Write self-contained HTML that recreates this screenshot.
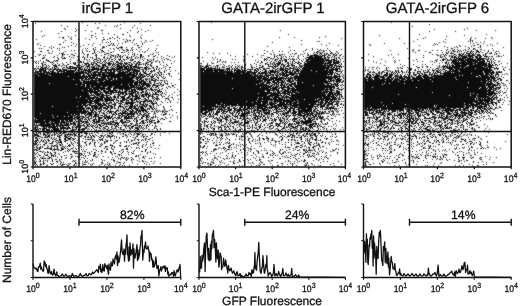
<!DOCTYPE html>
<html><head><meta charset="utf-8"><title>GATA-2irGFP flow cytometry</title>
<style>html,body{margin:0;padding:0;background:#fff}svg{display:block}text{stroke:#111;stroke-width:.3px;text-rendering:geometricPrecision}</style>
</head><body>
<svg width="520" height="306" viewBox="0 0 520 306" font-family='"Liberation Sans", Arial, Helvetica, sans-serif' fill="#111" stroke-linejoin="round">
<rect width="520" height="306" fill="#fff"/>
<defs><filter id="bl" x="0" y="0" width="520" height="306" filterUnits="userSpaceOnUse"><feConvolveMatrix order="3" kernelMatrix="1 2 1 2 14 2 1 2 1" divisor="26" edgeMode="none"/></filter></defs>
<path fill="#111" filter="url(#bl)" d="M82 22h1v1h-1zM124 22h1v1h-1zM35 23h1v1h-1zM95 23h1v1h-1zM99 23h1v1h-1zM140 23h1v1h-1zM120 24h1v1h-1zM61 25h1v1h-1zM87 25h1v1h-1zM105 25h1v1h-1zM117 25h1v1h-1zM134 25h1v1h-1zM150 25h1v1h-1zM67 26h1v1h-1zM114 26h1v1h-1zM116 26h1v1h-1zM98 27h1v1h-1zM132 27h1v1h-1zM64 28h1v1h-1zM75 28h1v1h-1zM97 28h1v1h-1zM120 28h1v1h-1zM137 28h1v1h-1zM65 29h1v1h-1zM78 29h1v1h-1zM141 29h1v1h-1zM76 30h1v1h-1zM85 30h1v1h-1zM101 30h2v1h-2zM130 30h1v1h-1zM148 30h1v1h-1zM41 31h1v1h-1zM61 31h1v1h-1zM75 31h1v1h-1zM91 31h1v1h-1zM138 31h1v1h-1zM145 31h1v1h-1zM127 32h1v1h-1zM137 32h1v1h-1zM58 33h1v1h-1zM95 33h1v1h-1zM102 33h1v1h-1zM108 33h1v1h-1zM114 34h1v1h-1zM122 34h2v1h-2zM44 35h1v1h-1zM75 35h1v1h-1zM91 35h2v1h-2zM129 35h1v1h-1zM141 35h1v1h-1zM42 36h1v1h-1zM68 36h1v1h-1zM95 36h1v1h-1zM117 36h1v1h-1zM130 36h1v1h-1zM59 37h1v1h-1zM62 37h2v1h-2zM71 37h1v1h-1zM91 37h1v1h-1zM103 37h1v1h-1zM112 37h1v1h-1zM117 37h1v1h-1zM140 37h1v1h-1zM63 38h1v1h-1zM70 38h1v1h-1zM85 38h1v1h-1zM96 38h1v1h-1zM109 38h2v1h-2zM114 38h1v1h-1zM119 38h1v1h-1zM141 38h1v1h-1zM36 39h1v1h-1zM71 39h1v1h-1zM78 39h1v1h-1zM89 39h1v1h-1zM103 39h2v1h-2zM107 39h1v1h-1zM123 39h1v1h-1zM126 39h1v1h-1zM134 39h1v1h-1zM65 40h1v1h-1zM102 40h1v1h-1zM117 40h1v1h-1zM127 40h1v1h-1zM129 40h2v1h-2zM133 40h1v1h-1zM145 40h1v1h-1zM152 40h1v1h-1zM110 41h1v1h-1zM125 41h1v1h-1zM127 41h1v1h-1zM141 41h1v1h-1zM146 41h1v1h-1zM150 41h1v1h-1zM63 42h1v1h-1zM71 42h1v1h-1zM102 42h1v1h-1zM106 42h1v1h-1zM108 42h1v1h-1zM125 42h1v1h-1zM132 42h1v1h-1zM144 42h1v1h-1zM38 43h1v1h-1zM73 43h1v1h-1zM93 43h1v1h-1zM111 43h1v1h-1zM113 43h1v1h-1zM118 43h1v1h-1zM122 43h1v1h-1zM136 43h1v1h-1zM142 43h1v1h-1zM37 44h1v1h-1zM59 44h2v1h-2zM76 44h1v1h-1zM88 44h1v1h-1zM100 44h1v1h-1zM110 44h1v1h-1zM113 44h1v1h-1zM134 44h1v1h-1zM142 44h1v1h-1zM40 45h1v1h-1zM71 45h1v1h-1zM83 45h1v1h-1zM92 45h1v1h-1zM108 45h2v1h-2zM112 45h1v1h-1zM114 45h1v1h-1zM117 45h1v1h-1zM137 45h2v1h-2zM157 45h1v1h-1zM44 46h1v1h-1zM51 46h1v1h-1zM68 46h1v1h-1zM75 46h1v1h-1zM80 46h1v1h-1zM103 46h1v1h-1zM106 46h1v1h-1zM121 46h1v1h-1zM141 46h1v1h-1zM49 47h1v1h-1zM53 47h1v1h-1zM62 47h1v1h-1zM64 47h1v1h-1zM95 47h1v1h-1zM102 47h3v1h-3zM116 47h1v1h-1zM119 47h4v1h-4zM126 47h1v1h-1zM132 47h1v1h-1zM138 47h2v1h-2zM39 48h1v1h-1zM41 48h1v1h-1zM51 48h1v1h-1zM57 48h1v1h-1zM59 48h1v1h-1zM85 48h1v1h-1zM87 48h1v1h-1zM93 48h1v1h-1zM102 48h1v1h-1zM110 48h1v1h-1zM113 48h1v1h-1zM117 48h2v1h-2zM121 48h1v1h-1zM131 48h1v1h-1zM148 48h1v1h-1zM156 48h1v1h-1zM82 49h1v1h-1zM93 49h1v1h-1zM95 49h1v1h-1zM100 49h1v1h-1zM114 49h1v1h-1zM122 49h1v1h-1zM126 49h2v1h-2zM132 49h1v1h-1zM136 49h1v1h-1zM140 49h1v1h-1zM47 50h2v1h-2zM59 50h1v1h-1zM71 50h1v1h-1zM74 50h1v1h-1zM86 50h1v1h-1zM94 50h1v1h-1zM101 50h2v1h-2zM108 50h1v1h-1zM119 50h1v1h-1zM123 50h2v1h-2zM127 50h2v1h-2zM130 50h1v1h-1zM132 50h1v1h-1zM147 50h1v1h-1zM155 50h1v1h-1zM34 51h1v1h-1zM40 51h2v1h-2zM52 51h1v1h-1zM65 51h1v1h-1zM82 51h1v1h-1zM87 51h1v1h-1zM89 51h1v1h-1zM94 51h1v1h-1zM97 51h1v1h-1zM102 51h2v1h-2zM113 51h1v1h-1zM126 51h1v1h-1zM139 51h1v1h-1zM142 51h1v1h-1zM145 51h1v1h-1zM48 52h1v1h-1zM63 52h1v1h-1zM82 52h1v1h-1zM94 52h1v1h-1zM99 52h1v1h-1zM101 52h1v1h-1zM104 52h1v1h-1zM110 52h2v1h-2zM121 52h2v1h-2zM124 52h1v1h-1zM128 52h1v1h-1zM132 52h1v1h-1zM144 52h1v1h-1zM156 52h1v1h-1zM158 52h1v1h-1zM49 53h1v1h-1zM51 53h1v1h-1zM59 53h1v1h-1zM61 53h2v1h-2zM75 53h1v1h-1zM83 53h1v1h-1zM92 53h2v1h-2zM95 53h1v1h-1zM106 53h3v1h-3zM134 53h1v1h-1zM153 53h1v1h-1zM38 54h1v1h-1zM40 54h1v1h-1zM62 54h3v1h-3zM67 54h1v1h-1zM71 54h2v1h-2zM84 54h1v1h-1zM87 54h2v1h-2zM96 54h1v1h-1zM104 54h2v1h-2zM110 54h1v1h-1zM117 54h2v1h-2zM128 54h1v1h-1zM132 54h1v1h-1zM134 54h1v1h-1zM137 54h1v1h-1zM140 54h2v1h-2zM150 54h1v1h-1zM152 54h1v1h-1zM158 54h1v1h-1zM39 55h1v1h-1zM43 55h1v1h-1zM45 55h1v1h-1zM57 55h1v1h-1zM62 55h1v1h-1zM73 55h2v1h-2zM87 55h1v1h-1zM95 55h2v1h-2zM101 55h1v1h-1zM108 55h1v1h-1zM111 55h3v1h-3zM115 55h1v1h-1zM118 55h1v1h-1zM120 55h1v1h-1zM123 55h1v1h-1zM125 55h1v1h-1zM134 55h1v1h-1zM140 55h2v1h-2zM148 55h1v1h-1zM155 55h1v1h-1zM167 55h1v1h-1zM35 56h1v1h-1zM54 56h1v1h-1zM62 56h1v1h-1zM69 56h1v1h-1zM77 56h2v1h-2zM83 56h1v1h-1zM87 56h1v1h-1zM96 56h1v1h-1zM104 56h1v1h-1zM110 56h1v1h-1zM113 56h1v1h-1zM115 56h1v1h-1zM117 56h1v1h-1zM119 56h2v1h-2zM122 56h1v1h-1zM127 56h1v1h-1zM131 56h1v1h-1zM133 56h1v1h-1zM136 56h1v1h-1zM140 56h2v1h-2zM143 56h1v1h-1zM148 56h1v1h-1zM153 56h2v1h-2zM161 56h1v1h-1zM169 56h1v1h-1zM174 56h1v1h-1zM43 57h2v1h-2zM53 57h1v1h-1zM57 57h1v1h-1zM61 57h1v1h-1zM64 57h1v1h-1zM71 57h1v1h-1zM73 57h1v1h-1zM82 57h1v1h-1zM84 57h1v1h-1zM87 57h1v1h-1zM90 57h1v1h-1zM92 57h1v1h-1zM96 57h1v1h-1zM103 57h2v1h-2zM107 57h1v1h-1zM110 57h2v1h-2zM115 57h1v1h-1zM117 57h1v1h-1zM120 57h1v1h-1zM122 57h1v1h-1zM126 57h2v1h-2zM129 57h1v1h-1zM131 57h1v1h-1zM135 57h1v1h-1zM138 57h1v1h-1zM140 57h1v1h-1zM142 57h1v1h-1zM157 57h1v1h-1zM163 57h1v1h-1zM172 57h1v1h-1zM42 58h2v1h-2zM58 58h1v1h-1zM62 58h4v1h-4zM78 58h1v1h-1zM84 58h1v1h-1zM92 58h1v1h-1zM96 58h1v1h-1zM98 58h2v1h-2zM104 58h1v1h-1zM107 58h1v1h-1zM109 58h1v1h-1zM114 58h1v1h-1zM120 58h1v1h-1zM127 58h2v1h-2zM131 58h1v1h-1zM135 58h1v1h-1zM137 58h1v1h-1zM140 58h1v1h-1zM144 58h1v1h-1zM153 58h1v1h-1zM161 58h1v1h-1zM166 58h1v1h-1zM46 59h1v1h-1zM58 59h1v1h-1zM70 59h1v1h-1zM78 59h1v1h-1zM84 59h1v1h-1zM86 59h1v1h-1zM89 59h1v1h-1zM94 59h3v1h-3zM100 59h1v1h-1zM102 59h1v1h-1zM106 59h1v1h-1zM109 59h1v1h-1zM111 59h2v1h-2zM115 59h1v1h-1zM118 59h3v1h-3zM123 59h2v1h-2zM126 59h1v1h-1zM130 59h1v1h-1zM132 59h2v1h-2zM142 59h1v1h-1zM147 59h1v1h-1zM150 59h1v1h-1zM153 59h1v1h-1zM164 59h1v1h-1zM167 59h2v1h-2zM40 60h1v1h-1zM46 60h3v1h-3zM54 60h1v1h-1zM56 60h2v1h-2zM77 60h3v1h-3zM87 60h1v1h-1zM93 60h1v1h-1zM97 60h2v1h-2zM100 60h1v1h-1zM104 60h2v1h-2zM108 60h1v1h-1zM114 60h1v1h-1zM119 60h1v1h-1zM121 60h1v1h-1zM124 60h1v1h-1zM130 60h3v1h-3zM139 60h1v1h-1zM143 60h1v1h-1zM147 60h2v1h-2zM151 60h1v1h-1zM153 60h1v1h-1zM157 60h1v1h-1zM162 60h1v1h-1zM170 60h1v1h-1zM34 61h1v1h-1zM36 61h1v1h-1zM38 61h1v1h-1zM43 61h1v1h-1zM48 61h2v1h-2zM53 61h1v1h-1zM55 61h1v1h-1zM57 61h1v1h-1zM70 61h1v1h-1zM80 61h2v1h-2zM83 61h1v1h-1zM89 61h1v1h-1zM94 61h1v1h-1zM96 61h1v1h-1zM100 61h1v1h-1zM103 61h1v1h-1zM105 61h1v1h-1zM110 61h3v1h-3zM116 61h2v1h-2zM121 61h2v1h-2zM134 61h2v1h-2zM138 61h1v1h-1zM149 61h2v1h-2zM155 61h2v1h-2zM159 61h1v1h-1zM174 61h1v1h-1zM35 62h1v1h-1zM43 62h1v1h-1zM45 62h1v1h-1zM50 62h3v1h-3zM66 62h1v1h-1zM73 62h1v1h-1zM75 62h1v1h-1zM77 62h1v1h-1zM80 62h2v1h-2zM83 62h1v1h-1zM87 62h1v1h-1zM91 62h1v1h-1zM93 62h2v1h-2zM97 62h3v1h-3zM102 62h1v1h-1zM104 62h1v1h-1zM106 62h1v1h-1zM108 62h2v1h-2zM113 62h1v1h-1zM116 62h3v1h-3zM120 62h1v1h-1zM124 62h1v1h-1zM126 62h1v1h-1zM128 62h3v1h-3zM133 62h1v1h-1zM137 62h4v1h-4zM146 62h3v1h-3zM151 62h2v1h-2zM159 62h1v1h-1zM163 62h1v1h-1zM36 63h1v1h-1zM38 63h1v1h-1zM41 63h2v1h-2zM53 63h1v1h-1zM57 63h1v1h-1zM62 63h1v1h-1zM70 63h1v1h-1zM73 63h3v1h-3zM84 63h5v1h-5zM91 63h1v1h-1zM93 63h1v1h-1zM95 63h2v1h-2zM100 63h2v1h-2zM105 63h1v1h-1zM107 63h5v1h-5zM113 63h1v1h-1zM115 63h1v1h-1zM118 63h5v1h-5zM124 63h4v1h-4zM131 63h1v1h-1zM134 63h1v1h-1zM136 63h2v1h-2zM139 63h1v1h-1zM143 63h1v1h-1zM145 63h2v1h-2zM151 63h1v1h-1zM171 63h1v1h-1zM42 64h1v1h-1zM44 64h2v1h-2zM52 64h1v1h-1zM55 64h1v1h-1zM59 64h1v1h-1zM63 64h1v1h-1zM67 64h2v1h-2zM74 64h2v1h-2zM78 64h1v1h-1zM82 64h1v1h-1zM85 64h2v1h-2zM88 64h2v1h-2zM91 64h3v1h-3zM96 64h2v1h-2zM102 64h4v1h-4zM108 64h3v1h-3zM112 64h3v1h-3zM116 64h3v1h-3zM120 64h2v1h-2zM123 64h1v1h-1zM125 64h2v1h-2zM128 64h2v1h-2zM131 64h2v1h-2zM135 64h2v1h-2zM138 64h4v1h-4zM143 64h1v1h-1zM145 64h1v1h-1zM147 64h2v1h-2zM150 64h1v1h-1zM160 64h1v1h-1zM166 64h1v1h-1zM42 65h2v1h-2zM46 65h1v1h-1zM48 65h1v1h-1zM53 65h4v1h-4zM58 65h2v1h-2zM62 65h1v1h-1zM64 65h1v1h-1zM66 65h1v1h-1zM76 65h5v1h-5zM84 65h1v1h-1zM86 65h1v1h-1zM88 65h2v1h-2zM92 65h1v1h-1zM95 65h1v1h-1zM97 65h3v1h-3zM102 65h4v1h-4zM108 65h2v1h-2zM112 65h1v1h-1zM115 65h1v1h-1zM117 65h3v1h-3zM121 65h1v1h-1zM123 65h2v1h-2zM127 65h1v1h-1zM129 65h3v1h-3zM135 65h2v1h-2zM138 65h1v1h-1zM145 65h1v1h-1zM150 65h2v1h-2zM163 65h1v1h-1zM167 65h1v1h-1zM36 66h1v1h-1zM38 66h1v1h-1zM40 66h1v1h-1zM42 66h1v1h-1zM46 66h1v1h-1zM49 66h1v1h-1zM54 66h3v1h-3zM61 66h1v1h-1zM66 66h1v1h-1zM69 66h4v1h-4zM77 66h1v1h-1zM81 66h3v1h-3zM86 66h4v1h-4zM91 66h1v1h-1zM93 66h2v1h-2zM96 66h1v1h-1zM98 66h3v1h-3zM102 66h2v1h-2zM105 66h3v1h-3zM111 66h1v1h-1zM113 66h2v1h-2zM116 66h13v1h-13zM130 66h7v1h-7zM138 66h1v1h-1zM146 66h1v1h-1zM148 66h1v1h-1zM151 66h1v1h-1zM156 66h2v1h-2zM165 66h1v1h-1zM41 67h2v1h-2zM44 67h3v1h-3zM48 67h1v1h-1zM52 67h1v1h-1zM54 67h1v1h-1zM56 67h2v1h-2zM63 67h2v1h-2zM66 67h2v1h-2zM69 67h2v1h-2zM72 67h10v1h-10zM85 67h1v1h-1zM87 67h1v1h-1zM89 67h1v1h-1zM91 67h4v1h-4zM96 67h1v1h-1zM98 67h1v1h-1zM101 67h4v1h-4zM107 67h2v1h-2zM110 67h1v1h-1zM112 67h1v1h-1zM115 67h1v1h-1zM117 67h6v1h-6zM124 67h3v1h-3zM128 67h4v1h-4zM133 67h10v1h-10zM144 67h4v1h-4zM152 67h2v1h-2zM157 67h1v1h-1zM163 67h1v1h-1zM169 67h2v1h-2zM34 68h2v1h-2zM37 68h2v1h-2zM40 68h6v1h-6zM47 68h1v1h-1zM50 68h1v1h-1zM52 68h1v1h-1zM54 68h2v1h-2zM58 68h1v1h-1zM62 68h1v1h-1zM67 68h10v1h-10zM79 68h2v1h-2zM82 68h1v1h-1zM84 68h1v1h-1zM87 68h1v1h-1zM89 68h1v1h-1zM92 68h7v1h-7zM100 68h4v1h-4zM106 68h2v1h-2zM111 68h4v1h-4zM116 68h7v1h-7zM124 68h5v1h-5zM130 68h3v1h-3zM134 68h1v1h-1zM137 68h3v1h-3zM144 68h3v1h-3zM148 68h3v1h-3zM153 68h1v1h-1zM156 68h1v1h-1zM159 68h1v1h-1zM161 68h1v1h-1zM165 68h1v1h-1zM34 69h1v1h-1zM36 69h1v1h-1zM39 69h5v1h-5zM45 69h2v1h-2zM48 69h4v1h-4zM53 69h8v1h-8zM62 69h5v1h-5zM70 69h1v1h-1zM75 69h2v1h-2zM78 69h5v1h-5zM84 69h3v1h-3zM88 69h15v1h-15zM104 69h17v1h-17zM122 69h15v1h-15zM139 69h1v1h-1zM141 69h3v1h-3zM145 69h2v1h-2zM148 69h1v1h-1zM154 69h1v1h-1zM156 69h1v1h-1zM158 69h1v1h-1zM169 69h1v1h-1zM35 70h1v1h-1zM39 70h7v1h-7zM49 70h1v1h-1zM52 70h2v1h-2zM56 70h2v1h-2zM59 70h3v1h-3zM63 70h13v1h-13zM77 70h2v1h-2zM81 70h1v1h-1zM83 70h7v1h-7zM91 70h3v1h-3zM97 70h2v1h-2zM100 70h7v1h-7zM108 70h4v1h-4zM113 70h2v1h-2zM116 70h2v1h-2zM119 70h4v1h-4zM124 70h1v1h-1zM127 70h4v1h-4zM132 70h8v1h-8zM143 70h1v1h-1zM146 70h1v1h-1zM151 70h1v1h-1zM153 70h2v1h-2zM159 70h1v1h-1zM164 70h1v1h-1zM166 70h1v1h-1zM175 70h1v1h-1zM35 71h7v1h-7zM43 71h4v1h-4zM48 71h1v1h-1zM50 71h4v1h-4zM57 71h8v1h-8zM66 71h9v1h-9zM76 71h1v1h-1zM78 71h1v1h-1zM80 71h4v1h-4zM85 71h1v1h-1zM87 71h5v1h-5zM94 71h4v1h-4zM100 71h2v1h-2zM105 71h2v1h-2zM108 71h1v1h-1zM110 71h2v1h-2zM113 71h3v1h-3zM117 71h4v1h-4zM122 71h2v1h-2zM125 71h5v1h-5zM131 71h1v1h-1zM133 71h7v1h-7zM142 71h2v1h-2zM145 71h1v1h-1zM148 71h1v1h-1zM150 71h3v1h-3zM154 71h1v1h-1zM159 71h1v1h-1zM164 71h1v1h-1zM170 71h1v1h-1zM34 72h5v1h-5zM40 72h2v1h-2zM43 72h7v1h-7zM51 72h5v1h-5zM57 72h2v1h-2zM61 72h1v1h-1zM63 72h11v1h-11zM75 72h12v1h-12zM88 72h3v1h-3zM92 72h23v1h-23zM118 72h10v1h-10zM129 72h6v1h-6zM136 72h2v1h-2zM140 72h1v1h-1zM143 72h3v1h-3zM151 72h1v1h-1zM157 72h2v1h-2zM160 72h2v1h-2zM164 72h1v1h-1zM34 73h2v1h-2zM37 73h8v1h-8zM46 73h38v1h-38zM85 73h4v1h-4zM90 73h2v1h-2zM93 73h3v1h-3zM98 73h3v1h-3zM102 73h3v1h-3zM106 73h9v1h-9zM117 73h9v1h-9zM127 73h5v1h-5zM133 73h5v1h-5zM139 73h2v1h-2zM144 73h3v1h-3zM149 73h2v1h-2zM155 73h1v1h-1zM158 73h1v1h-1zM161 73h1v1h-1zM168 73h2v1h-2zM178 73h1v1h-1zM34 74h14v1h-14zM49 74h32v1h-32zM83 74h2v1h-2zM87 74h3v1h-3zM91 74h16v1h-16zM108 74h27v1h-27zM136 74h2v1h-2zM139 74h5v1h-5zM146 74h4v1h-4zM152 74h1v1h-1zM154 74h1v1h-1zM156 74h1v1h-1zM159 74h1v1h-1zM161 74h1v1h-1zM163 74h1v1h-1zM166 74h1v1h-1zM169 74h1v1h-1zM34 75h4v1h-4zM39 75h11v1h-11zM51 75h30v1h-30zM82 75h3v1h-3zM86 75h1v1h-1zM88 75h13v1h-13zM102 75h35v1h-35zM138 75h1v1h-1zM140 75h3v1h-3zM144 75h1v1h-1zM146 75h1v1h-1zM149 75h1v1h-1zM152 75h1v1h-1zM154 75h1v1h-1zM157 75h1v1h-1zM159 75h2v1h-2zM169 75h1v1h-1zM34 76h34v1h-34zM69 76h22v1h-22zM92 76h4v1h-4zM97 76h1v1h-1zM99 76h31v1h-31zM131 76h6v1h-6zM138 76h3v1h-3zM142 76h4v1h-4zM147 76h2v1h-2zM150 76h4v1h-4zM156 76h1v1h-1zM161 76h1v1h-1zM163 76h1v1h-1zM171 76h1v1h-1zM34 77h54v1h-54zM89 77h6v1h-6zM96 77h2v1h-2zM101 77h5v1h-5zM107 77h2v1h-2zM110 77h11v1h-11zM122 77h13v1h-13zM136 77h8v1h-8zM151 77h2v1h-2zM157 77h2v1h-2zM162 77h1v1h-1zM165 77h1v1h-1zM34 78h50v1h-50zM85 78h2v1h-2zM88 78h18v1h-18zM107 78h6v1h-6zM114 78h2v1h-2zM117 78h17v1h-17zM135 78h4v1h-4zM140 78h2v1h-2zM145 78h1v1h-1zM147 78h1v1h-1zM149 78h1v1h-1zM151 78h1v1h-1zM153 78h2v1h-2zM158 78h1v1h-1zM163 78h2v1h-2zM34 79h39v1h-39zM74 79h5v1h-5zM81 79h2v1h-2zM84 79h6v1h-6zM91 79h2v1h-2zM95 79h2v1h-2zM98 79h9v1h-9zM108 79h5v1h-5zM114 79h2v1h-2zM117 79h16v1h-16zM136 79h2v1h-2zM139 79h3v1h-3zM143 79h1v1h-1zM145 79h3v1h-3zM149 79h1v1h-1zM151 79h2v1h-2zM155 79h2v1h-2zM179 79h1v1h-1zM34 80h46v1h-46zM81 80h4v1h-4zM86 80h1v1h-1zM88 80h1v1h-1zM90 80h14v1h-14zM105 80h6v1h-6zM112 80h23v1h-23zM137 80h3v1h-3zM141 80h3v1h-3zM146 80h1v1h-1zM149 80h1v1h-1zM151 80h5v1h-5zM157 80h2v1h-2zM160 80h3v1h-3zM164 80h1v1h-1zM166 80h1v1h-1zM34 81h47v1h-47zM83 81h14v1h-14zM98 81h5v1h-5zM104 81h30v1h-30zM135 81h3v1h-3zM139 81h7v1h-7zM147 81h1v1h-1zM149 81h2v1h-2zM154 81h2v1h-2zM164 81h1v1h-1zM167 81h1v1h-1zM34 82h64v1h-64zM99 82h43v1h-43zM143 82h3v1h-3zM149 82h2v1h-2zM154 82h1v1h-1zM159 82h1v1h-1zM161 82h1v1h-1zM164 82h1v1h-1zM34 83h15v1h-15zM50 83h32v1h-32zM83 83h50v1h-50zM134 83h4v1h-4zM139 83h10v1h-10zM150 83h2v1h-2zM154 83h1v1h-1zM156 83h3v1h-3zM160 83h1v1h-1zM165 83h3v1h-3zM171 83h1v1h-1zM34 84h42v1h-42zM77 84h8v1h-8zM86 84h35v1h-35zM122 84h6v1h-6zM129 84h4v1h-4zM134 84h4v1h-4zM139 84h1v1h-1zM141 84h9v1h-9zM153 84h2v1h-2zM160 84h2v1h-2zM163 84h1v1h-1zM167 84h1v1h-1zM175 84h1v1h-1zM34 85h47v1h-47zM82 85h3v1h-3zM86 85h4v1h-4zM91 85h50v1h-50zM142 85h3v1h-3zM146 85h5v1h-5zM152 85h8v1h-8zM162 85h2v1h-2zM172 85h2v1h-2zM34 86h51v1h-51zM86 86h8v1h-8zM95 86h6v1h-6zM102 86h5v1h-5zM108 86h5v1h-5zM114 86h15v1h-15zM130 86h5v1h-5zM136 86h1v1h-1zM138 86h1v1h-1zM140 86h4v1h-4zM146 86h4v1h-4zM152 86h1v1h-1zM156 86h2v1h-2zM161 86h1v1h-1zM168 86h2v1h-2zM172 86h1v1h-1zM34 87h56v1h-56zM91 87h14v1h-14zM107 87h5v1h-5zM113 87h30v1h-30zM144 87h2v1h-2zM147 87h1v1h-1zM149 87h1v1h-1zM151 87h1v1h-1zM153 87h1v1h-1zM155 87h2v1h-2zM158 87h1v1h-1zM166 87h1v1h-1zM170 87h1v1h-1zM174 87h1v1h-1zM34 88h58v1h-58zM93 88h18v1h-18zM113 88h19v1h-19zM134 88h1v1h-1zM136 88h11v1h-11zM150 88h2v1h-2zM158 88h1v1h-1zM162 88h1v1h-1zM167 88h1v1h-1zM34 89h54v1h-54zM89 89h10v1h-10zM100 89h5v1h-5zM106 89h5v1h-5zM113 89h3v1h-3zM119 89h4v1h-4zM124 89h6v1h-6zM131 89h5v1h-5zM137 89h7v1h-7zM145 89h1v1h-1zM147 89h2v1h-2zM150 89h3v1h-3zM154 89h3v1h-3zM159 89h1v1h-1zM161 89h1v1h-1zM177 89h1v1h-1zM34 90h48v1h-48zM83 90h10v1h-10zM94 90h2v1h-2zM97 90h3v1h-3zM101 90h1v1h-1zM103 90h3v1h-3zM108 90h10v1h-10zM119 90h1v1h-1zM122 90h1v1h-1zM125 90h3v1h-3zM129 90h1v1h-1zM131 90h5v1h-5zM139 90h1v1h-1zM141 90h2v1h-2zM146 90h1v1h-1zM149 90h1v1h-1zM151 90h3v1h-3zM155 90h1v1h-1zM157 90h3v1h-3zM165 90h1v1h-1zM34 91h67v1h-67zM103 91h11v1h-11zM115 91h2v1h-2zM118 91h3v1h-3zM122 91h1v1h-1zM124 91h3v1h-3zM128 91h5v1h-5zM134 91h4v1h-4zM142 91h2v1h-2zM145 91h2v1h-2zM154 91h1v1h-1zM157 91h5v1h-5zM179 91h1v1h-1zM34 92h54v1h-54zM89 92h9v1h-9zM100 92h3v1h-3zM104 92h5v1h-5zM110 92h17v1h-17zM129 92h1v1h-1zM131 92h5v1h-5zM137 92h2v1h-2zM140 92h4v1h-4zM145 92h1v1h-1zM147 92h1v1h-1zM149 92h1v1h-1zM152 92h1v1h-1zM155 92h2v1h-2zM158 92h1v1h-1zM160 92h1v1h-1zM162 92h1v1h-1zM166 92h1v1h-1zM174 92h1v1h-1zM34 93h55v1h-55zM90 93h2v1h-2zM94 93h7v1h-7zM102 93h1v1h-1zM105 93h7v1h-7zM113 93h1v1h-1zM118 93h1v1h-1zM120 93h4v1h-4zM125 93h2v1h-2zM128 93h6v1h-6zM135 93h1v1h-1zM137 93h2v1h-2zM141 93h1v1h-1zM145 93h3v1h-3zM149 93h1v1h-1zM153 93h1v1h-1zM155 93h2v1h-2zM162 93h1v1h-1zM164 93h1v1h-1zM34 94h55v1h-55zM91 94h1v1h-1zM93 94h1v1h-1zM95 94h9v1h-9zM106 94h1v1h-1zM110 94h2v1h-2zM115 94h1v1h-1zM117 94h4v1h-4zM122 94h2v1h-2zM125 94h3v1h-3zM129 94h4v1h-4zM135 94h2v1h-2zM138 94h1v1h-1zM140 94h1v1h-1zM142 94h7v1h-7zM150 94h1v1h-1zM152 94h7v1h-7zM160 94h2v1h-2zM165 94h1v1h-1zM172 94h1v1h-1zM179 94h1v1h-1zM34 95h61v1h-61zM96 95h4v1h-4zM101 95h9v1h-9zM114 95h1v1h-1zM118 95h2v1h-2zM124 95h2v1h-2zM129 95h1v1h-1zM131 95h3v1h-3zM135 95h3v1h-3zM139 95h1v1h-1zM141 95h3v1h-3zM145 95h2v1h-2zM148 95h3v1h-3zM152 95h1v1h-1zM158 95h1v1h-1zM161 95h1v1h-1zM169 95h1v1h-1zM177 95h1v1h-1zM34 96h46v1h-46zM81 96h9v1h-9zM94 96h2v1h-2zM97 96h1v1h-1zM99 96h5v1h-5zM106 96h2v1h-2zM110 96h1v1h-1zM113 96h3v1h-3zM117 96h2v1h-2zM120 96h5v1h-5zM128 96h3v1h-3zM132 96h6v1h-6zM139 96h1v1h-1zM141 96h4v1h-4zM146 96h1v1h-1zM148 96h2v1h-2zM151 96h3v1h-3zM156 96h2v1h-2zM162 96h1v1h-1zM164 96h1v1h-1zM168 96h1v1h-1zM34 97h42v1h-42zM77 97h2v1h-2zM80 97h19v1h-19zM100 97h5v1h-5zM106 97h6v1h-6zM113 97h3v1h-3zM117 97h2v1h-2zM121 97h4v1h-4zM127 97h3v1h-3zM132 97h1v1h-1zM135 97h5v1h-5zM143 97h1v1h-1zM147 97h2v1h-2zM152 97h1v1h-1zM154 97h1v1h-1zM157 97h1v1h-1zM162 97h1v1h-1zM171 97h2v1h-2zM34 98h52v1h-52zM87 98h8v1h-8zM96 98h7v1h-7zM104 98h6v1h-6zM111 98h1v1h-1zM114 98h1v1h-1zM116 98h1v1h-1zM118 98h1v1h-1zM120 98h1v1h-1zM122 98h3v1h-3zM126 98h3v1h-3zM130 98h3v1h-3zM134 98h7v1h-7zM144 98h2v1h-2zM148 98h1v1h-1zM152 98h2v1h-2zM155 98h4v1h-4zM165 98h4v1h-4zM34 99h57v1h-57zM92 99h2v1h-2zM95 99h8v1h-8zM104 99h11v1h-11zM116 99h1v1h-1zM122 99h5v1h-5zM129 99h4v1h-4zM134 99h3v1h-3zM138 99h1v1h-1zM141 99h1v1h-1zM143 99h1v1h-1zM145 99h2v1h-2zM148 99h1v1h-1zM154 99h1v1h-1zM156 99h2v1h-2zM159 99h1v1h-1zM168 99h1v1h-1zM173 99h1v1h-1zM178 99h1v1h-1zM34 100h54v1h-54zM89 100h4v1h-4zM94 100h10v1h-10zM105 100h9v1h-9zM116 100h3v1h-3zM120 100h5v1h-5zM126 100h3v1h-3zM131 100h4v1h-4zM136 100h1v1h-1zM139 100h1v1h-1zM144 100h4v1h-4zM149 100h3v1h-3zM153 100h1v1h-1zM157 100h1v1h-1zM165 100h1v1h-1zM169 100h1v1h-1zM34 101h44v1h-44zM79 101h21v1h-21zM102 101h1v1h-1zM104 101h4v1h-4zM110 101h1v1h-1zM113 101h1v1h-1zM118 101h1v1h-1zM120 101h3v1h-3zM126 101h1v1h-1zM128 101h1v1h-1zM131 101h2v1h-2zM136 101h3v1h-3zM140 101h6v1h-6zM147 101h5v1h-5zM153 101h1v1h-1zM155 101h1v1h-1zM161 101h1v1h-1zM170 101h1v1h-1zM34 102h58v1h-58zM94 102h5v1h-5zM100 102h1v1h-1zM103 102h1v1h-1zM106 102h1v1h-1zM109 102h3v1h-3zM114 102h1v1h-1zM116 102h2v1h-2zM120 102h1v1h-1zM122 102h2v1h-2zM125 102h11v1h-11zM137 102h1v1h-1zM139 102h2v1h-2zM143 102h2v1h-2zM147 102h1v1h-1zM151 102h2v1h-2zM156 102h1v1h-1zM162 102h1v1h-1zM167 102h1v1h-1zM170 102h1v1h-1zM177 102h1v1h-1zM34 103h53v1h-53zM89 103h5v1h-5zM95 103h6v1h-6zM102 103h3v1h-3zM106 103h4v1h-4zM111 103h1v1h-1zM114 103h2v1h-2zM118 103h4v1h-4zM125 103h9v1h-9zM139 103h2v1h-2zM143 103h1v1h-1zM145 103h1v1h-1zM149 103h1v1h-1zM151 103h6v1h-6zM34 104h48v1h-48zM83 104h3v1h-3zM87 104h4v1h-4zM95 104h1v1h-1zM97 104h5v1h-5zM103 104h3v1h-3zM108 104h1v1h-1zM112 104h4v1h-4zM120 104h1v1h-1zM122 104h1v1h-1zM124 104h1v1h-1zM126 104h2v1h-2zM130 104h3v1h-3zM135 104h1v1h-1zM137 104h1v1h-1zM140 104h4v1h-4zM145 104h3v1h-3zM152 104h2v1h-2zM157 104h1v1h-1zM160 104h1v1h-1zM34 105h54v1h-54zM89 105h8v1h-8zM98 105h9v1h-9zM108 105h4v1h-4zM114 105h2v1h-2zM119 105h2v1h-2zM124 105h1v1h-1zM128 105h1v1h-1zM130 105h3v1h-3zM134 105h1v1h-1zM136 105h2v1h-2zM139 105h1v1h-1zM142 105h3v1h-3zM146 105h2v1h-2zM149 105h2v1h-2zM153 105h1v1h-1zM158 105h1v1h-1zM34 106h18v1h-18zM53 106h24v1h-24zM78 106h5v1h-5zM85 106h2v1h-2zM91 106h8v1h-8zM100 106h3v1h-3zM106 106h3v1h-3zM110 106h3v1h-3zM114 106h1v1h-1zM118 106h5v1h-5zM125 106h3v1h-3zM129 106h7v1h-7zM137 106h1v1h-1zM139 106h4v1h-4zM144 106h3v1h-3zM149 106h3v1h-3zM153 106h1v1h-1zM156 106h1v1h-1zM163 106h1v1h-1zM170 106h1v1h-1zM34 107h50v1h-50zM85 107h1v1h-1zM87 107h3v1h-3zM91 107h2v1h-2zM94 107h4v1h-4zM99 107h3v1h-3zM103 107h3v1h-3zM107 107h3v1h-3zM111 107h2v1h-2zM114 107h1v1h-1zM118 107h1v1h-1zM120 107h1v1h-1zM122 107h2v1h-2zM125 107h1v1h-1zM129 107h4v1h-4zM134 107h2v1h-2zM138 107h1v1h-1zM140 107h4v1h-4zM145 107h1v1h-1zM150 107h2v1h-2zM153 107h1v1h-1zM163 107h1v1h-1zM34 108h51v1h-51zM86 108h5v1h-5zM92 108h10v1h-10zM103 108h5v1h-5zM110 108h3v1h-3zM114 108h2v1h-2zM118 108h1v1h-1zM123 108h2v1h-2zM126 108h1v1h-1zM128 108h4v1h-4zM133 108h6v1h-6zM140 108h4v1h-4zM147 108h3v1h-3zM151 108h2v1h-2zM154 108h1v1h-1zM156 108h1v1h-1zM164 108h1v1h-1zM34 109h51v1h-51zM86 109h1v1h-1zM88 109h1v1h-1zM90 109h1v1h-1zM92 109h2v1h-2zM95 109h2v1h-2zM98 109h2v1h-2zM101 109h1v1h-1zM106 109h2v1h-2zM110 109h1v1h-1zM117 109h1v1h-1zM120 109h1v1h-1zM124 109h1v1h-1zM126 109h3v1h-3zM131 109h2v1h-2zM135 109h3v1h-3zM139 109h1v1h-1zM141 109h5v1h-5zM147 109h1v1h-1zM149 109h1v1h-1zM152 109h2v1h-2zM155 109h1v1h-1zM164 109h1v1h-1zM171 109h1v1h-1zM34 110h44v1h-44zM79 110h3v1h-3zM83 110h3v1h-3zM87 110h1v1h-1zM90 110h4v1h-4zM96 110h1v1h-1zM100 110h2v1h-2zM103 110h1v1h-1zM105 110h1v1h-1zM108 110h1v1h-1zM110 110h1v1h-1zM116 110h3v1h-3zM120 110h1v1h-1zM122 110h2v1h-2zM125 110h1v1h-1zM127 110h2v1h-2zM130 110h1v1h-1zM132 110h2v1h-2zM136 110h11v1h-11zM156 110h2v1h-2zM159 110h1v1h-1zM162 110h1v1h-1zM164 110h1v1h-1zM169 110h1v1h-1zM172 110h1v1h-1zM34 111h55v1h-55zM91 111h2v1h-2zM94 111h2v1h-2zM98 111h3v1h-3zM104 111h1v1h-1zM107 111h7v1h-7zM115 111h2v1h-2zM118 111h1v1h-1zM122 111h1v1h-1zM124 111h3v1h-3zM129 111h5v1h-5zM135 111h2v1h-2zM138 111h3v1h-3zM142 111h2v1h-2zM145 111h2v1h-2zM148 111h1v1h-1zM151 111h2v1h-2zM154 111h1v1h-1zM156 111h1v1h-1zM158 111h1v1h-1zM160 111h1v1h-1zM162 111h2v1h-2zM165 111h3v1h-3zM34 112h33v1h-33zM68 112h19v1h-19zM88 112h6v1h-6zM95 112h2v1h-2zM99 112h1v1h-1zM101 112h1v1h-1zM103 112h1v1h-1zM106 112h1v1h-1zM109 112h3v1h-3zM114 112h2v1h-2zM120 112h1v1h-1zM122 112h4v1h-4zM127 112h1v1h-1zM130 112h3v1h-3zM134 112h3v1h-3zM138 112h1v1h-1zM140 112h1v1h-1zM143 112h1v1h-1zM146 112h2v1h-2zM154 112h1v1h-1zM157 112h1v1h-1zM162 112h1v1h-1zM164 112h1v1h-1zM176 112h1v1h-1zM34 113h6v1h-6zM41 113h39v1h-39zM81 113h5v1h-5zM87 113h5v1h-5zM93 113h1v1h-1zM95 113h2v1h-2zM99 113h1v1h-1zM102 113h3v1h-3zM107 113h1v1h-1zM109 113h1v1h-1zM111 113h1v1h-1zM113 113h1v1h-1zM115 113h2v1h-2zM118 113h17v1h-17zM136 113h2v1h-2zM139 113h2v1h-2zM144 113h2v1h-2zM148 113h2v1h-2zM154 113h2v1h-2zM165 113h2v1h-2zM34 114h37v1h-37zM72 114h2v1h-2zM75 114h4v1h-4zM81 114h1v1h-1zM84 114h1v1h-1zM86 114h7v1h-7zM94 114h5v1h-5zM104 114h1v1h-1zM106 114h1v1h-1zM112 114h3v1h-3zM116 114h1v1h-1zM118 114h1v1h-1zM121 114h2v1h-2zM125 114h1v1h-1zM127 114h8v1h-8zM137 114h1v1h-1zM140 114h2v1h-2zM143 114h2v1h-2zM146 114h1v1h-1zM148 114h1v1h-1zM153 114h1v1h-1zM161 114h1v1h-1zM163 114h3v1h-3zM169 114h1v1h-1zM34 115h18v1h-18zM53 115h23v1h-23zM77 115h2v1h-2zM85 115h2v1h-2zM89 115h3v1h-3zM94 115h3v1h-3zM98 115h1v1h-1zM100 115h3v1h-3zM104 115h3v1h-3zM109 115h1v1h-1zM112 115h1v1h-1zM115 115h1v1h-1zM118 115h3v1h-3zM122 115h3v1h-3zM126 115h3v1h-3zM131 115h1v1h-1zM133 115h1v1h-1zM138 115h2v1h-2zM142 115h2v1h-2zM145 115h4v1h-4zM155 115h1v1h-1zM163 115h1v1h-1zM172 115h1v1h-1zM34 116h23v1h-23zM58 116h6v1h-6zM65 116h3v1h-3zM69 116h4v1h-4zM74 116h1v1h-1zM76 116h2v1h-2zM79 116h5v1h-5zM85 116h1v1h-1zM88 116h2v1h-2zM91 116h1v1h-1zM93 116h6v1h-6zM103 116h2v1h-2zM106 116h4v1h-4zM111 116h2v1h-2zM119 116h1v1h-1zM121 116h2v1h-2zM124 116h3v1h-3zM128 116h7v1h-7zM137 116h1v1h-1zM142 116h3v1h-3zM146 116h2v1h-2zM149 116h1v1h-1zM153 116h1v1h-1zM155 116h1v1h-1zM177 116h1v1h-1zM34 117h19v1h-19zM54 117h19v1h-19zM74 117h6v1h-6zM82 117h3v1h-3zM86 117h3v1h-3zM91 117h1v1h-1zM93 117h1v1h-1zM95 117h1v1h-1zM98 117h5v1h-5zM104 117h8v1h-8zM114 117h2v1h-2zM117 117h3v1h-3zM121 117h1v1h-1zM124 117h6v1h-6zM131 117h1v1h-1zM136 117h1v1h-1zM138 117h1v1h-1zM141 117h2v1h-2zM146 117h3v1h-3zM151 117h3v1h-3zM155 117h1v1h-1zM157 117h1v1h-1zM165 117h1v1h-1zM170 117h1v1h-1zM35 118h40v1h-40zM76 118h3v1h-3zM80 118h3v1h-3zM85 118h1v1h-1zM88 118h1v1h-1zM90 118h2v1h-2zM95 118h1v1h-1zM98 118h4v1h-4zM104 118h2v1h-2zM107 118h4v1h-4zM112 118h2v1h-2zM116 118h1v1h-1zM118 118h3v1h-3zM124 118h9v1h-9zM134 118h3v1h-3zM141 118h2v1h-2zM146 118h1v1h-1zM150 118h1v1h-1zM152 118h1v1h-1zM161 118h2v1h-2zM166 118h1v1h-1zM177 118h1v1h-1zM34 119h2v1h-2zM37 119h36v1h-36zM74 119h2v1h-2zM77 119h1v1h-1zM79 119h2v1h-2zM82 119h1v1h-1zM84 119h3v1h-3zM88 119h2v1h-2zM93 119h4v1h-4zM98 119h2v1h-2zM103 119h1v1h-1zM106 119h1v1h-1zM108 119h1v1h-1zM112 119h1v1h-1zM117 119h1v1h-1zM121 119h2v1h-2zM124 119h1v1h-1zM126 119h1v1h-1zM134 119h1v1h-1zM136 119h1v1h-1zM139 119h2v1h-2zM146 119h3v1h-3zM150 119h1v1h-1zM157 119h1v1h-1zM160 119h1v1h-1zM163 119h2v1h-2zM34 120h10v1h-10zM45 120h15v1h-15zM61 120h3v1h-3zM65 120h3v1h-3zM69 120h4v1h-4zM75 120h1v1h-1zM78 120h1v1h-1zM80 120h2v1h-2zM87 120h1v1h-1zM89 120h1v1h-1zM92 120h3v1h-3zM96 120h1v1h-1zM98 120h6v1h-6zM106 120h2v1h-2zM113 120h1v1h-1zM115 120h2v1h-2zM120 120h3v1h-3zM126 120h4v1h-4zM133 120h1v1h-1zM136 120h2v1h-2zM142 120h2v1h-2zM145 120h2v1h-2zM149 120h1v1h-1zM151 120h4v1h-4zM158 120h1v1h-1zM34 121h16v1h-16zM51 121h9v1h-9zM61 121h4v1h-4zM66 121h7v1h-7zM74 121h1v1h-1zM76 121h3v1h-3zM80 121h8v1h-8zM90 121h1v1h-1zM93 121h2v1h-2zM96 121h4v1h-4zM102 121h1v1h-1zM104 121h1v1h-1zM110 121h4v1h-4zM120 121h3v1h-3zM124 121h2v1h-2zM129 121h2v1h-2zM134 121h1v1h-1zM136 121h2v1h-2zM141 121h3v1h-3zM147 121h1v1h-1zM149 121h3v1h-3zM157 121h3v1h-3zM169 121h2v1h-2zM34 122h15v1h-15zM50 122h3v1h-3zM54 122h13v1h-13zM68 122h1v1h-1zM70 122h1v1h-1zM73 122h2v1h-2zM76 122h1v1h-1zM78 122h2v1h-2zM82 122h2v1h-2zM85 122h4v1h-4zM92 122h1v1h-1zM94 122h6v1h-6zM101 122h1v1h-1zM103 122h1v1h-1zM105 122h1v1h-1zM107 122h4v1h-4zM112 122h6v1h-6zM119 122h1v1h-1zM121 122h8v1h-8zM136 122h1v1h-1zM140 122h1v1h-1zM142 122h2v1h-2zM145 122h1v1h-1zM147 122h1v1h-1zM149 122h1v1h-1zM151 122h2v1h-2zM154 122h2v1h-2zM157 122h2v1h-2zM34 123h1v1h-1zM36 123h1v1h-1zM38 123h1v1h-1zM40 123h5v1h-5zM46 123h4v1h-4zM51 123h8v1h-8zM60 123h2v1h-2zM63 123h2v1h-2zM66 123h3v1h-3zM70 123h6v1h-6zM78 123h1v1h-1zM80 123h2v1h-2zM84 123h1v1h-1zM86 123h1v1h-1zM89 123h1v1h-1zM93 123h2v1h-2zM96 123h1v1h-1zM101 123h8v1h-8zM110 123h2v1h-2zM115 123h4v1h-4zM122 123h2v1h-2zM130 123h3v1h-3zM136 123h2v1h-2zM139 123h2v1h-2zM142 123h3v1h-3zM150 123h1v1h-1zM154 123h2v1h-2zM161 123h1v1h-1zM34 124h1v1h-1zM36 124h1v1h-1zM39 124h16v1h-16zM56 124h3v1h-3zM60 124h3v1h-3zM64 124h5v1h-5zM70 124h2v1h-2zM73 124h3v1h-3zM77 124h3v1h-3zM83 124h1v1h-1zM86 124h4v1h-4zM91 124h1v1h-1zM96 124h1v1h-1zM98 124h3v1h-3zM104 124h1v1h-1zM106 124h1v1h-1zM108 124h8v1h-8zM117 124h2v1h-2zM124 124h1v1h-1zM126 124h1v1h-1zM131 124h1v1h-1zM135 124h1v1h-1zM137 124h1v1h-1zM147 124h1v1h-1zM149 124h1v1h-1zM34 125h17v1h-17zM52 125h3v1h-3zM56 125h14v1h-14zM73 125h1v1h-1zM75 125h1v1h-1zM77 125h1v1h-1zM79 125h6v1h-6zM87 125h1v1h-1zM90 125h1v1h-1zM92 125h2v1h-2zM95 125h1v1h-1zM97 125h1v1h-1zM99 125h2v1h-2zM102 125h2v1h-2zM106 125h1v1h-1zM114 125h1v1h-1zM116 125h1v1h-1zM118 125h1v1h-1zM121 125h1v1h-1zM123 125h4v1h-4zM128 125h3v1h-3zM133 125h5v1h-5zM139 125h2v1h-2zM142 125h1v1h-1zM144 125h1v1h-1zM146 125h2v1h-2zM152 125h1v1h-1zM155 125h1v1h-1zM35 126h1v1h-1zM37 126h1v1h-1zM41 126h17v1h-17zM59 126h2v1h-2zM62 126h2v1h-2zM66 126h1v1h-1zM68 126h1v1h-1zM72 126h1v1h-1zM74 126h1v1h-1zM76 126h5v1h-5zM84 126h1v1h-1zM86 126h4v1h-4zM91 126h2v1h-2zM94 126h1v1h-1zM97 126h1v1h-1zM100 126h2v1h-2zM105 126h3v1h-3zM111 126h2v1h-2zM115 126h3v1h-3zM125 126h1v1h-1zM127 126h2v1h-2zM131 126h3v1h-3zM138 126h2v1h-2zM141 126h1v1h-1zM146 126h1v1h-1zM148 126h1v1h-1zM155 126h2v1h-2zM34 127h4v1h-4zM43 127h2v1h-2zM46 127h1v1h-1zM48 127h8v1h-8zM57 127h1v1h-1zM60 127h6v1h-6zM67 127h3v1h-3zM72 127h2v1h-2zM75 127h3v1h-3zM79 127h2v1h-2zM85 127h2v1h-2zM92 127h1v1h-1zM95 127h3v1h-3zM99 127h1v1h-1zM103 127h2v1h-2zM108 127h1v1h-1zM111 127h1v1h-1zM115 127h1v1h-1zM118 127h1v1h-1zM120 127h2v1h-2zM125 127h1v1h-1zM129 127h1v1h-1zM131 127h2v1h-2zM135 127h3v1h-3zM139 127h1v1h-1zM141 127h1v1h-1zM143 127h1v1h-1zM146 127h1v1h-1zM154 127h1v1h-1zM34 128h2v1h-2zM37 128h1v1h-1zM39 128h2v1h-2zM42 128h5v1h-5zM49 128h1v1h-1zM52 128h7v1h-7zM60 128h11v1h-11zM72 128h1v1h-1zM76 128h1v1h-1zM79 128h1v1h-1zM82 128h5v1h-5zM88 128h1v1h-1zM93 128h1v1h-1zM99 128h2v1h-2zM102 128h1v1h-1zM104 128h2v1h-2zM108 128h1v1h-1zM112 128h1v1h-1zM114 128h2v1h-2zM120 128h1v1h-1zM126 128h1v1h-1zM129 128h2v1h-2zM132 128h1v1h-1zM135 128h4v1h-4zM140 128h1v1h-1zM142 128h1v1h-1zM144 128h1v1h-1zM146 128h1v1h-1zM154 128h1v1h-1zM156 128h1v1h-1zM160 128h1v1h-1zM34 129h5v1h-5zM40 129h1v1h-1zM42 129h3v1h-3zM46 129h4v1h-4zM51 129h1v1h-1zM53 129h6v1h-6zM60 129h2v1h-2zM63 129h1v1h-1zM66 129h2v1h-2zM72 129h5v1h-5zM78 129h7v1h-7zM87 129h1v1h-1zM89 129h1v1h-1zM91 129h1v1h-1zM94 129h1v1h-1zM96 129h1v1h-1zM103 129h1v1h-1zM106 129h2v1h-2zM110 129h2v1h-2zM113 129h1v1h-1zM116 129h1v1h-1zM118 129h1v1h-1zM120 129h2v1h-2zM123 129h2v1h-2zM130 129h1v1h-1zM134 129h1v1h-1zM137 129h2v1h-2zM143 129h1v1h-1zM148 129h2v1h-2zM152 129h1v1h-1zM157 129h1v1h-1zM160 129h1v1h-1zM35 130h2v1h-2zM38 130h1v1h-1zM42 130h3v1h-3zM46 130h4v1h-4zM51 130h10v1h-10zM63 130h2v1h-2zM70 130h4v1h-4zM78 130h2v1h-2zM82 130h2v1h-2zM95 130h2v1h-2zM98 130h4v1h-4zM104 130h1v1h-1zM107 130h3v1h-3zM113 130h1v1h-1zM116 130h1v1h-1zM122 130h2v1h-2zM127 130h1v1h-1zM129 130h1v1h-1zM135 130h3v1h-3zM139 130h1v1h-1zM141 130h1v1h-1zM157 130h1v1h-1zM34 131h4v1h-4zM43 131h4v1h-4zM48 131h1v1h-1zM50 131h2v1h-2zM54 131h6v1h-6zM64 131h1v1h-1zM66 131h1v1h-1zM71 131h2v1h-2zM74 131h2v1h-2zM77 131h1v1h-1zM80 131h4v1h-4zM87 131h1v1h-1zM90 131h2v1h-2zM102 131h2v1h-2zM105 131h1v1h-1zM109 131h1v1h-1zM112 131h1v1h-1zM118 131h1v1h-1zM124 131h3v1h-3zM128 131h1v1h-1zM130 131h4v1h-4zM138 131h1v1h-1zM36 132h1v1h-1zM38 132h3v1h-3zM43 132h1v1h-1zM45 132h5v1h-5zM51 132h1v1h-1zM53 132h2v1h-2zM56 132h1v1h-1zM59 132h3v1h-3zM63 132h4v1h-4zM69 132h1v1h-1zM71 132h2v1h-2zM74 132h1v1h-1zM77 132h1v1h-1zM79 132h4v1h-4zM84 132h3v1h-3zM94 132h1v1h-1zM96 132h2v1h-2zM109 132h1v1h-1zM111 132h2v1h-2zM119 132h2v1h-2zM125 132h1v1h-1zM129 132h1v1h-1zM135 132h1v1h-1zM139 132h1v1h-1zM141 132h1v1h-1zM155 132h1v1h-1zM164 132h1v1h-1zM34 133h1v1h-1zM36 133h1v1h-1zM38 133h1v1h-1zM40 133h1v1h-1zM43 133h2v1h-2zM47 133h2v1h-2zM50 133h1v1h-1zM54 133h1v1h-1zM56 133h2v1h-2zM59 133h2v1h-2zM62 133h3v1h-3zM68 133h1v1h-1zM70 133h1v1h-1zM73 133h2v1h-2zM76 133h1v1h-1zM81 133h1v1h-1zM84 133h4v1h-4zM89 133h1v1h-1zM91 133h2v1h-2zM98 133h1v1h-1zM102 133h1v1h-1zM107 133h1v1h-1zM109 133h2v1h-2zM112 133h1v1h-1zM117 133h1v1h-1zM122 133h2v1h-2zM130 133h1v1h-1zM134 133h1v1h-1zM136 133h3v1h-3zM140 133h1v1h-1zM151 133h2v1h-2zM160 133h1v1h-1zM169 133h1v1h-1zM34 134h4v1h-4zM40 134h1v1h-1zM43 134h3v1h-3zM47 134h1v1h-1zM49 134h1v1h-1zM52 134h1v1h-1zM54 134h2v1h-2zM58 134h1v1h-1zM61 134h1v1h-1zM65 134h8v1h-8zM74 134h2v1h-2zM78 134h2v1h-2zM86 134h1v1h-1zM89 134h1v1h-1zM95 134h1v1h-1zM105 134h1v1h-1zM111 134h1v1h-1zM120 134h1v1h-1zM123 134h1v1h-1zM125 134h1v1h-1zM128 134h1v1h-1zM131 134h1v1h-1zM134 134h1v1h-1zM137 134h3v1h-3zM142 134h2v1h-2zM145 134h1v1h-1zM151 134h1v1h-1zM154 134h1v1h-1zM34 135h5v1h-5zM43 135h1v1h-1zM45 135h2v1h-2zM48 135h2v1h-2zM51 135h2v1h-2zM54 135h1v1h-1zM57 135h1v1h-1zM59 135h3v1h-3zM64 135h2v1h-2zM67 135h1v1h-1zM70 135h1v1h-1zM72 135h1v1h-1zM74 135h3v1h-3zM81 135h2v1h-2zM86 135h1v1h-1zM90 135h1v1h-1zM92 135h2v1h-2zM96 135h1v1h-1zM100 135h3v1h-3zM104 135h1v1h-1zM107 135h3v1h-3zM112 135h2v1h-2zM125 135h2v1h-2zM133 135h1v1h-1zM137 135h1v1h-1zM142 135h1v1h-1zM150 135h1v1h-1zM160 135h1v1h-1zM34 136h1v1h-1zM37 136h4v1h-4zM45 136h1v1h-1zM47 136h3v1h-3zM57 136h3v1h-3zM64 136h3v1h-3zM68 136h2v1h-2zM74 136h1v1h-1zM77 136h1v1h-1zM79 136h3v1h-3zM84 136h2v1h-2zM88 136h1v1h-1zM91 136h1v1h-1zM93 136h2v1h-2zM98 136h1v1h-1zM101 136h1v1h-1zM103 136h1v1h-1zM106 136h1v1h-1zM108 136h5v1h-5zM114 136h1v1h-1zM116 136h1v1h-1zM122 136h2v1h-2zM127 136h1v1h-1zM130 136h1v1h-1zM136 136h2v1h-2zM141 136h1v1h-1zM143 136h2v1h-2zM146 136h2v1h-2zM35 137h2v1h-2zM41 137h2v1h-2zM44 137h4v1h-4zM49 137h1v1h-1zM51 137h1v1h-1zM54 137h1v1h-1zM59 137h2v1h-2zM65 137h3v1h-3zM70 137h2v1h-2zM85 137h1v1h-1zM87 137h2v1h-2zM90 137h2v1h-2zM94 137h1v1h-1zM99 137h2v1h-2zM103 137h1v1h-1zM107 137h1v1h-1zM110 137h1v1h-1zM116 137h1v1h-1zM119 137h1v1h-1zM126 137h1v1h-1zM133 137h1v1h-1zM135 137h1v1h-1zM143 137h1v1h-1zM152 137h1v1h-1zM35 138h3v1h-3zM39 138h1v1h-1zM51 138h1v1h-1zM53 138h1v1h-1zM56 138h1v1h-1zM59 138h1v1h-1zM64 138h2v1h-2zM67 138h4v1h-4zM72 138h2v1h-2zM75 138h1v1h-1zM78 138h1v1h-1zM83 138h1v1h-1zM91 138h1v1h-1zM102 138h1v1h-1zM110 138h1v1h-1zM114 138h1v1h-1zM119 138h1v1h-1zM135 138h1v1h-1zM145 138h2v1h-2zM150 138h1v1h-1zM37 139h1v1h-1zM41 139h1v1h-1zM44 139h1v1h-1zM47 139h2v1h-2zM52 139h1v1h-1zM54 139h2v1h-2zM59 139h2v1h-2zM64 139h2v1h-2zM68 139h3v1h-3zM73 139h2v1h-2zM78 139h1v1h-1zM85 139h1v1h-1zM87 139h4v1h-4zM92 139h2v1h-2zM99 139h4v1h-4zM105 139h1v1h-1zM128 139h1v1h-1zM134 139h1v1h-1zM137 139h2v1h-2zM142 139h1v1h-1zM145 139h1v1h-1zM148 139h2v1h-2zM35 140h4v1h-4zM41 140h1v1h-1zM43 140h1v1h-1zM45 140h1v1h-1zM48 140h2v1h-2zM56 140h2v1h-2zM59 140h2v1h-2zM65 140h3v1h-3zM72 140h1v1h-1zM77 140h1v1h-1zM92 140h1v1h-1zM94 140h1v1h-1zM97 140h1v1h-1zM100 140h1v1h-1zM102 140h1v1h-1zM106 140h2v1h-2zM110 140h2v1h-2zM116 140h2v1h-2zM128 140h1v1h-1zM131 140h2v1h-2zM134 140h1v1h-1zM138 140h1v1h-1zM141 140h1v1h-1zM143 140h1v1h-1zM145 140h1v1h-1zM152 140h1v1h-1zM34 141h3v1h-3zM40 141h1v1h-1zM42 141h2v1h-2zM46 141h1v1h-1zM48 141h1v1h-1zM52 141h2v1h-2zM55 141h1v1h-1zM58 141h1v1h-1zM60 141h2v1h-2zM64 141h2v1h-2zM70 141h1v1h-1zM74 141h1v1h-1zM79 141h1v1h-1zM82 141h1v1h-1zM86 141h1v1h-1zM92 141h1v1h-1zM104 141h1v1h-1zM106 141h2v1h-2zM115 141h1v1h-1zM124 141h1v1h-1zM126 141h1v1h-1zM131 141h1v1h-1zM147 141h1v1h-1zM35 142h1v1h-1zM37 142h1v1h-1zM39 142h1v1h-1zM44 142h1v1h-1zM46 142h1v1h-1zM52 142h1v1h-1zM56 142h1v1h-1zM58 142h4v1h-4zM71 142h1v1h-1zM75 142h1v1h-1zM77 142h1v1h-1zM84 142h2v1h-2zM90 142h1v1h-1zM94 142h2v1h-2zM98 142h1v1h-1zM104 142h2v1h-2zM114 142h1v1h-1zM120 142h1v1h-1zM126 142h1v1h-1zM129 142h1v1h-1zM136 142h1v1h-1zM138 142h2v1h-2zM146 142h1v1h-1zM153 142h1v1h-1zM34 143h3v1h-3zM45 143h2v1h-2zM49 143h4v1h-4zM57 143h1v1h-1zM61 143h1v1h-1zM67 143h1v1h-1zM71 143h1v1h-1zM73 143h1v1h-1zM77 143h1v1h-1zM79 143h1v1h-1zM85 143h1v1h-1zM89 143h2v1h-2zM94 143h1v1h-1zM101 143h1v1h-1zM104 143h1v1h-1zM113 143h1v1h-1zM120 143h1v1h-1zM133 143h4v1h-4zM138 143h1v1h-1zM152 143h2v1h-2zM34 144h3v1h-3zM38 144h1v1h-1zM40 144h1v1h-1zM43 144h2v1h-2zM56 144h1v1h-1zM59 144h2v1h-2zM62 144h1v1h-1zM69 144h1v1h-1zM72 144h1v1h-1zM79 144h1v1h-1zM86 144h1v1h-1zM89 144h1v1h-1zM94 144h1v1h-1zM100 144h1v1h-1zM102 144h1v1h-1zM110 144h1v1h-1zM131 144h1v1h-1zM133 144h1v1h-1zM137 144h1v1h-1zM143 144h1v1h-1zM146 144h1v1h-1zM150 144h1v1h-1zM34 145h1v1h-1zM37 145h1v1h-1zM44 145h1v1h-1zM47 145h1v1h-1zM51 145h2v1h-2zM54 145h2v1h-2zM57 145h1v1h-1zM60 145h2v1h-2zM68 145h3v1h-3zM73 145h1v1h-1zM77 145h1v1h-1zM79 145h1v1h-1zM81 145h1v1h-1zM86 145h1v1h-1zM94 145h1v1h-1zM101 145h1v1h-1zM110 145h3v1h-3zM119 145h2v1h-2zM126 145h1v1h-1zM129 145h1v1h-1zM138 145h1v1h-1zM142 145h1v1h-1zM145 145h1v1h-1zM153 145h1v1h-1zM159 145h1v1h-1zM36 146h1v1h-1zM40 146h1v1h-1zM42 146h1v1h-1zM48 146h1v1h-1zM51 146h1v1h-1zM53 146h2v1h-2zM56 146h2v1h-2zM62 146h2v1h-2zM65 146h1v1h-1zM67 146h1v1h-1zM69 146h1v1h-1zM80 146h1v1h-1zM84 146h1v1h-1zM95 146h1v1h-1zM99 146h2v1h-2zM105 146h3v1h-3zM112 146h1v1h-1zM114 146h1v1h-1zM120 146h1v1h-1zM124 146h3v1h-3zM128 146h1v1h-1zM142 146h1v1h-1zM150 146h1v1h-1zM34 147h1v1h-1zM36 147h2v1h-2zM39 147h2v1h-2zM42 147h1v1h-1zM47 147h1v1h-1zM51 147h1v1h-1zM57 147h1v1h-1zM61 147h1v1h-1zM64 147h1v1h-1zM73 147h1v1h-1zM81 147h1v1h-1zM105 147h1v1h-1zM111 147h1v1h-1zM114 147h1v1h-1zM131 147h1v1h-1zM136 147h1v1h-1zM138 147h1v1h-1zM142 147h1v1h-1zM147 147h1v1h-1zM151 147h1v1h-1zM37 148h1v1h-1zM39 148h2v1h-2zM44 148h8v1h-8zM54 148h1v1h-1zM57 148h1v1h-1zM61 148h3v1h-3zM65 148h1v1h-1zM67 148h1v1h-1zM71 148h2v1h-2zM75 148h1v1h-1zM78 148h1v1h-1zM104 148h1v1h-1zM107 148h1v1h-1zM111 148h1v1h-1zM126 148h2v1h-2zM136 148h1v1h-1zM139 148h1v1h-1zM155 148h1v1h-1zM158 148h1v1h-1zM34 149h3v1h-3zM38 149h2v1h-2zM50 149h2v1h-2zM53 149h6v1h-6zM61 149h3v1h-3zM68 149h1v1h-1zM70 149h1v1h-1zM76 149h1v1h-1zM81 149h1v1h-1zM83 149h1v1h-1zM86 149h1v1h-1zM93 149h1v1h-1zM95 149h1v1h-1zM106 149h2v1h-2zM112 149h2v1h-2zM122 149h2v1h-2zM126 149h2v1h-2zM145 149h2v1h-2zM34 150h1v1h-1zM36 150h2v1h-2zM52 150h1v1h-1zM54 150h1v1h-1zM58 150h1v1h-1zM60 150h2v1h-2zM67 150h1v1h-1zM69 150h1v1h-1zM73 150h1v1h-1zM96 150h1v1h-1zM101 150h1v1h-1zM121 150h1v1h-1zM134 150h1v1h-1zM145 150h1v1h-1zM39 151h3v1h-3zM43 151h1v1h-1zM47 151h1v1h-1zM65 151h1v1h-1zM68 151h1v1h-1zM72 151h6v1h-6zM82 151h1v1h-1zM84 151h2v1h-2zM91 151h1v1h-1zM98 151h1v1h-1zM101 151h2v1h-2zM105 151h1v1h-1zM110 151h1v1h-1zM113 151h1v1h-1zM119 151h1v1h-1zM123 151h1v1h-1zM127 151h1v1h-1zM133 151h1v1h-1zM141 151h2v1h-2zM145 151h1v1h-1zM150 151h1v1h-1zM34 152h1v1h-1zM37 152h1v1h-1zM42 152h1v1h-1zM45 152h1v1h-1zM47 152h2v1h-2zM50 152h1v1h-1zM54 152h2v1h-2zM63 152h1v1h-1zM74 152h1v1h-1zM87 152h1v1h-1zM89 152h1v1h-1zM94 152h2v1h-2zM105 152h1v1h-1zM110 152h2v1h-2zM122 152h1v1h-1zM128 152h1v1h-1zM131 152h1v1h-1zM147 152h1v1h-1zM150 152h1v1h-1zM34 153h1v1h-1zM36 153h1v1h-1zM44 153h1v1h-1zM50 153h2v1h-2zM55 153h1v1h-1zM58 153h1v1h-1zM75 153h3v1h-3zM79 153h3v1h-3zM84 153h1v1h-1zM89 153h1v1h-1zM94 153h1v1h-1zM101 153h1v1h-1zM111 153h1v1h-1zM114 153h2v1h-2zM121 153h1v1h-1zM132 153h2v1h-2zM147 153h1v1h-1zM153 153h1v1h-1zM35 154h1v1h-1zM38 154h1v1h-1zM44 154h1v1h-1zM47 154h1v1h-1zM51 154h1v1h-1zM54 154h1v1h-1zM59 154h1v1h-1zM70 154h2v1h-2zM79 154h1v1h-1zM81 154h2v1h-2zM90 154h1v1h-1zM94 154h2v1h-2zM98 154h1v1h-1zM112 154h1v1h-1zM118 154h2v1h-2zM128 154h1v1h-1zM140 154h1v1h-1zM155 154h1v1h-1zM34 155h1v1h-1zM39 155h2v1h-2zM45 155h3v1h-3zM51 155h3v1h-3zM55 155h1v1h-1zM64 155h1v1h-1zM66 155h1v1h-1zM80 155h1v1h-1zM83 155h1v1h-1zM85 155h1v1h-1zM88 155h1v1h-1zM93 155h2v1h-2zM119 155h1v1h-1zM121 155h1v1h-1zM136 155h1v1h-1zM138 155h1v1h-1zM37 156h1v1h-1zM43 156h1v1h-1zM48 156h1v1h-1zM51 156h1v1h-1zM53 156h1v1h-1zM55 156h1v1h-1zM61 156h1v1h-1zM71 156h2v1h-2zM75 156h1v1h-1zM77 156h3v1h-3zM85 156h1v1h-1zM93 156h1v1h-1zM95 156h1v1h-1zM97 156h1v1h-1zM103 156h1v1h-1zM115 156h1v1h-1zM117 156h1v1h-1zM135 156h2v1h-2zM138 156h1v1h-1zM143 156h1v1h-1zM145 156h1v1h-1zM34 157h2v1h-2zM40 157h1v1h-1zM42 157h1v1h-1zM49 157h2v1h-2zM57 157h1v1h-1zM61 157h1v1h-1zM66 157h1v1h-1zM71 157h1v1h-1zM78 157h1v1h-1zM81 157h1v1h-1zM83 157h1v1h-1zM96 157h1v1h-1zM108 157h1v1h-1zM112 157h1v1h-1zM121 157h2v1h-2zM124 157h1v1h-1zM126 157h1v1h-1zM131 157h1v1h-1zM142 157h2v1h-2zM154 157h1v1h-1zM160 157h1v1h-1zM34 158h1v1h-1zM41 158h5v1h-5zM47 158h3v1h-3zM51 158h1v1h-1zM65 158h1v1h-1zM70 158h1v1h-1zM84 158h1v1h-1zM87 158h1v1h-1zM118 158h1v1h-1zM120 158h1v1h-1zM123 158h1v1h-1zM126 158h1v1h-1zM128 158h1v1h-1zM132 158h1v1h-1zM139 158h1v1h-1zM144 158h1v1h-1zM149 158h1v1h-1zM151 158h1v1h-1zM35 159h1v1h-1zM39 159h1v1h-1zM52 159h1v1h-1zM55 159h2v1h-2zM59 159h1v1h-1zM61 159h1v1h-1zM80 159h1v1h-1zM92 159h1v1h-1zM101 159h1v1h-1zM111 159h1v1h-1zM113 159h1v1h-1zM120 159h1v1h-1zM125 159h1v1h-1zM127 159h1v1h-1zM131 159h1v1h-1zM133 159h1v1h-1zM34 160h1v1h-1zM40 160h1v1h-1zM43 160h1v1h-1zM45 160h1v1h-1zM47 160h1v1h-1zM52 160h1v1h-1zM59 160h1v1h-1zM73 160h1v1h-1zM75 160h1v1h-1zM85 160h1v1h-1zM90 160h1v1h-1zM92 160h1v1h-1zM102 160h1v1h-1zM104 160h1v1h-1zM113 160h2v1h-2zM126 160h1v1h-1zM131 160h1v1h-1zM137 160h1v1h-1zM142 160h1v1h-1zM34 161h1v1h-1zM36 161h1v1h-1zM39 161h2v1h-2zM43 161h1v1h-1zM47 161h1v1h-1zM52 161h1v1h-1zM56 161h2v1h-2zM60 161h1v1h-1zM72 161h1v1h-1zM74 161h1v1h-1zM82 161h1v1h-1zM85 161h1v1h-1zM87 161h1v1h-1zM114 161h1v1h-1zM117 161h1v1h-1zM139 161h1v1h-1zM142 161h2v1h-2zM145 161h1v1h-1zM151 161h1v1h-1zM154 161h1v1h-1zM34 162h2v1h-2zM43 162h1v1h-1zM57 162h1v1h-1zM61 162h1v1h-1zM63 162h1v1h-1zM75 162h1v1h-1zM84 162h1v1h-1zM86 162h1v1h-1zM101 162h2v1h-2zM107 162h1v1h-1zM118 162h3v1h-3zM124 162h1v1h-1zM132 162h1v1h-1zM147 162h1v1h-1zM34 163h2v1h-2zM40 163h1v1h-1zM43 163h2v1h-2zM50 163h1v1h-1zM53 163h1v1h-1zM60 163h1v1h-1zM68 163h1v1h-1zM70 163h1v1h-1zM75 163h2v1h-2zM79 163h1v1h-1zM82 163h1v1h-1zM88 163h1v1h-1zM93 163h1v1h-1zM102 163h1v1h-1zM109 163h1v1h-1zM116 163h1v1h-1zM123 163h1v1h-1zM144 163h1v1h-1zM153 163h1v1h-1zM160 163h1v1h-1zM34 164h1v1h-1zM36 164h1v1h-1zM40 164h2v1h-2zM43 164h1v1h-1zM51 164h2v1h-2zM60 164h1v1h-1zM62 164h3v1h-3zM66 164h1v1h-1zM69 164h1v1h-1zM74 164h1v1h-1zM83 164h3v1h-3zM90 164h1v1h-1zM92 164h1v1h-1zM101 164h1v1h-1zM105 164h1v1h-1zM107 164h1v1h-1zM109 164h1v1h-1zM120 164h1v1h-1zM137 164h1v1h-1zM146 164h1v1h-1zM149 164h1v1h-1zM35 165h1v1h-1zM37 165h1v1h-1zM40 165h1v1h-1zM46 165h2v1h-2zM57 165h1v1h-1zM61 165h2v1h-2zM67 165h2v1h-2zM73 165h2v1h-2zM76 165h1v1h-1zM82 165h1v1h-1zM91 165h1v1h-1zM99 165h1v1h-1zM104 165h1v1h-1zM108 165h1v1h-1zM110 165h1v1h-1zM115 165h1v1h-1zM119 165h1v1h-1zM122 165h1v1h-1zM124 165h1v1h-1zM129 165h1v1h-1z"/>
<path fill="#111" filter="url(#bl)" d="M211 22h1v1h-1zM280 30h1v1h-1zM288 34h1v1h-1zM325 36h1v1h-1zM279 37h1v1h-1zM294 37h1v1h-1zM319 37h1v1h-1zM341 38h1v1h-1zM212 39h1v1h-1zM301 40h1v1h-1zM317 41h1v1h-1zM319 41h1v1h-1zM272 42h1v1h-1zM329 43h1v1h-1zM301 44h1v1h-1zM321 44h1v1h-1zM326 45h1v1h-1zM338 45h1v1h-1zM267 46h1v1h-1zM289 47h1v1h-1zM312 48h1v1h-1zM327 48h1v1h-1zM306 49h1v1h-1zM312 49h1v1h-1zM317 49h1v1h-1zM320 49h1v1h-1zM341 49h1v1h-1zM264 50h1v1h-1zM272 50h1v1h-1zM290 50h1v1h-1zM294 50h1v1h-1zM305 50h1v1h-1zM319 50h1v1h-1zM321 50h1v1h-1zM323 50h1v1h-1zM326 50h1v1h-1zM329 50h1v1h-1zM267 51h1v1h-1zM279 51h1v1h-1zM282 51h1v1h-1zM303 51h1v1h-1zM317 51h2v1h-2zM323 51h2v1h-2zM330 51h1v1h-1zM336 51h1v1h-1zM207 52h1v1h-1zM273 52h1v1h-1zM288 52h1v1h-1zM314 52h1v1h-1zM316 52h2v1h-2zM319 52h2v1h-2zM322 52h1v1h-1zM331 52h1v1h-1zM337 52h1v1h-1zM213 53h1v1h-1zM219 53h1v1h-1zM227 53h1v1h-1zM264 53h1v1h-1zM270 53h1v1h-1zM292 53h1v1h-1zM295 53h2v1h-2zM304 53h1v1h-1zM307 53h1v1h-1zM313 53h1v1h-1zM317 53h1v1h-1zM320 53h2v1h-2zM324 53h1v1h-1zM326 53h2v1h-2zM330 53h3v1h-3zM335 53h1v1h-1zM338 53h1v1h-1zM247 54h1v1h-1zM257 54h1v1h-1zM271 54h1v1h-1zM274 54h1v1h-1zM279 54h1v1h-1zM281 54h2v1h-2zM284 54h1v1h-1zM290 54h1v1h-1zM294 54h1v1h-1zM300 54h1v1h-1zM302 54h1v1h-1zM308 54h1v1h-1zM314 54h3v1h-3zM319 54h1v1h-1zM321 54h1v1h-1zM324 54h1v1h-1zM326 54h1v1h-1zM328 54h1v1h-1zM333 54h2v1h-2zM336 54h1v1h-1zM341 54h1v1h-1zM230 55h1v1h-1zM261 55h1v1h-1zM263 55h1v1h-1zM274 55h1v1h-1zM277 55h1v1h-1zM279 55h2v1h-2zM298 55h1v1h-1zM307 55h2v1h-2zM310 55h9v1h-9zM320 55h1v1h-1zM322 55h4v1h-4zM328 55h3v1h-3zM333 55h1v1h-1zM335 55h2v1h-2zM339 55h2v1h-2zM235 56h1v1h-1zM243 56h1v1h-1zM252 56h1v1h-1zM274 56h1v1h-1zM276 56h1v1h-1zM281 56h1v1h-1zM283 56h1v1h-1zM285 56h1v1h-1zM289 56h1v1h-1zM291 56h1v1h-1zM293 56h1v1h-1zM298 56h1v1h-1zM303 56h1v1h-1zM309 56h4v1h-4zM314 56h9v1h-9zM324 56h1v1h-1zM327 56h1v1h-1zM332 56h1v1h-1zM334 56h1v1h-1zM343 56h1v1h-1zM202 57h1v1h-1zM212 57h1v1h-1zM215 57h1v1h-1zM261 57h1v1h-1zM267 57h3v1h-3zM274 57h1v1h-1zM277 57h1v1h-1zM281 57h1v1h-1zM286 57h1v1h-1zM297 57h1v1h-1zM306 57h16v1h-16zM324 57h2v1h-2zM327 57h3v1h-3zM331 57h1v1h-1zM334 57h1v1h-1zM336 57h1v1h-1zM338 57h2v1h-2zM244 58h1v1h-1zM264 58h1v1h-1zM266 58h1v1h-1zM270 58h2v1h-2zM273 58h1v1h-1zM278 58h1v1h-1zM280 58h2v1h-2zM283 58h1v1h-1zM289 58h1v1h-1zM292 58h1v1h-1zM298 58h1v1h-1zM305 58h1v1h-1zM308 58h18v1h-18zM328 58h1v1h-1zM334 58h1v1h-1zM336 58h1v1h-1zM339 58h1v1h-1zM342 58h1v1h-1zM213 59h1v1h-1zM217 59h1v1h-1zM220 59h1v1h-1zM232 59h1v1h-1zM235 59h1v1h-1zM243 59h1v1h-1zM264 59h2v1h-2zM267 59h1v1h-1zM272 59h1v1h-1zM275 59h3v1h-3zM281 59h1v1h-1zM284 59h3v1h-3zM288 59h1v1h-1zM290 59h1v1h-1zM292 59h3v1h-3zM296 59h1v1h-1zM299 59h1v1h-1zM303 59h1v1h-1zM306 59h18v1h-18zM325 59h4v1h-4zM331 59h4v1h-4zM336 59h1v1h-1zM340 59h1v1h-1zM220 60h1v1h-1zM244 60h1v1h-1zM255 60h1v1h-1zM264 60h1v1h-1zM266 60h1v1h-1zM269 60h1v1h-1zM274 60h2v1h-2zM279 60h2v1h-2zM282 60h1v1h-1zM284 60h3v1h-3zM293 60h1v1h-1zM301 60h1v1h-1zM306 60h3v1h-3zM310 60h22v1h-22zM333 60h4v1h-4zM338 60h1v1h-1zM203 61h1v1h-1zM217 61h1v1h-1zM219 61h1v1h-1zM223 61h1v1h-1zM225 61h1v1h-1zM243 61h1v1h-1zM258 61h1v1h-1zM261 61h1v1h-1zM271 61h1v1h-1zM276 61h1v1h-1zM278 61h1v1h-1zM280 61h1v1h-1zM282 61h1v1h-1zM285 61h2v1h-2zM290 61h1v1h-1zM292 61h1v1h-1zM294 61h1v1h-1zM298 61h1v1h-1zM302 61h1v1h-1zM305 61h20v1h-20zM326 61h1v1h-1zM328 61h4v1h-4zM333 61h2v1h-2zM336 61h3v1h-3zM340 61h1v1h-1zM343 61h1v1h-1zM211 62h1v1h-1zM217 62h1v1h-1zM222 62h1v1h-1zM225 62h1v1h-1zM231 62h1v1h-1zM234 62h1v1h-1zM238 62h1v1h-1zM257 62h1v1h-1zM261 62h2v1h-2zM267 62h1v1h-1zM270 62h1v1h-1zM273 62h2v1h-2zM278 62h3v1h-3zM285 62h1v1h-1zM287 62h2v1h-2zM292 62h1v1h-1zM295 62h2v1h-2zM298 62h2v1h-2zM304 62h1v1h-1zM307 62h17v1h-17zM325 62h1v1h-1zM327 62h5v1h-5zM333 62h7v1h-7zM200 63h2v1h-2zM207 63h1v1h-1zM212 63h2v1h-2zM254 63h1v1h-1zM260 63h1v1h-1zM265 63h2v1h-2zM270 63h1v1h-1zM272 63h1v1h-1zM274 63h1v1h-1zM276 63h5v1h-5zM282 63h1v1h-1zM287 63h2v1h-2zM290 63h1v1h-1zM292 63h1v1h-1zM294 63h1v1h-1zM297 63h2v1h-2zM300 63h2v1h-2zM304 63h27v1h-27zM333 63h6v1h-6zM341 63h1v1h-1zM207 64h1v1h-1zM220 64h1v1h-1zM223 64h1v1h-1zM235 64h1v1h-1zM245 64h1v1h-1zM250 64h1v1h-1zM256 64h1v1h-1zM265 64h1v1h-1zM267 64h2v1h-2zM270 64h1v1h-1zM272 64h1v1h-1zM274 64h2v1h-2zM277 64h3v1h-3zM281 64h3v1h-3zM285 64h1v1h-1zM288 64h1v1h-1zM291 64h2v1h-2zM299 64h1v1h-1zM304 64h19v1h-19zM324 64h2v1h-2zM327 64h1v1h-1zM329 64h5v1h-5zM335 64h1v1h-1zM339 64h1v1h-1zM341 64h1v1h-1zM200 65h2v1h-2zM206 65h2v1h-2zM209 65h2v1h-2zM216 65h3v1h-3zM224 65h1v1h-1zM229 65h1v1h-1zM232 65h1v1h-1zM237 65h1v1h-1zM239 65h1v1h-1zM245 65h1v1h-1zM251 65h1v1h-1zM259 65h2v1h-2zM262 65h1v1h-1zM268 65h1v1h-1zM273 65h1v1h-1zM275 65h1v1h-1zM277 65h2v1h-2zM281 65h1v1h-1zM283 65h2v1h-2zM287 65h3v1h-3zM291 65h4v1h-4zM299 65h3v1h-3zM303 65h30v1h-30zM334 65h3v1h-3zM338 65h1v1h-1zM340 65h1v1h-1zM200 66h1v1h-1zM202 66h2v1h-2zM205 66h4v1h-4zM213 66h1v1h-1zM215 66h1v1h-1zM217 66h1v1h-1zM222 66h1v1h-1zM226 66h1v1h-1zM228 66h1v1h-1zM231 66h1v1h-1zM235 66h1v1h-1zM238 66h1v1h-1zM241 66h2v1h-2zM251 66h1v1h-1zM256 66h1v1h-1zM262 66h2v1h-2zM268 66h5v1h-5zM274 66h4v1h-4zM280 66h1v1h-1zM283 66h2v1h-2zM286 66h3v1h-3zM292 66h1v1h-1zM294 66h1v1h-1zM296 66h1v1h-1zM299 66h1v1h-1zM301 66h2v1h-2zM304 66h22v1h-22zM327 66h3v1h-3zM331 66h2v1h-2zM334 66h1v1h-1zM336 66h6v1h-6zM343 66h1v1h-1zM200 67h2v1h-2zM204 67h3v1h-3zM208 67h1v1h-1zM210 67h2v1h-2zM215 67h1v1h-1zM217 67h1v1h-1zM219 67h1v1h-1zM222 67h3v1h-3zM229 67h1v1h-1zM231 67h1v1h-1zM235 67h1v1h-1zM237 67h1v1h-1zM239 67h1v1h-1zM241 67h2v1h-2zM244 67h1v1h-1zM251 67h2v1h-2zM254 67h1v1h-1zM259 67h4v1h-4zM272 67h2v1h-2zM275 67h1v1h-1zM280 67h2v1h-2zM283 67h1v1h-1zM285 67h1v1h-1zM289 67h2v1h-2zM293 67h2v1h-2zM296 67h1v1h-1zM298 67h1v1h-1zM300 67h2v1h-2zM303 67h29v1h-29zM333 67h2v1h-2zM336 67h1v1h-1zM339 67h1v1h-1zM341 67h1v1h-1zM200 68h5v1h-5zM206 68h10v1h-10zM217 68h1v1h-1zM219 68h1v1h-1zM226 68h4v1h-4zM232 68h1v1h-1zM234 68h1v1h-1zM236 68h2v1h-2zM241 68h1v1h-1zM244 68h2v1h-2zM252 68h1v1h-1zM256 68h2v1h-2zM259 68h1v1h-1zM263 68h2v1h-2zM266 68h4v1h-4zM273 68h2v1h-2zM277 68h2v1h-2zM280 68h4v1h-4zM285 68h3v1h-3zM289 68h5v1h-5zM295 68h1v1h-1zM297 68h1v1h-1zM299 68h1v1h-1zM302 68h27v1h-27zM331 68h3v1h-3zM335 68h5v1h-5zM200 69h5v1h-5zM206 69h7v1h-7zM214 69h11v1h-11zM226 69h4v1h-4zM231 69h2v1h-2zM234 69h2v1h-2zM237 69h3v1h-3zM241 69h2v1h-2zM247 69h6v1h-6zM254 69h2v1h-2zM257 69h2v1h-2zM260 69h1v1h-1zM263 69h3v1h-3zM272 69h1v1h-1zM275 69h2v1h-2zM279 69h7v1h-7zM287 69h3v1h-3zM293 69h6v1h-6zM300 69h1v1h-1zM302 69h23v1h-23zM326 69h12v1h-12zM339 69h2v1h-2zM200 70h24v1h-24zM225 70h1v1h-1zM227 70h1v1h-1zM229 70h1v1h-1zM231 70h1v1h-1zM234 70h7v1h-7zM242 70h5v1h-5zM250 70h1v1h-1zM254 70h3v1h-3zM258 70h1v1h-1zM262 70h1v1h-1zM265 70h2v1h-2zM269 70h5v1h-5zM275 70h1v1h-1zM277 70h2v1h-2zM280 70h4v1h-4zM285 70h3v1h-3zM290 70h1v1h-1zM292 70h2v1h-2zM296 70h4v1h-4zM301 70h10v1h-10zM312 70h16v1h-16zM329 70h5v1h-5zM335 70h3v1h-3zM342 70h1v1h-1zM200 71h3v1h-3zM204 71h9v1h-9zM214 71h4v1h-4zM219 71h14v1h-14zM234 71h1v1h-1zM236 71h8v1h-8zM245 71h1v1h-1zM247 71h5v1h-5zM254 71h1v1h-1zM256 71h2v1h-2zM260 71h1v1h-1zM264 71h3v1h-3zM268 71h1v1h-1zM270 71h8v1h-8zM279 71h1v1h-1zM282 71h1v1h-1zM284 71h4v1h-4zM289 71h2v1h-2zM292 71h1v1h-1zM294 71h5v1h-5zM300 71h16v1h-16zM317 71h16v1h-16zM336 71h6v1h-6zM200 72h33v1h-33zM234 72h11v1h-11zM246 72h11v1h-11zM258 72h2v1h-2zM261 72h6v1h-6zM268 72h8v1h-8zM277 72h2v1h-2zM281 72h3v1h-3zM285 72h8v1h-8zM294 72h2v1h-2zM298 72h1v1h-1zM300 72h34v1h-34zM335 72h1v1h-1zM341 72h1v1h-1zM200 73h25v1h-25zM226 73h15v1h-15zM242 73h8v1h-8zM251 73h5v1h-5zM258 73h10v1h-10zM269 73h2v1h-2zM274 73h1v1h-1zM276 73h2v1h-2zM279 73h2v1h-2zM282 73h5v1h-5zM289 73h39v1h-39zM329 73h4v1h-4zM334 73h1v1h-1zM336 73h2v1h-2zM340 73h1v1h-1zM200 74h52v1h-52zM253 74h3v1h-3zM257 74h2v1h-2zM260 74h1v1h-1zM262 74h1v1h-1zM265 74h2v1h-2zM268 74h1v1h-1zM270 74h4v1h-4zM275 74h1v1h-1zM277 74h1v1h-1zM279 74h6v1h-6zM286 74h9v1h-9zM296 74h1v1h-1zM299 74h34v1h-34zM334 74h1v1h-1zM337 74h3v1h-3zM342 74h1v1h-1zM200 75h53v1h-53zM254 75h4v1h-4zM259 75h4v1h-4zM264 75h7v1h-7zM272 75h2v1h-2zM275 75h4v1h-4zM280 75h1v1h-1zM282 75h7v1h-7zM291 75h3v1h-3zM295 75h3v1h-3zM299 75h28v1h-28zM328 75h1v1h-1zM331 75h1v1h-1zM334 75h3v1h-3zM339 75h1v1h-1zM343 75h1v1h-1zM200 76h65v1h-65zM266 76h3v1h-3zM271 76h1v1h-1zM273 76h1v1h-1zM276 76h2v1h-2zM279 76h1v1h-1zM282 76h1v1h-1zM284 76h4v1h-4zM290 76h1v1h-1zM294 76h38v1h-38zM333 76h8v1h-8zM342 76h1v1h-1zM200 77h56v1h-56zM257 77h5v1h-5zM263 77h4v1h-4zM268 77h1v1h-1zM270 77h8v1h-8zM279 77h5v1h-5zM286 77h1v1h-1zM288 77h1v1h-1zM290 77h48v1h-48zM339 77h1v1h-1zM343 77h1v1h-1zM200 78h32v1h-32zM233 78h36v1h-36zM270 78h23v1h-23zM294 78h39v1h-39zM334 78h2v1h-2zM337 78h3v1h-3zM343 78h1v1h-1zM200 79h57v1h-57zM258 79h3v1h-3zM262 79h12v1h-12zM275 79h7v1h-7zM283 79h1v1h-1zM285 79h1v1h-1zM288 79h3v1h-3zM292 79h1v1h-1zM294 79h2v1h-2zM297 79h29v1h-29zM328 79h4v1h-4zM333 79h1v1h-1zM335 79h7v1h-7zM200 80h63v1h-63zM264 80h8v1h-8zM273 80h10v1h-10zM284 80h1v1h-1zM286 80h5v1h-5zM292 80h2v1h-2zM295 80h32v1h-32zM328 80h1v1h-1zM330 80h5v1h-5zM336 80h5v1h-5zM343 80h1v1h-1zM200 81h63v1h-63zM264 81h2v1h-2zM267 81h3v1h-3zM272 81h3v1h-3zM277 81h2v1h-2zM281 81h4v1h-4zM287 81h7v1h-7zM297 81h35v1h-35zM333 81h1v1h-1zM335 81h6v1h-6zM342 81h2v1h-2zM200 82h61v1h-61zM262 82h3v1h-3zM266 82h5v1h-5zM272 82h12v1h-12zM285 82h1v1h-1zM289 82h3v1h-3zM294 82h2v1h-2zM297 82h5v1h-5zM303 82h25v1h-25zM329 82h1v1h-1zM333 82h1v1h-1zM336 82h2v1h-2zM339 82h1v1h-1zM341 82h2v1h-2zM200 83h59v1h-59zM260 83h4v1h-4zM266 83h4v1h-4zM271 83h1v1h-1zM274 83h3v1h-3zM278 83h1v1h-1zM281 83h2v1h-2zM284 83h2v1h-2zM287 83h2v1h-2zM291 83h5v1h-5zM297 83h27v1h-27zM325 83h7v1h-7zM334 83h2v1h-2zM337 83h2v1h-2zM200 84h56v1h-56zM257 84h10v1h-10zM269 84h1v1h-1zM272 84h3v1h-3zM276 84h3v1h-3zM280 84h3v1h-3zM284 84h1v1h-1zM286 84h2v1h-2zM289 84h7v1h-7zM297 84h28v1h-28zM327 84h2v1h-2zM331 84h7v1h-7zM342 84h1v1h-1zM200 85h69v1h-69zM270 85h3v1h-3zM274 85h1v1h-1zM276 85h1v1h-1zM278 85h1v1h-1zM280 85h5v1h-5zM286 85h1v1h-1zM288 85h4v1h-4zM294 85h19v1h-19zM314 85h18v1h-18zM333 85h1v1h-1zM335 85h4v1h-4zM340 85h2v1h-2zM343 85h1v1h-1zM200 86h72v1h-72zM273 86h1v1h-1zM275 86h4v1h-4zM281 86h1v1h-1zM283 86h3v1h-3zM287 86h2v1h-2zM290 86h3v1h-3zM294 86h41v1h-41zM336 86h2v1h-2zM200 87h60v1h-60zM261 87h10v1h-10zM272 87h6v1h-6zM279 87h11v1h-11zM292 87h2v1h-2zM295 87h40v1h-40zM338 87h1v1h-1zM341 87h1v1h-1zM200 88h32v1h-32zM233 88h36v1h-36zM270 88h7v1h-7zM278 88h2v1h-2zM281 88h3v1h-3zM287 88h8v1h-8zM296 88h29v1h-29zM326 88h2v1h-2zM329 88h3v1h-3zM333 88h2v1h-2zM336 88h3v1h-3zM343 88h1v1h-1zM200 89h71v1h-71zM272 89h7v1h-7zM282 89h4v1h-4zM287 89h3v1h-3zM291 89h42v1h-42zM338 89h5v1h-5zM200 90h65v1h-65zM266 90h9v1h-9zM276 90h3v1h-3zM281 90h2v1h-2zM284 90h5v1h-5zM290 90h34v1h-34zM325 90h3v1h-3zM330 90h5v1h-5zM336 90h2v1h-2zM341 90h1v1h-1zM200 91h65v1h-65zM267 91h3v1h-3zM273 91h1v1h-1zM275 91h1v1h-1zM277 91h5v1h-5zM283 91h8v1h-8zM292 91h4v1h-4zM297 91h25v1h-25zM323 91h9v1h-9zM336 91h4v1h-4zM200 92h72v1h-72zM273 92h3v1h-3zM277 92h3v1h-3zM282 92h4v1h-4zM287 92h11v1h-11zM299 92h29v1h-29zM329 92h6v1h-6zM336 92h4v1h-4zM341 92h1v1h-1zM200 93h58v1h-58zM259 93h31v1h-31zM291 93h2v1h-2zM295 93h30v1h-30zM326 93h1v1h-1zM328 93h5v1h-5zM334 93h6v1h-6zM200 94h68v1h-68zM270 94h9v1h-9zM280 94h1v1h-1zM284 94h2v1h-2zM287 94h3v1h-3zM291 94h35v1h-35zM327 94h9v1h-9zM337 94h5v1h-5zM200 95h67v1h-67zM268 95h14v1h-14zM283 95h2v1h-2zM286 95h1v1h-1zM289 95h37v1h-37zM327 95h4v1h-4zM332 95h2v1h-2zM335 95h3v1h-3zM339 95h1v1h-1zM341 95h1v1h-1zM200 96h73v1h-73zM274 96h5v1h-5zM281 96h3v1h-3zM285 96h4v1h-4zM291 96h44v1h-44zM336 96h1v1h-1zM339 96h1v1h-1zM341 96h2v1h-2zM200 97h58v1h-58zM259 97h3v1h-3zM263 97h7v1h-7zM272 97h9v1h-9zM282 97h40v1h-40zM323 97h7v1h-7zM331 97h5v1h-5zM337 97h1v1h-1zM339 97h1v1h-1zM341 97h1v1h-1zM200 98h72v1h-72zM273 98h4v1h-4zM278 98h5v1h-5zM284 98h1v1h-1zM286 98h1v1h-1zM289 98h29v1h-29zM319 98h12v1h-12zM332 98h5v1h-5zM338 98h2v1h-2zM342 98h2v1h-2zM200 99h57v1h-57zM258 99h27v1h-27zM286 99h3v1h-3zM290 99h14v1h-14zM305 99h10v1h-10zM316 99h1v1h-1zM318 99h6v1h-6zM325 99h12v1h-12zM338 99h3v1h-3zM200 100h62v1h-62zM263 100h6v1h-6zM270 100h3v1h-3zM274 100h23v1h-23zM298 100h22v1h-22zM321 100h8v1h-8zM330 100h3v1h-3zM334 100h1v1h-1zM337 100h1v1h-1zM200 101h46v1h-46zM247 101h9v1h-9zM257 101h11v1h-11zM269 101h1v1h-1zM271 101h1v1h-1zM273 101h9v1h-9zM283 101h11v1h-11zM295 101h24v1h-24zM320 101h3v1h-3zM325 101h3v1h-3zM329 101h3v1h-3zM333 101h7v1h-7zM341 101h1v1h-1zM343 101h1v1h-1zM200 102h52v1h-52zM253 102h8v1h-8zM262 102h6v1h-6zM269 102h4v1h-4zM274 102h2v1h-2zM277 102h1v1h-1zM279 102h6v1h-6zM286 102h6v1h-6zM293 102h5v1h-5zM299 102h18v1h-18zM318 102h6v1h-6zM325 102h5v1h-5zM331 102h3v1h-3zM336 102h1v1h-1zM338 102h1v1h-1zM200 103h21v1h-21zM222 103h39v1h-39zM262 103h6v1h-6zM269 103h8v1h-8zM279 103h6v1h-6zM286 103h2v1h-2zM289 103h8v1h-8zM298 103h18v1h-18zM318 103h1v1h-1zM320 103h3v1h-3zM324 103h3v1h-3zM328 103h5v1h-5zM336 103h3v1h-3zM341 103h1v1h-1zM200 104h16v1h-16zM217 104h7v1h-7zM225 104h12v1h-12zM238 104h28v1h-28zM267 104h8v1h-8zM277 104h15v1h-15zM293 104h16v1h-16zM310 104h12v1h-12zM323 104h3v1h-3zM327 104h6v1h-6zM334 104h4v1h-4zM340 104h2v1h-2zM343 104h1v1h-1zM200 105h16v1h-16zM217 105h1v1h-1zM219 105h1v1h-1zM221 105h9v1h-9zM231 105h24v1h-24zM257 105h11v1h-11zM270 105h3v1h-3zM274 105h13v1h-13zM288 105h1v1h-1zM290 105h24v1h-24zM317 105h2v1h-2zM320 105h5v1h-5zM326 105h3v1h-3zM332 105h1v1h-1zM337 105h2v1h-2zM343 105h1v1h-1zM200 106h3v1h-3zM204 106h20v1h-20zM225 106h2v1h-2zM229 106h1v1h-1zM231 106h2v1h-2zM235 106h1v1h-1zM240 106h3v1h-3zM244 106h2v1h-2zM247 106h20v1h-20zM269 106h1v1h-1zM271 106h6v1h-6zM278 106h4v1h-4zM283 106h5v1h-5zM289 106h2v1h-2zM292 106h6v1h-6zM299 106h19v1h-19zM320 106h5v1h-5zM327 106h2v1h-2zM331 106h1v1h-1zM333 106h2v1h-2zM337 106h1v1h-1zM200 107h12v1h-12zM213 107h1v1h-1zM215 107h3v1h-3zM219 107h1v1h-1zM221 107h5v1h-5zM227 107h3v1h-3zM233 107h2v1h-2zM237 107h1v1h-1zM239 107h4v1h-4zM244 107h2v1h-2zM247 107h3v1h-3zM251 107h1v1h-1zM253 107h1v1h-1zM255 107h1v1h-1zM257 107h6v1h-6zM264 107h15v1h-15zM281 107h2v1h-2zM284 107h4v1h-4zM290 107h3v1h-3zM294 107h19v1h-19zM315 107h1v1h-1zM318 107h1v1h-1zM320 107h3v1h-3zM325 107h3v1h-3zM329 107h5v1h-5zM340 107h1v1h-1zM342 107h1v1h-1zM200 108h14v1h-14zM215 108h1v1h-1zM218 108h4v1h-4zM223 108h2v1h-2zM227 108h3v1h-3zM231 108h1v1h-1zM233 108h4v1h-4zM239 108h2v1h-2zM243 108h2v1h-2zM246 108h9v1h-9zM256 108h10v1h-10zM267 108h1v1h-1zM269 108h3v1h-3zM275 108h3v1h-3zM279 108h1v1h-1zM281 108h6v1h-6zM288 108h7v1h-7zM298 108h8v1h-8zM307 108h5v1h-5zM313 108h1v1h-1zM315 108h2v1h-2zM322 108h1v1h-1zM326 108h11v1h-11zM338 108h1v1h-1zM200 109h16v1h-16zM217 109h6v1h-6zM224 109h3v1h-3zM228 109h4v1h-4zM234 109h2v1h-2zM237 109h11v1h-11zM249 109h1v1h-1zM251 109h1v1h-1zM254 109h2v1h-2zM257 109h2v1h-2zM261 109h8v1h-8zM272 109h1v1h-1zM274 109h3v1h-3zM278 109h3v1h-3zM285 109h2v1h-2zM289 109h2v1h-2zM293 109h2v1h-2zM296 109h4v1h-4zM301 109h11v1h-11zM314 109h2v1h-2zM317 109h1v1h-1zM320 109h1v1h-1zM322 109h1v1h-1zM324 109h3v1h-3zM328 109h1v1h-1zM330 109h1v1h-1zM334 109h1v1h-1zM336 109h1v1h-1zM200 110h7v1h-7zM208 110h5v1h-5zM217 110h1v1h-1zM219 110h1v1h-1zM221 110h4v1h-4zM227 110h5v1h-5zM234 110h8v1h-8zM243 110h1v1h-1zM245 110h1v1h-1zM247 110h2v1h-2zM251 110h1v1h-1zM253 110h8v1h-8zM262 110h5v1h-5zM268 110h3v1h-3zM273 110h1v1h-1zM276 110h2v1h-2zM281 110h1v1h-1zM283 110h2v1h-2zM286 110h1v1h-1zM288 110h3v1h-3zM292 110h3v1h-3zM298 110h14v1h-14zM313 110h2v1h-2zM317 110h2v1h-2zM330 110h1v1h-1zM332 110h1v1h-1zM335 110h1v1h-1zM337 110h1v1h-1zM341 110h1v1h-1zM200 111h3v1h-3zM205 111h5v1h-5zM211 111h1v1h-1zM213 111h1v1h-1zM216 111h4v1h-4zM221 111h1v1h-1zM223 111h5v1h-5zM229 111h1v1h-1zM233 111h2v1h-2zM237 111h3v1h-3zM241 111h2v1h-2zM246 111h1v1h-1zM248 111h2v1h-2zM251 111h1v1h-1zM253 111h2v1h-2zM257 111h1v1h-1zM259 111h3v1h-3zM263 111h2v1h-2zM266 111h1v1h-1zM268 111h2v1h-2zM271 111h1v1h-1zM276 111h7v1h-7zM284 111h1v1h-1zM287 111h4v1h-4zM293 111h4v1h-4zM298 111h14v1h-14zM313 111h4v1h-4zM319 111h2v1h-2zM322 111h1v1h-1zM324 111h2v1h-2zM328 111h2v1h-2zM331 111h3v1h-3zM336 111h1v1h-1zM338 111h1v1h-1zM200 112h3v1h-3zM204 112h4v1h-4zM209 112h1v1h-1zM211 112h1v1h-1zM213 112h1v1h-1zM216 112h4v1h-4zM222 112h2v1h-2zM226 112h1v1h-1zM229 112h2v1h-2zM232 112h1v1h-1zM234 112h1v1h-1zM236 112h2v1h-2zM239 112h1v1h-1zM242 112h1v1h-1zM244 112h1v1h-1zM246 112h4v1h-4zM251 112h2v1h-2zM254 112h1v1h-1zM256 112h4v1h-4zM261 112h1v1h-1zM263 112h7v1h-7zM273 112h4v1h-4zM278 112h1v1h-1zM283 112h1v1h-1zM285 112h4v1h-4zM290 112h1v1h-1zM292 112h5v1h-5zM298 112h5v1h-5zM304 112h4v1h-4zM309 112h1v1h-1zM311 112h2v1h-2zM314 112h1v1h-1zM316 112h2v1h-2zM319 112h1v1h-1zM321 112h3v1h-3zM325 112h1v1h-1zM329 112h1v1h-1zM333 112h1v1h-1zM337 112h1v1h-1zM200 113h1v1h-1zM202 113h5v1h-5zM209 113h2v1h-2zM213 113h1v1h-1zM215 113h3v1h-3zM221 113h1v1h-1zM223 113h3v1h-3zM230 113h4v1h-4zM236 113h1v1h-1zM238 113h2v1h-2zM241 113h9v1h-9zM253 113h3v1h-3zM258 113h2v1h-2zM261 113h1v1h-1zM264 113h6v1h-6zM271 113h2v1h-2zM276 113h2v1h-2zM280 113h1v1h-1zM282 113h7v1h-7zM291 113h5v1h-5zM298 113h3v1h-3zM302 113h3v1h-3zM306 113h8v1h-8zM316 113h9v1h-9zM326 113h3v1h-3zM332 113h2v1h-2zM343 113h1v1h-1zM200 114h1v1h-1zM202 114h4v1h-4zM208 114h3v1h-3zM212 114h1v1h-1zM214 114h4v1h-4zM222 114h1v1h-1zM227 114h1v1h-1zM232 114h1v1h-1zM235 114h1v1h-1zM238 114h1v1h-1zM241 114h5v1h-5zM247 114h1v1h-1zM251 114h1v1h-1zM253 114h1v1h-1zM255 114h1v1h-1zM259 114h1v1h-1zM261 114h2v1h-2zM265 114h2v1h-2zM268 114h2v1h-2zM271 114h3v1h-3zM278 114h1v1h-1zM280 114h1v1h-1zM282 114h3v1h-3zM286 114h1v1h-1zM293 114h1v1h-1zM295 114h7v1h-7zM304 114h5v1h-5zM310 114h3v1h-3zM314 114h3v1h-3zM318 114h2v1h-2zM321 114h1v1h-1zM330 114h1v1h-1zM332 114h1v1h-1zM334 114h1v1h-1zM336 114h1v1h-1zM338 114h2v1h-2zM200 115h2v1h-2zM205 115h2v1h-2zM208 115h1v1h-1zM210 115h1v1h-1zM213 115h1v1h-1zM217 115h1v1h-1zM220 115h1v1h-1zM224 115h1v1h-1zM226 115h1v1h-1zM228 115h2v1h-2zM232 115h2v1h-2zM235 115h1v1h-1zM237 115h1v1h-1zM239 115h6v1h-6zM246 115h2v1h-2zM249 115h2v1h-2zM253 115h4v1h-4zM258 115h1v1h-1zM261 115h1v1h-1zM263 115h2v1h-2zM267 115h1v1h-1zM271 115h1v1h-1zM278 115h1v1h-1zM281 115h1v1h-1zM284 115h1v1h-1zM286 115h5v1h-5zM292 115h4v1h-4zM298 115h8v1h-8zM307 115h4v1h-4zM312 115h2v1h-2zM315 115h2v1h-2zM318 115h1v1h-1zM320 115h1v1h-1zM331 115h1v1h-1zM333 115h1v1h-1zM201 116h1v1h-1zM203 116h2v1h-2zM207 116h1v1h-1zM209 116h5v1h-5zM220 116h3v1h-3zM224 116h1v1h-1zM226 116h2v1h-2zM229 116h2v1h-2zM234 116h4v1h-4zM240 116h5v1h-5zM246 116h1v1h-1zM251 116h1v1h-1zM255 116h7v1h-7zM263 116h2v1h-2zM267 116h1v1h-1zM269 116h1v1h-1zM271 116h1v1h-1zM273 116h1v1h-1zM277 116h1v1h-1zM283 116h1v1h-1zM285 116h2v1h-2zM289 116h1v1h-1zM294 116h1v1h-1zM297 116h1v1h-1zM300 116h1v1h-1zM302 116h3v1h-3zM306 116h2v1h-2zM310 116h1v1h-1zM313 116h4v1h-4zM318 116h3v1h-3zM322 116h1v1h-1zM327 116h2v1h-2zM335 116h1v1h-1zM200 117h1v1h-1zM202 117h1v1h-1zM209 117h1v1h-1zM213 117h1v1h-1zM216 117h1v1h-1zM219 117h1v1h-1zM222 117h1v1h-1zM225 117h4v1h-4zM232 117h1v1h-1zM235 117h1v1h-1zM237 117h1v1h-1zM240 117h1v1h-1zM243 117h1v1h-1zM247 117h1v1h-1zM253 117h3v1h-3zM257 117h1v1h-1zM260 117h1v1h-1zM262 117h1v1h-1zM265 117h1v1h-1zM267 117h2v1h-2zM276 117h1v1h-1zM278 117h1v1h-1zM280 117h1v1h-1zM282 117h1v1h-1zM286 117h1v1h-1zM288 117h1v1h-1zM294 117h1v1h-1zM298 117h2v1h-2zM303 117h2v1h-2zM306 117h1v1h-1zM308 117h2v1h-2zM311 117h4v1h-4zM317 117h1v1h-1zM319 117h5v1h-5zM343 117h1v1h-1zM200 118h1v1h-1zM205 118h3v1h-3zM212 118h1v1h-1zM214 118h4v1h-4zM219 118h1v1h-1zM222 118h5v1h-5zM230 118h1v1h-1zM232 118h1v1h-1zM237 118h1v1h-1zM239 118h3v1h-3zM243 118h1v1h-1zM246 118h3v1h-3zM250 118h1v1h-1zM252 118h1v1h-1zM254 118h2v1h-2zM257 118h3v1h-3zM262 118h1v1h-1zM265 118h1v1h-1zM268 118h1v1h-1zM270 118h2v1h-2zM274 118h1v1h-1zM278 118h1v1h-1zM280 118h1v1h-1zM282 118h3v1h-3zM287 118h1v1h-1zM293 118h5v1h-5zM300 118h2v1h-2zM303 118h3v1h-3zM308 118h4v1h-4zM314 118h1v1h-1zM316 118h2v1h-2zM319 118h4v1h-4zM326 118h2v1h-2zM331 118h2v1h-2zM200 119h1v1h-1zM206 119h1v1h-1zM217 119h2v1h-2zM220 119h2v1h-2zM225 119h3v1h-3zM230 119h1v1h-1zM233 119h3v1h-3zM242 119h4v1h-4zM249 119h1v1h-1zM253 119h1v1h-1zM255 119h3v1h-3zM260 119h1v1h-1zM263 119h4v1h-4zM272 119h1v1h-1zM274 119h3v1h-3zM279 119h2v1h-2zM284 119h1v1h-1zM286 119h2v1h-2zM290 119h1v1h-1zM292 119h5v1h-5zM299 119h1v1h-1zM304 119h2v1h-2zM308 119h3v1h-3zM312 119h3v1h-3zM316 119h2v1h-2zM321 119h1v1h-1zM323 119h2v1h-2zM328 119h1v1h-1zM200 120h1v1h-1zM204 120h1v1h-1zM213 120h1v1h-1zM217 120h5v1h-5zM226 120h1v1h-1zM228 120h1v1h-1zM230 120h2v1h-2zM235 120h1v1h-1zM238 120h1v1h-1zM241 120h1v1h-1zM245 120h1v1h-1zM247 120h1v1h-1zM250 120h2v1h-2zM253 120h1v1h-1zM257 120h1v1h-1zM260 120h1v1h-1zM263 120h3v1h-3zM269 120h1v1h-1zM271 120h2v1h-2zM274 120h2v1h-2zM279 120h4v1h-4zM284 120h1v1h-1zM288 120h1v1h-1zM292 120h1v1h-1zM294 120h1v1h-1zM297 120h1v1h-1zM299 120h1v1h-1zM301 120h2v1h-2zM305 120h8v1h-8zM321 120h1v1h-1zM324 120h1v1h-1zM329 120h1v1h-1zM336 120h1v1h-1zM200 121h1v1h-1zM202 121h1v1h-1zM204 121h3v1h-3zM208 121h1v1h-1zM211 121h1v1h-1zM214 121h2v1h-2zM220 121h2v1h-2zM223 121h1v1h-1zM226 121h1v1h-1zM230 121h1v1h-1zM234 121h5v1h-5zM245 121h1v1h-1zM247 121h3v1h-3zM254 121h1v1h-1zM257 121h1v1h-1zM259 121h1v1h-1zM262 121h2v1h-2zM265 121h1v1h-1zM273 121h1v1h-1zM275 121h1v1h-1zM280 121h2v1h-2zM284 121h1v1h-1zM286 121h1v1h-1zM289 121h1v1h-1zM293 121h4v1h-4zM298 121h1v1h-1zM300 121h12v1h-12zM313 121h3v1h-3zM320 121h2v1h-2zM332 121h1v1h-1zM339 121h1v1h-1zM202 122h1v1h-1zM204 122h1v1h-1zM207 122h1v1h-1zM211 122h1v1h-1zM213 122h1v1h-1zM215 122h1v1h-1zM218 122h2v1h-2zM221 122h1v1h-1zM226 122h1v1h-1zM229 122h1v1h-1zM231 122h7v1h-7zM239 122h1v1h-1zM241 122h2v1h-2zM244 122h5v1h-5zM251 122h1v1h-1zM254 122h1v1h-1zM256 122h2v1h-2zM271 122h2v1h-2zM280 122h1v1h-1zM282 122h2v1h-2zM285 122h1v1h-1zM287 122h1v1h-1zM296 122h4v1h-4zM301 122h11v1h-11zM315 122h1v1h-1zM321 122h1v1h-1zM327 122h1v1h-1zM200 123h1v1h-1zM204 123h1v1h-1zM212 123h1v1h-1zM214 123h1v1h-1zM219 123h1v1h-1zM225 123h1v1h-1zM228 123h1v1h-1zM230 123h1v1h-1zM232 123h2v1h-2zM238 123h1v1h-1zM240 123h2v1h-2zM245 123h4v1h-4zM255 123h2v1h-2zM261 123h1v1h-1zM266 123h1v1h-1zM269 123h4v1h-4zM275 123h3v1h-3zM279 123h2v1h-2zM282 123h1v1h-1zM284 123h1v1h-1zM286 123h1v1h-1zM289 123h2v1h-2zM292 123h1v1h-1zM294 123h1v1h-1zM296 123h4v1h-4zM301 123h1v1h-1zM303 123h6v1h-6zM310 123h1v1h-1zM312 123h5v1h-5zM318 123h1v1h-1zM322 123h1v1h-1zM325 123h1v1h-1zM327 123h1v1h-1zM335 123h1v1h-1zM200 124h2v1h-2zM204 124h1v1h-1zM208 124h1v1h-1zM210 124h2v1h-2zM221 124h1v1h-1zM224 124h2v1h-2zM229 124h1v1h-1zM234 124h1v1h-1zM237 124h1v1h-1zM239 124h2v1h-2zM243 124h2v1h-2zM252 124h1v1h-1zM255 124h1v1h-1zM258 124h1v1h-1zM260 124h1v1h-1zM264 124h1v1h-1zM268 124h1v1h-1zM276 124h4v1h-4zM284 124h2v1h-2zM288 124h5v1h-5zM294 124h2v1h-2zM298 124h1v1h-1zM302 124h2v1h-2zM305 124h2v1h-2zM309 124h5v1h-5zM315 124h2v1h-2zM318 124h1v1h-1zM320 124h1v1h-1zM323 124h1v1h-1zM325 124h2v1h-2zM333 124h1v1h-1zM200 125h1v1h-1zM204 125h1v1h-1zM206 125h2v1h-2zM211 125h1v1h-1zM214 125h1v1h-1zM221 125h3v1h-3zM227 125h1v1h-1zM230 125h1v1h-1zM236 125h1v1h-1zM239 125h1v1h-1zM241 125h3v1h-3zM247 125h1v1h-1zM249 125h1v1h-1zM252 125h1v1h-1zM255 125h2v1h-2zM260 125h1v1h-1zM264 125h1v1h-1zM267 125h1v1h-1zM270 125h3v1h-3zM275 125h2v1h-2zM278 125h2v1h-2zM284 125h1v1h-1zM288 125h2v1h-2zM291 125h1v1h-1zM297 125h5v1h-5zM306 125h7v1h-7zM314 125h1v1h-1zM317 125h1v1h-1zM319 125h1v1h-1zM336 125h1v1h-1zM200 126h2v1h-2zM204 126h1v1h-1zM206 126h2v1h-2zM210 126h1v1h-1zM214 126h1v1h-1zM216 126h1v1h-1zM218 126h1v1h-1zM220 126h1v1h-1zM224 126h2v1h-2zM227 126h2v1h-2zM230 126h1v1h-1zM232 126h2v1h-2zM239 126h1v1h-1zM244 126h1v1h-1zM247 126h1v1h-1zM249 126h1v1h-1zM252 126h1v1h-1zM258 126h3v1h-3zM262 126h1v1h-1zM269 126h2v1h-2zM273 126h1v1h-1zM277 126h2v1h-2zM280 126h2v1h-2zM284 126h1v1h-1zM286 126h1v1h-1zM288 126h1v1h-1zM290 126h4v1h-4zM295 126h3v1h-3zM301 126h1v1h-1zM309 126h3v1h-3zM313 126h3v1h-3zM317 126h2v1h-2zM320 126h2v1h-2zM324 126h1v1h-1zM328 126h1v1h-1zM331 126h1v1h-1zM200 127h1v1h-1zM207 127h1v1h-1zM210 127h1v1h-1zM212 127h1v1h-1zM218 127h4v1h-4zM224 127h1v1h-1zM226 127h1v1h-1zM228 127h1v1h-1zM233 127h1v1h-1zM237 127h1v1h-1zM240 127h1v1h-1zM250 127h1v1h-1zM252 127h1v1h-1zM254 127h1v1h-1zM256 127h1v1h-1zM259 127h2v1h-2zM265 127h1v1h-1zM267 127h1v1h-1zM269 127h1v1h-1zM273 127h1v1h-1zM283 127h2v1h-2zM286 127h2v1h-2zM289 127h1v1h-1zM292 127h4v1h-4zM297 127h1v1h-1zM300 127h2v1h-2zM303 127h1v1h-1zM305 127h2v1h-2zM309 127h4v1h-4zM317 127h1v1h-1zM322 127h2v1h-2zM342 127h1v1h-1zM200 128h2v1h-2zM203 128h2v1h-2zM208 128h1v1h-1zM211 128h1v1h-1zM213 128h2v1h-2zM218 128h1v1h-1zM221 128h1v1h-1zM225 128h1v1h-1zM229 128h1v1h-1zM233 128h1v1h-1zM235 128h1v1h-1zM241 128h1v1h-1zM247 128h3v1h-3zM252 128h1v1h-1zM255 128h2v1h-2zM259 128h1v1h-1zM264 128h1v1h-1zM269 128h1v1h-1zM271 128h2v1h-2zM276 128h2v1h-2zM282 128h3v1h-3zM290 128h2v1h-2zM293 128h1v1h-1zM295 128h2v1h-2zM300 128h1v1h-1zM302 128h2v1h-2zM305 128h2v1h-2zM308 128h1v1h-1zM310 128h1v1h-1zM312 128h1v1h-1zM318 128h1v1h-1zM324 128h1v1h-1zM326 128h1v1h-1zM333 128h1v1h-1zM335 128h1v1h-1zM200 129h2v1h-2zM203 129h1v1h-1zM206 129h1v1h-1zM213 129h2v1h-2zM218 129h1v1h-1zM221 129h1v1h-1zM224 129h2v1h-2zM229 129h2v1h-2zM235 129h1v1h-1zM239 129h2v1h-2zM242 129h1v1h-1zM244 129h1v1h-1zM257 129h2v1h-2zM261 129h1v1h-1zM263 129h1v1h-1zM270 129h1v1h-1zM275 129h1v1h-1zM278 129h1v1h-1zM281 129h2v1h-2zM285 129h1v1h-1zM288 129h1v1h-1zM290 129h1v1h-1zM294 129h1v1h-1zM297 129h1v1h-1zM300 129h4v1h-4zM305 129h3v1h-3zM309 129h1v1h-1zM313 129h1v1h-1zM318 129h1v1h-1zM320 129h1v1h-1zM323 129h1v1h-1zM326 129h1v1h-1zM330 129h1v1h-1zM334 129h1v1h-1zM340 129h1v1h-1zM343 129h1v1h-1zM200 130h3v1h-3zM208 130h1v1h-1zM213 130h1v1h-1zM220 130h3v1h-3zM226 130h2v1h-2zM233 130h1v1h-1zM235 130h2v1h-2zM238 130h1v1h-1zM240 130h1v1h-1zM245 130h1v1h-1zM251 130h2v1h-2zM254 130h1v1h-1zM257 130h1v1h-1zM264 130h1v1h-1zM277 130h4v1h-4zM286 130h1v1h-1zM290 130h1v1h-1zM292 130h1v1h-1zM295 130h2v1h-2zM300 130h1v1h-1zM303 130h3v1h-3zM308 130h3v1h-3zM316 130h2v1h-2zM327 130h1v1h-1zM210 131h1v1h-1zM223 131h1v1h-1zM225 131h1v1h-1zM230 131h1v1h-1zM233 131h2v1h-2zM237 131h4v1h-4zM248 131h1v1h-1zM250 131h2v1h-2zM253 131h2v1h-2zM273 131h1v1h-1zM283 131h2v1h-2zM289 131h1v1h-1zM294 131h1v1h-1zM296 131h4v1h-4zM307 131h2v1h-2zM310 131h1v1h-1zM313 131h1v1h-1zM317 131h1v1h-1zM334 131h2v1h-2zM339 131h1v1h-1zM200 132h2v1h-2zM206 132h1v1h-1zM208 132h1v1h-1zM214 132h1v1h-1zM219 132h1v1h-1zM224 132h1v1h-1zM235 132h1v1h-1zM238 132h1v1h-1zM246 132h3v1h-3zM254 132h1v1h-1zM261 132h1v1h-1zM266 132h1v1h-1zM269 132h2v1h-2zM272 132h1v1h-1zM274 132h1v1h-1zM279 132h1v1h-1zM287 132h1v1h-1zM290 132h1v1h-1zM293 132h1v1h-1zM297 132h1v1h-1zM300 132h2v1h-2zM307 132h1v1h-1zM312 132h1v1h-1zM318 132h1v1h-1zM327 132h1v1h-1zM329 132h1v1h-1zM331 132h1v1h-1zM200 133h1v1h-1zM202 133h1v1h-1zM210 133h4v1h-4zM215 133h1v1h-1zM221 133h1v1h-1zM225 133h2v1h-2zM228 133h1v1h-1zM231 133h1v1h-1zM233 133h1v1h-1zM242 133h1v1h-1zM244 133h3v1h-3zM249 133h2v1h-2zM266 133h1v1h-1zM275 133h1v1h-1zM280 133h1v1h-1zM282 133h1v1h-1zM289 133h1v1h-1zM293 133h1v1h-1zM296 133h2v1h-2zM299 133h1v1h-1zM304 133h1v1h-1zM306 133h2v1h-2zM309 133h1v1h-1zM311 133h2v1h-2zM314 133h2v1h-2zM318 133h2v1h-2zM322 133h1v1h-1zM335 133h1v1h-1zM200 134h1v1h-1zM207 134h1v1h-1zM209 134h1v1h-1zM211 134h1v1h-1zM213 134h1v1h-1zM215 134h2v1h-2zM219 134h1v1h-1zM221 134h2v1h-2zM226 134h1v1h-1zM228 134h2v1h-2zM232 134h3v1h-3zM236 134h1v1h-1zM243 134h1v1h-1zM250 134h1v1h-1zM259 134h1v1h-1zM275 134h2v1h-2zM285 134h1v1h-1zM290 134h3v1h-3zM296 134h1v1h-1zM303 134h1v1h-1zM306 134h2v1h-2zM309 134h2v1h-2zM313 134h3v1h-3zM332 134h1v1h-1zM335 134h1v1h-1zM210 135h2v1h-2zM213 135h1v1h-1zM215 135h1v1h-1zM220 135h3v1h-3zM225 135h1v1h-1zM227 135h1v1h-1zM236 135h1v1h-1zM241 135h1v1h-1zM251 135h1v1h-1zM258 135h1v1h-1zM262 135h1v1h-1zM277 135h1v1h-1zM282 135h1v1h-1zM288 135h1v1h-1zM290 135h1v1h-1zM292 135h3v1h-3zM298 135h2v1h-2zM302 135h2v1h-2zM305 135h1v1h-1zM310 135h3v1h-3zM314 135h2v1h-2zM317 135h1v1h-1zM320 135h1v1h-1zM322 135h1v1h-1zM203 136h2v1h-2zM216 136h1v1h-1zM222 136h1v1h-1zM236 136h1v1h-1zM239 136h1v1h-1zM241 136h4v1h-4zM247 136h1v1h-1zM251 136h1v1h-1zM257 136h1v1h-1zM266 136h1v1h-1zM280 136h2v1h-2zM284 136h1v1h-1zM287 136h3v1h-3zM292 136h1v1h-1zM294 136h1v1h-1zM301 136h1v1h-1zM304 136h2v1h-2zM307 136h1v1h-1zM310 136h1v1h-1zM315 136h2v1h-2zM321 136h1v1h-1zM325 136h1v1h-1zM330 136h1v1h-1zM332 136h1v1h-1zM336 136h1v1h-1zM200 137h2v1h-2zM217 137h1v1h-1zM219 137h1v1h-1zM221 137h1v1h-1zM226 137h1v1h-1zM241 137h1v1h-1zM252 137h1v1h-1zM259 137h1v1h-1zM267 137h1v1h-1zM279 137h1v1h-1zM282 137h1v1h-1zM286 137h1v1h-1zM291 137h2v1h-2zM294 137h1v1h-1zM296 137h2v1h-2zM299 137h3v1h-3zM311 137h2v1h-2zM316 137h1v1h-1zM335 137h1v1h-1zM200 138h1v1h-1zM205 138h1v1h-1zM207 138h1v1h-1zM213 138h1v1h-1zM217 138h1v1h-1zM220 138h1v1h-1zM222 138h1v1h-1zM227 138h1v1h-1zM239 138h1v1h-1zM244 138h1v1h-1zM248 138h2v1h-2zM259 138h1v1h-1zM262 138h2v1h-2zM266 138h3v1h-3zM272 138h1v1h-1zM282 138h1v1h-1zM301 138h1v1h-1zM305 138h1v1h-1zM307 138h1v1h-1zM310 138h1v1h-1zM312 138h1v1h-1zM316 138h1v1h-1zM324 138h1v1h-1zM326 138h2v1h-2zM200 139h1v1h-1zM202 139h2v1h-2zM207 139h1v1h-1zM209 139h1v1h-1zM221 139h1v1h-1zM225 139h1v1h-1zM229 139h1v1h-1zM235 139h1v1h-1zM239 139h1v1h-1zM241 139h1v1h-1zM244 139h1v1h-1zM248 139h1v1h-1zM253 139h1v1h-1zM255 139h1v1h-1zM259 139h1v1h-1zM263 139h2v1h-2zM268 139h1v1h-1zM272 139h1v1h-1zM281 139h2v1h-2zM288 139h1v1h-1zM291 139h2v1h-2zM294 139h1v1h-1zM300 139h2v1h-2zM307 139h1v1h-1zM309 139h1v1h-1zM312 139h1v1h-1zM314 139h3v1h-3zM320 139h1v1h-1zM326 139h1v1h-1zM331 139h1v1h-1zM203 140h1v1h-1zM212 140h1v1h-1zM216 140h1v1h-1zM220 140h1v1h-1zM229 140h1v1h-1zM242 140h1v1h-1zM248 140h1v1h-1zM252 140h1v1h-1zM257 140h1v1h-1zM259 140h1v1h-1zM267 140h1v1h-1zM271 140h2v1h-2zM274 140h1v1h-1zM281 140h1v1h-1zM288 140h1v1h-1zM291 140h1v1h-1zM294 140h2v1h-2zM297 140h1v1h-1zM305 140h1v1h-1zM307 140h1v1h-1zM309 140h1v1h-1zM315 140h2v1h-2zM318 140h1v1h-1zM320 140h1v1h-1zM336 140h2v1h-2zM200 141h1v1h-1zM205 141h1v1h-1zM207 141h2v1h-2zM249 141h1v1h-1zM252 141h1v1h-1zM255 141h1v1h-1zM268 141h1v1h-1zM275 141h2v1h-2zM278 141h2v1h-2zM301 141h2v1h-2zM307 141h1v1h-1zM309 141h1v1h-1zM322 141h1v1h-1zM331 141h1v1h-1zM333 141h1v1h-1zM338 141h1v1h-1zM200 142h2v1h-2zM214 142h1v1h-1zM216 142h1v1h-1zM219 142h1v1h-1zM221 142h1v1h-1zM226 142h2v1h-2zM229 142h1v1h-1zM239 142h1v1h-1zM249 142h1v1h-1zM259 142h1v1h-1zM264 142h1v1h-1zM270 142h1v1h-1zM275 142h1v1h-1zM285 142h1v1h-1zM288 142h1v1h-1zM291 142h1v1h-1zM295 142h1v1h-1zM297 142h2v1h-2zM304 142h1v1h-1zM308 142h1v1h-1zM310 142h2v1h-2zM316 142h1v1h-1zM321 142h2v1h-2zM325 142h1v1h-1zM329 142h1v1h-1zM200 143h1v1h-1zM205 143h2v1h-2zM213 143h1v1h-1zM225 143h1v1h-1zM228 143h2v1h-2zM233 143h1v1h-1zM250 143h1v1h-1zM255 143h1v1h-1zM257 143h1v1h-1zM260 143h1v1h-1zM279 143h1v1h-1zM296 143h4v1h-4zM304 143h1v1h-1zM308 143h2v1h-2zM314 143h1v1h-1zM316 143h1v1h-1zM318 143h1v1h-1zM325 143h1v1h-1zM328 143h1v1h-1zM216 144h1v1h-1zM219 144h2v1h-2zM223 144h1v1h-1zM231 144h1v1h-1zM233 144h1v1h-1zM236 144h1v1h-1zM240 144h1v1h-1zM242 144h1v1h-1zM246 144h1v1h-1zM260 144h1v1h-1zM271 144h1v1h-1zM275 144h1v1h-1zM282 144h1v1h-1zM285 144h1v1h-1zM291 144h1v1h-1zM294 144h1v1h-1zM302 144h1v1h-1zM309 144h2v1h-2zM313 144h1v1h-1zM318 144h2v1h-2zM329 144h1v1h-1zM336 144h1v1h-1zM338 144h1v1h-1zM200 145h1v1h-1zM204 145h1v1h-1zM215 145h3v1h-3zM229 145h2v1h-2zM238 145h1v1h-1zM243 145h1v1h-1zM273 145h1v1h-1zM291 145h1v1h-1zM300 145h2v1h-2zM305 145h1v1h-1zM310 145h1v1h-1zM316 145h2v1h-2zM319 145h1v1h-1zM343 145h1v1h-1zM200 146h1v1h-1zM203 146h2v1h-2zM207 146h1v1h-1zM228 146h2v1h-2zM236 146h1v1h-1zM240 146h1v1h-1zM245 146h1v1h-1zM251 146h1v1h-1zM259 146h1v1h-1zM261 146h1v1h-1zM275 146h1v1h-1zM285 146h1v1h-1zM296 146h3v1h-3zM302 146h1v1h-1zM304 146h1v1h-1zM313 146h3v1h-3zM319 146h1v1h-1zM322 146h2v1h-2zM200 147h1v1h-1zM202 147h2v1h-2zM219 147h1v1h-1zM223 147h2v1h-2zM228 147h2v1h-2zM231 147h1v1h-1zM234 147h1v1h-1zM247 147h1v1h-1zM285 147h1v1h-1zM287 147h3v1h-3zM295 147h2v1h-2zM300 147h2v1h-2zM306 147h1v1h-1zM308 147h2v1h-2zM312 147h2v1h-2zM320 147h1v1h-1zM206 148h1v1h-1zM215 148h1v1h-1zM218 148h1v1h-1zM221 148h1v1h-1zM223 148h1v1h-1zM225 148h1v1h-1zM236 148h1v1h-1zM243 148h1v1h-1zM248 148h1v1h-1zM250 148h1v1h-1zM254 148h1v1h-1zM264 148h1v1h-1zM293 148h1v1h-1zM309 148h1v1h-1zM313 148h1v1h-1zM318 148h1v1h-1zM326 148h1v1h-1zM336 148h1v1h-1zM213 149h4v1h-4zM224 149h1v1h-1zM227 149h3v1h-3zM231 149h1v1h-1zM240 149h1v1h-1zM243 149h1v1h-1zM250 149h2v1h-2zM280 149h1v1h-1zM282 149h1v1h-1zM289 149h1v1h-1zM295 149h1v1h-1zM299 149h1v1h-1zM303 149h2v1h-2zM306 149h1v1h-1zM309 149h1v1h-1zM314 149h1v1h-1zM318 149h1v1h-1zM332 149h1v1h-1zM335 149h1v1h-1zM338 149h1v1h-1zM214 150h1v1h-1zM226 150h1v1h-1zM240 150h1v1h-1zM245 150h1v1h-1zM248 150h1v1h-1zM256 150h1v1h-1zM261 150h1v1h-1zM264 150h1v1h-1zM266 150h1v1h-1zM270 150h1v1h-1zM280 150h1v1h-1zM286 150h1v1h-1zM293 150h1v1h-1zM297 150h2v1h-2zM303 150h2v1h-2zM306 150h1v1h-1zM308 150h5v1h-5zM314 150h1v1h-1zM321 150h1v1h-1zM333 150h2v1h-2zM202 151h1v1h-1zM206 151h1v1h-1zM211 151h1v1h-1zM213 151h1v1h-1zM225 151h1v1h-1zM236 151h1v1h-1zM250 151h1v1h-1zM257 151h2v1h-2zM272 151h1v1h-1zM279 151h1v1h-1zM284 151h1v1h-1zM305 151h1v1h-1zM307 151h1v1h-1zM315 151h1v1h-1zM319 151h1v1h-1zM323 151h1v1h-1zM330 151h1v1h-1zM332 151h1v1h-1zM200 152h2v1h-2zM203 152h1v1h-1zM205 152h1v1h-1zM222 152h1v1h-1zM232 152h1v1h-1zM241 152h1v1h-1zM247 152h1v1h-1zM253 152h1v1h-1zM258 152h1v1h-1zM267 152h1v1h-1zM273 152h1v1h-1zM279 152h1v1h-1zM283 152h1v1h-1zM285 152h1v1h-1zM288 152h1v1h-1zM290 152h1v1h-1zM300 152h1v1h-1zM305 152h2v1h-2zM308 152h1v1h-1zM310 152h1v1h-1zM317 152h1v1h-1zM322 152h1v1h-1zM326 152h1v1h-1zM337 152h1v1h-1zM202 153h1v1h-1zM206 153h1v1h-1zM210 153h1v1h-1zM216 153h1v1h-1zM220 153h1v1h-1zM228 153h1v1h-1zM238 153h1v1h-1zM253 153h1v1h-1zM258 153h1v1h-1zM266 153h2v1h-2zM272 153h1v1h-1zM274 153h1v1h-1zM280 153h1v1h-1zM282 153h2v1h-2zM297 153h1v1h-1zM303 153h2v1h-2zM312 153h3v1h-3zM318 153h1v1h-1zM325 153h1v1h-1zM337 153h1v1h-1zM207 154h1v1h-1zM232 154h1v1h-1zM247 154h1v1h-1zM255 154h1v1h-1zM262 154h1v1h-1zM270 154h1v1h-1zM273 154h1v1h-1zM281 154h1v1h-1zM291 154h1v1h-1zM295 154h2v1h-2zM299 154h1v1h-1zM303 154h1v1h-1zM307 154h1v1h-1zM309 154h1v1h-1zM316 154h1v1h-1zM318 154h1v1h-1zM200 155h1v1h-1zM205 155h1v1h-1zM214 155h1v1h-1zM226 155h1v1h-1zM232 155h1v1h-1zM235 155h1v1h-1zM245 155h1v1h-1zM251 155h1v1h-1zM270 155h1v1h-1zM272 155h1v1h-1zM275 155h1v1h-1zM277 155h1v1h-1zM286 155h1v1h-1zM292 155h1v1h-1zM294 155h1v1h-1zM307 155h1v1h-1zM309 155h1v1h-1zM312 155h1v1h-1zM314 155h1v1h-1zM326 155h1v1h-1zM330 155h1v1h-1zM218 156h1v1h-1zM227 156h1v1h-1zM232 156h1v1h-1zM235 156h1v1h-1zM256 156h1v1h-1zM262 156h2v1h-2zM282 156h1v1h-1zM284 156h1v1h-1zM290 156h1v1h-1zM295 156h1v1h-1zM300 156h1v1h-1zM303 156h1v1h-1zM308 156h1v1h-1zM310 156h2v1h-2zM313 156h1v1h-1zM321 156h1v1h-1zM325 156h1v1h-1zM201 157h1v1h-1zM214 157h2v1h-2zM220 157h1v1h-1zM231 157h1v1h-1zM233 157h1v1h-1zM242 157h1v1h-1zM253 157h1v1h-1zM259 157h1v1h-1zM263 157h1v1h-1zM268 157h1v1h-1zM273 157h1v1h-1zM285 157h1v1h-1zM287 157h2v1h-2zM293 157h1v1h-1zM308 157h1v1h-1zM314 157h1v1h-1zM324 157h1v1h-1zM326 157h1v1h-1zM200 158h1v1h-1zM202 158h1v1h-1zM214 158h1v1h-1zM216 158h1v1h-1zM223 158h1v1h-1zM226 158h2v1h-2zM229 158h1v1h-1zM234 158h1v1h-1zM255 158h1v1h-1zM279 158h2v1h-2zM290 158h1v1h-1zM295 158h1v1h-1zM298 158h1v1h-1zM316 158h1v1h-1zM321 158h1v1h-1zM327 158h2v1h-2zM200 159h1v1h-1zM207 159h1v1h-1zM212 159h1v1h-1zM217 159h1v1h-1zM224 159h1v1h-1zM239 159h1v1h-1zM247 159h1v1h-1zM250 159h1v1h-1zM259 159h2v1h-2zM296 159h1v1h-1zM304 159h1v1h-1zM316 159h1v1h-1zM319 159h1v1h-1zM323 159h1v1h-1zM200 160h1v1h-1zM213 160h1v1h-1zM221 160h1v1h-1zM234 160h1v1h-1zM239 160h1v1h-1zM243 160h1v1h-1zM248 160h1v1h-1zM256 160h1v1h-1zM259 160h1v1h-1zM268 160h1v1h-1zM271 160h2v1h-2zM288 160h1v1h-1zM297 160h1v1h-1zM301 160h1v1h-1zM304 160h2v1h-2zM313 160h1v1h-1zM318 160h1v1h-1zM201 161h1v1h-1zM211 161h1v1h-1zM219 161h1v1h-1zM230 161h1v1h-1zM233 161h1v1h-1zM239 161h2v1h-2zM260 161h1v1h-1zM269 161h1v1h-1zM285 161h1v1h-1zM288 161h1v1h-1zM290 161h1v1h-1zM294 161h1v1h-1zM299 161h1v1h-1zM303 161h2v1h-2zM323 161h1v1h-1zM327 161h1v1h-1zM338 161h1v1h-1zM203 162h1v1h-1zM205 162h1v1h-1zM212 162h2v1h-2zM220 162h1v1h-1zM222 162h1v1h-1zM233 162h1v1h-1zM237 162h1v1h-1zM248 162h1v1h-1zM252 162h1v1h-1zM261 162h2v1h-2zM277 162h1v1h-1zM297 162h1v1h-1zM307 162h1v1h-1zM320 162h1v1h-1zM200 163h1v1h-1zM202 163h1v1h-1zM207 163h2v1h-2zM210 163h1v1h-1zM213 163h1v1h-1zM224 163h1v1h-1zM233 163h2v1h-2zM250 163h1v1h-1zM253 163h1v1h-1zM259 163h1v1h-1zM270 163h1v1h-1zM281 163h2v1h-2zM290 163h1v1h-1zM292 163h1v1h-1zM294 163h1v1h-1zM305 163h1v1h-1zM307 163h1v1h-1zM311 163h1v1h-1zM333 163h1v1h-1zM210 164h2v1h-2zM220 164h1v1h-1zM228 164h1v1h-1zM260 164h1v1h-1zM263 164h2v1h-2zM287 164h1v1h-1zM292 164h1v1h-1zM306 164h1v1h-1zM312 164h1v1h-1zM330 164h1v1h-1zM341 164h1v1h-1zM200 165h1v1h-1zM208 165h1v1h-1zM210 165h1v1h-1zM215 165h1v1h-1zM218 165h1v1h-1zM226 165h1v1h-1zM239 165h1v1h-1zM242 165h1v1h-1zM251 165h1v1h-1zM256 165h1v1h-1zM258 165h2v1h-2zM272 165h1v1h-1zM277 165h2v1h-2zM282 165h1v1h-1zM292 165h1v1h-1zM296 165h1v1h-1zM304 165h3v1h-3zM308 165h1v1h-1zM314 165h1v1h-1zM318 165h1v1h-1zM320 165h1v1h-1zM334 165h1v1h-1z"/>
<path fill="#111" filter="url(#bl)" d="M391 22h1v1h-1zM429 24h1v1h-1zM412 26h1v1h-1zM467 28h1v1h-1zM434 29h1v1h-1zM464 29h1v1h-1zM476 30h1v1h-1zM495 30h1v1h-1zM429 31h1v1h-1zM455 31h1v1h-1zM419 34h1v1h-1zM486 34h1v1h-1zM379 35h1v1h-1zM464 35h1v1h-1zM446 36h1v1h-1zM425 37h1v1h-1zM471 37h1v1h-1zM491 37h1v1h-1zM399 38h1v1h-1zM423 38h1v1h-1zM470 38h1v1h-1zM475 38h1v1h-1zM485 38h1v1h-1zM492 38h1v1h-1zM417 39h1v1h-1zM445 39h1v1h-1zM470 39h1v1h-1zM470 40h1v1h-1zM472 40h1v1h-1zM413 41h1v1h-1zM443 41h1v1h-1zM468 41h1v1h-1zM470 41h1v1h-1zM472 41h1v1h-1zM484 41h1v1h-1zM439 42h1v1h-1zM445 42h1v1h-1zM476 42h1v1h-1zM480 42h1v1h-1zM384 43h1v1h-1zM404 43h1v1h-1zM409 43h1v1h-1zM434 43h1v1h-1zM470 43h1v1h-1zM473 43h1v1h-1zM483 43h1v1h-1zM497 43h1v1h-1zM369 44h1v1h-1zM435 44h1v1h-1zM437 44h1v1h-1zM477 44h2v1h-2zM490 44h1v1h-1zM370 45h1v1h-1zM419 45h1v1h-1zM433 45h1v1h-1zM459 45h1v1h-1zM473 45h2v1h-2zM480 45h1v1h-1zM487 45h1v1h-1zM492 45h1v1h-1zM444 46h1v1h-1zM456 46h1v1h-1zM460 46h1v1h-1zM465 46h1v1h-1zM471 46h1v1h-1zM480 46h1v1h-1zM447 47h1v1h-1zM454 47h1v1h-1zM457 47h1v1h-1zM468 47h1v1h-1zM478 47h1v1h-1zM480 47h1v1h-1zM503 47h1v1h-1zM407 48h1v1h-1zM451 48h2v1h-2zM469 48h1v1h-1zM473 48h2v1h-2zM492 48h1v1h-1zM413 49h1v1h-1zM447 49h1v1h-1zM454 49h1v1h-1zM457 49h1v1h-1zM465 49h1v1h-1zM468 49h1v1h-1zM473 49h1v1h-1zM475 49h1v1h-1zM480 49h2v1h-2zM390 50h1v1h-1zM412 50h1v1h-1zM418 50h2v1h-2zM432 50h1v1h-1zM437 50h1v1h-1zM441 50h1v1h-1zM446 50h1v1h-1zM450 50h1v1h-1zM452 50h2v1h-2zM458 50h1v1h-1zM460 50h1v1h-1zM463 50h1v1h-1zM465 50h1v1h-1zM471 50h1v1h-1zM476 50h2v1h-2zM484 50h1v1h-1zM488 50h1v1h-1zM493 50h1v1h-1zM413 51h1v1h-1zM425 51h1v1h-1zM448 51h1v1h-1zM453 51h3v1h-3zM457 51h1v1h-1zM459 51h1v1h-1zM461 51h1v1h-1zM467 51h2v1h-2zM470 51h2v1h-2zM473 51h1v1h-1zM476 51h3v1h-3zM480 51h1v1h-1zM488 51h1v1h-1zM496 51h1v1h-1zM498 51h1v1h-1zM415 52h1v1h-1zM429 52h2v1h-2zM442 52h1v1h-1zM446 52h1v1h-1zM448 52h1v1h-1zM451 52h1v1h-1zM457 52h1v1h-1zM464 52h1v1h-1zM466 52h1v1h-1zM470 52h1v1h-1zM472 52h1v1h-1zM476 52h1v1h-1zM478 52h2v1h-2zM482 52h1v1h-1zM487 52h1v1h-1zM491 52h1v1h-1zM495 52h1v1h-1zM446 53h2v1h-2zM450 53h4v1h-4zM459 53h1v1h-1zM461 53h1v1h-1zM463 53h1v1h-1zM466 53h6v1h-6zM473 53h1v1h-1zM475 53h1v1h-1zM485 53h2v1h-2zM489 53h3v1h-3zM496 53h1v1h-1zM499 53h1v1h-1zM368 54h1v1h-1zM391 54h1v1h-1zM398 54h1v1h-1zM432 54h1v1h-1zM436 54h1v1h-1zM441 54h1v1h-1zM443 54h1v1h-1zM445 54h1v1h-1zM454 54h2v1h-2zM458 54h3v1h-3zM462 54h2v1h-2zM465 54h1v1h-1zM468 54h2v1h-2zM472 54h2v1h-2zM475 54h1v1h-1zM477 54h3v1h-3zM483 54h1v1h-1zM485 54h1v1h-1zM494 54h1v1h-1zM496 54h1v1h-1zM388 55h1v1h-1zM423 55h1v1h-1zM437 55h2v1h-2zM440 55h1v1h-1zM444 55h1v1h-1zM446 55h1v1h-1zM449 55h1v1h-1zM451 55h1v1h-1zM453 55h1v1h-1zM456 55h1v1h-1zM459 55h4v1h-4zM464 55h1v1h-1zM466 55h9v1h-9zM477 55h4v1h-4zM483 55h1v1h-1zM485 55h1v1h-1zM498 55h1v1h-1zM503 55h1v1h-1zM373 56h1v1h-1zM440 56h1v1h-1zM442 56h1v1h-1zM444 56h1v1h-1zM449 56h1v1h-1zM451 56h2v1h-2zM454 56h2v1h-2zM458 56h2v1h-2zM461 56h6v1h-6zM468 56h5v1h-5zM475 56h3v1h-3zM479 56h3v1h-3zM484 56h4v1h-4zM489 56h1v1h-1zM491 56h2v1h-2zM496 56h1v1h-1zM498 56h2v1h-2zM501 56h1v1h-1zM393 57h1v1h-1zM423 57h1v1h-1zM440 57h2v1h-2zM445 57h1v1h-1zM451 57h6v1h-6zM458 57h1v1h-1zM460 57h1v1h-1zM462 57h6v1h-6zM469 57h2v1h-2zM472 57h2v1h-2zM475 57h3v1h-3zM479 57h2v1h-2zM486 57h1v1h-1zM488 57h1v1h-1zM408 58h1v1h-1zM443 58h1v1h-1zM446 58h1v1h-1zM450 58h1v1h-1zM454 58h1v1h-1zM456 58h10v1h-10zM467 58h6v1h-6zM476 58h10v1h-10zM488 58h1v1h-1zM491 58h1v1h-1zM493 58h1v1h-1zM381 59h1v1h-1zM416 59h1v1h-1zM437 59h1v1h-1zM442 59h4v1h-4zM447 59h1v1h-1zM450 59h2v1h-2zM453 59h4v1h-4zM458 59h6v1h-6zM465 59h11v1h-11zM477 59h7v1h-7zM486 59h3v1h-3zM490 59h1v1h-1zM493 59h1v1h-1zM368 60h1v1h-1zM394 60h1v1h-1zM399 60h1v1h-1zM413 60h1v1h-1zM435 60h2v1h-2zM440 60h1v1h-1zM442 60h2v1h-2zM447 60h3v1h-3zM451 60h30v1h-30zM482 60h3v1h-3zM487 60h1v1h-1zM491 60h1v1h-1zM495 60h1v1h-1zM373 61h1v1h-1zM385 61h1v1h-1zM395 61h1v1h-1zM417 61h1v1h-1zM422 61h1v1h-1zM430 61h1v1h-1zM432 61h1v1h-1zM436 61h1v1h-1zM446 61h1v1h-1zM452 61h5v1h-5zM458 61h1v1h-1zM461 61h5v1h-5zM467 61h11v1h-11zM479 61h6v1h-6zM487 61h3v1h-3zM491 61h1v1h-1zM493 61h1v1h-1zM498 61h2v1h-2zM376 62h1v1h-1zM394 62h1v1h-1zM434 62h1v1h-1zM442 62h1v1h-1zM445 62h2v1h-2zM448 62h1v1h-1zM451 62h22v1h-22zM474 62h11v1h-11zM486 62h1v1h-1zM489 62h1v1h-1zM491 62h1v1h-1zM494 62h1v1h-1zM380 63h1v1h-1zM439 63h1v1h-1zM445 63h2v1h-2zM448 63h1v1h-1zM451 63h1v1h-1zM453 63h23v1h-23zM477 63h10v1h-10zM488 63h2v1h-2zM491 63h1v1h-1zM494 63h1v1h-1zM501 63h1v1h-1zM507 63h1v1h-1zM400 64h1v1h-1zM413 64h1v1h-1zM422 64h1v1h-1zM425 64h1v1h-1zM432 64h1v1h-1zM447 64h1v1h-1zM449 64h1v1h-1zM452 64h1v1h-1zM454 64h6v1h-6zM461 64h12v1h-12zM474 64h13v1h-13zM488 64h3v1h-3zM492 64h1v1h-1zM495 64h2v1h-2zM499 64h1v1h-1zM384 65h1v1h-1zM404 65h1v1h-1zM439 65h1v1h-1zM443 65h1v1h-1zM445 65h1v1h-1zM447 65h1v1h-1zM449 65h1v1h-1zM451 65h3v1h-3zM455 65h12v1h-12zM469 65h25v1h-25zM495 65h1v1h-1zM497 65h1v1h-1zM402 66h1v1h-1zM416 66h1v1h-1zM422 66h1v1h-1zM426 66h2v1h-2zM437 66h1v1h-1zM439 66h1v1h-1zM442 66h6v1h-6zM449 66h2v1h-2zM452 66h14v1h-14zM467 66h16v1h-16zM484 66h3v1h-3zM488 66h4v1h-4zM502 66h1v1h-1zM365 67h1v1h-1zM369 67h1v1h-1zM372 67h2v1h-2zM377 67h1v1h-1zM386 67h1v1h-1zM388 67h1v1h-1zM397 67h1v1h-1zM400 67h1v1h-1zM407 67h1v1h-1zM417 67h3v1h-3zM422 67h1v1h-1zM427 67h1v1h-1zM430 67h1v1h-1zM439 67h1v1h-1zM441 67h1v1h-1zM443 67h2v1h-2zM446 67h14v1h-14zM461 67h3v1h-3zM465 67h20v1h-20zM486 67h8v1h-8zM496 67h1v1h-1zM505 67h1v1h-1zM376 68h1v1h-1zM379 68h1v1h-1zM386 68h1v1h-1zM398 68h1v1h-1zM401 68h2v1h-2zM408 68h1v1h-1zM410 68h2v1h-2zM436 68h3v1h-3zM443 68h1v1h-1zM445 68h1v1h-1zM447 68h6v1h-6zM454 68h21v1h-21zM476 68h12v1h-12zM489 68h2v1h-2zM494 68h5v1h-5zM503 68h1v1h-1zM365 69h1v1h-1zM368 69h1v1h-1zM372 69h1v1h-1zM386 69h1v1h-1zM409 69h3v1h-3zM415 69h1v1h-1zM418 69h1v1h-1zM421 69h1v1h-1zM427 69h1v1h-1zM429 69h1v1h-1zM432 69h1v1h-1zM435 69h1v1h-1zM438 69h1v1h-1zM440 69h1v1h-1zM442 69h3v1h-3zM449 69h5v1h-5zM455 69h37v1h-37zM494 69h1v1h-1zM497 69h1v1h-1zM503 69h1v1h-1zM509 69h1v1h-1zM365 70h1v1h-1zM367 70h1v1h-1zM377 70h1v1h-1zM384 70h1v1h-1zM386 70h2v1h-2zM389 70h1v1h-1zM395 70h1v1h-1zM397 70h2v1h-2zM401 70h1v1h-1zM407 70h1v1h-1zM409 70h2v1h-2zM414 70h2v1h-2zM423 70h1v1h-1zM425 70h1v1h-1zM428 70h1v1h-1zM432 70h3v1h-3zM436 70h2v1h-2zM439 70h1v1h-1zM441 70h1v1h-1zM445 70h2v1h-2zM449 70h2v1h-2zM452 70h6v1h-6zM459 70h34v1h-34zM504 70h1v1h-1zM364 71h1v1h-1zM368 71h1v1h-1zM370 71h1v1h-1zM373 71h1v1h-1zM379 71h1v1h-1zM382 71h2v1h-2zM388 71h1v1h-1zM390 71h1v1h-1zM392 71h1v1h-1zM395 71h2v1h-2zM398 71h1v1h-1zM401 71h2v1h-2zM406 71h1v1h-1zM417 71h4v1h-4zM423 71h1v1h-1zM427 71h2v1h-2zM433 71h1v1h-1zM436 71h3v1h-3zM440 71h1v1h-1zM443 71h1v1h-1zM445 71h1v1h-1zM447 71h12v1h-12zM460 71h23v1h-23zM484 71h7v1h-7zM492 71h2v1h-2zM496 71h1v1h-1zM498 71h2v1h-2zM501 71h1v1h-1zM369 72h2v1h-2zM372 72h3v1h-3zM378 72h2v1h-2zM381 72h2v1h-2zM384 72h1v1h-1zM386 72h2v1h-2zM391 72h2v1h-2zM394 72h1v1h-1zM396 72h1v1h-1zM398 72h2v1h-2zM402 72h1v1h-1zM404 72h1v1h-1zM406 72h1v1h-1zM408 72h3v1h-3zM413 72h2v1h-2zM417 72h1v1h-1zM420 72h1v1h-1zM424 72h4v1h-4zM429 72h2v1h-2zM433 72h1v1h-1zM435 72h1v1h-1zM437 72h4v1h-4zM444 72h7v1h-7zM452 72h1v1h-1zM454 72h29v1h-29zM484 72h11v1h-11zM496 72h6v1h-6zM367 73h2v1h-2zM375 73h2v1h-2zM378 73h2v1h-2zM381 73h1v1h-1zM386 73h2v1h-2zM389 73h1v1h-1zM391 73h1v1h-1zM393 73h1v1h-1zM395 73h1v1h-1zM397 73h1v1h-1zM402 73h1v1h-1zM410 73h1v1h-1zM413 73h1v1h-1zM417 73h3v1h-3zM421 73h2v1h-2zM424 73h1v1h-1zM429 73h1v1h-1zM432 73h1v1h-1zM434 73h3v1h-3zM440 73h31v1h-31zM472 73h12v1h-12zM485 73h4v1h-4zM490 73h4v1h-4zM496 73h2v1h-2zM506 73h1v1h-1zM364 74h1v1h-1zM367 74h4v1h-4zM372 74h2v1h-2zM376 74h2v1h-2zM379 74h1v1h-1zM381 74h1v1h-1zM384 74h4v1h-4zM389 74h4v1h-4zM394 74h1v1h-1zM397 74h1v1h-1zM400 74h1v1h-1zM405 74h1v1h-1zM407 74h1v1h-1zM409 74h1v1h-1zM413 74h4v1h-4zM419 74h1v1h-1zM422 74h1v1h-1zM424 74h3v1h-3zM429 74h4v1h-4zM434 74h1v1h-1zM437 74h1v1h-1zM440 74h1v1h-1zM443 74h41v1h-41zM485 74h5v1h-5zM491 74h2v1h-2zM495 74h4v1h-4zM502 74h1v1h-1zM504 74h1v1h-1zM507 74h1v1h-1zM366 75h2v1h-2zM369 75h2v1h-2zM373 75h1v1h-1zM375 75h5v1h-5zM383 75h5v1h-5zM389 75h4v1h-4zM395 75h4v1h-4zM400 75h2v1h-2zM404 75h1v1h-1zM408 75h2v1h-2zM411 75h1v1h-1zM414 75h2v1h-2zM418 75h4v1h-4zM423 75h5v1h-5zM429 75h1v1h-1zM431 75h1v1h-1zM433 75h26v1h-26zM460 75h2v1h-2zM463 75h16v1h-16zM480 75h8v1h-8zM489 75h3v1h-3zM493 75h1v1h-1zM495 75h1v1h-1zM498 75h1v1h-1zM366 76h2v1h-2zM369 76h3v1h-3zM374 76h10v1h-10zM385 76h2v1h-2zM388 76h4v1h-4zM394 76h4v1h-4zM399 76h3v1h-3zM403 76h4v1h-4zM408 76h1v1h-1zM411 76h2v1h-2zM416 76h5v1h-5zM422 76h7v1h-7zM431 76h45v1h-45zM478 76h2v1h-2zM481 76h8v1h-8zM490 76h4v1h-4zM495 76h1v1h-1zM498 76h1v1h-1zM501 76h1v1h-1zM364 77h7v1h-7zM372 77h7v1h-7zM380 77h5v1h-5zM387 77h5v1h-5zM393 77h1v1h-1zM395 77h1v1h-1zM397 77h6v1h-6zM404 77h7v1h-7zM412 77h3v1h-3zM416 77h6v1h-6zM423 77h10v1h-10zM434 77h21v1h-21zM456 77h39v1h-39zM496 77h2v1h-2zM503 77h1v1h-1zM364 78h2v1h-2zM368 78h4v1h-4zM374 78h6v1h-6zM382 78h3v1h-3zM386 78h4v1h-4zM391 78h3v1h-3zM395 78h3v1h-3zM399 78h6v1h-6zM406 78h4v1h-4zM412 78h11v1h-11zM424 78h66v1h-66zM491 78h5v1h-5zM498 78h3v1h-3zM364 79h9v1h-9zM374 79h19v1h-19zM394 79h6v1h-6zM401 79h5v1h-5zM407 79h23v1h-23zM431 79h25v1h-25zM457 79h29v1h-29zM487 79h5v1h-5zM493 79h2v1h-2zM497 79h2v1h-2zM500 79h2v1h-2zM364 80h3v1h-3zM368 80h17v1h-17zM386 80h6v1h-6zM393 80h11v1h-11zM405 80h7v1h-7zM413 80h5v1h-5zM419 80h70v1h-70zM490 80h2v1h-2zM493 80h4v1h-4zM500 80h2v1h-2zM506 80h2v1h-2zM364 81h34v1h-34zM399 81h33v1h-33zM433 81h48v1h-48zM482 81h5v1h-5zM488 81h4v1h-4zM493 81h1v1h-1zM495 81h1v1h-1zM498 81h1v1h-1zM364 82h104v1h-104zM469 82h17v1h-17zM487 82h2v1h-2zM490 82h2v1h-2zM494 82h1v1h-1zM496 82h2v1h-2zM501 82h1v1h-1zM364 83h20v1h-20zM385 83h4v1h-4zM390 83h14v1h-14zM405 83h88v1h-88zM497 83h3v1h-3zM502 83h2v1h-2zM509 83h1v1h-1zM364 84h18v1h-18zM383 84h102v1h-102zM486 84h10v1h-10zM497 84h2v1h-2zM500 84h1v1h-1zM505 84h1v1h-1zM364 85h127v1h-127zM492 85h6v1h-6zM499 85h1v1h-1zM503 85h2v1h-2zM364 86h122v1h-122zM488 86h6v1h-6zM495 86h1v1h-1zM500 86h1v1h-1zM506 86h1v1h-1zM364 87h8v1h-8zM373 87h43v1h-43zM417 87h50v1h-50zM468 87h12v1h-12zM481 87h5v1h-5zM487 87h7v1h-7zM496 87h5v1h-5zM364 88h115v1h-115zM480 88h8v1h-8zM489 88h3v1h-3zM493 88h4v1h-4zM498 88h2v1h-2zM504 88h1v1h-1zM507 88h1v1h-1zM364 89h123v1h-123zM488 89h6v1h-6zM495 89h2v1h-2zM498 89h1v1h-1zM364 90h127v1h-127zM493 90h3v1h-3zM500 90h1v1h-1zM506 90h1v1h-1zM364 91h130v1h-130zM496 91h2v1h-2zM499 91h1v1h-1zM502 91h1v1h-1zM364 92h68v1h-68zM433 92h54v1h-54zM488 92h7v1h-7zM498 92h1v1h-1zM500 92h1v1h-1zM504 92h2v1h-2zM364 93h106v1h-106zM471 93h2v1h-2zM474 93h24v1h-24zM499 93h1v1h-1zM503 93h1v1h-1zM364 94h34v1h-34zM399 94h78v1h-78zM478 94h15v1h-15zM494 94h2v1h-2zM364 95h85v1h-85zM450 95h20v1h-20zM471 95h16v1h-16zM488 95h4v1h-4zM493 95h2v1h-2zM496 95h1v1h-1zM499 95h1v1h-1zM501 95h1v1h-1zM506 95h1v1h-1zM364 96h112v1h-112zM477 96h12v1h-12zM490 96h1v1h-1zM492 96h2v1h-2zM496 96h1v1h-1zM364 97h113v1h-113zM478 97h12v1h-12zM491 97h2v1h-2zM494 97h4v1h-4zM504 97h1v1h-1zM507 97h1v1h-1zM364 98h111v1h-111zM476 98h5v1h-5zM482 98h1v1h-1zM484 98h2v1h-2zM487 98h5v1h-5zM493 98h2v1h-2zM496 98h1v1h-1zM500 98h1v1h-1zM364 99h111v1h-111zM476 99h1v1h-1zM478 99h17v1h-17zM496 99h1v1h-1zM500 99h1v1h-1zM502 99h1v1h-1zM364 100h126v1h-126zM491 100h2v1h-2zM497 100h4v1h-4zM504 100h1v1h-1zM364 101h114v1h-114zM479 101h4v1h-4zM484 101h9v1h-9zM498 101h1v1h-1zM509 101h1v1h-1zM364 102h17v1h-17zM382 102h91v1h-91zM474 102h10v1h-10zM485 102h4v1h-4zM491 102h6v1h-6zM498 102h2v1h-2zM503 102h1v1h-1zM364 103h28v1h-28zM393 103h71v1h-71zM465 103h9v1h-9zM476 103h10v1h-10zM487 103h6v1h-6zM495 103h2v1h-2zM364 104h41v1h-41zM406 104h63v1h-63zM470 104h10v1h-10zM481 104h8v1h-8zM492 104h2v1h-2zM496 104h1v1h-1zM502 104h1v1h-1zM508 104h1v1h-1zM364 105h19v1h-19zM384 105h50v1h-50zM435 105h1v1h-1zM437 105h27v1h-27zM465 105h13v1h-13zM479 105h3v1h-3zM484 105h3v1h-3zM488 105h2v1h-2zM493 105h1v1h-1zM496 105h1v1h-1zM364 106h22v1h-22zM387 106h47v1h-47zM435 106h30v1h-30zM466 106h5v1h-5zM472 106h2v1h-2zM475 106h12v1h-12zM489 106h1v1h-1zM491 106h1v1h-1zM499 106h1v1h-1zM364 107h7v1h-7zM372 107h63v1h-63zM436 107h10v1h-10zM447 107h17v1h-17zM465 107h4v1h-4zM470 107h1v1h-1zM472 107h3v1h-3zM477 107h6v1h-6zM484 107h1v1h-1zM486 107h1v1h-1zM488 107h1v1h-1zM490 107h1v1h-1zM495 107h2v1h-2zM499 107h2v1h-2zM364 108h3v1h-3zM368 108h2v1h-2zM371 108h9v1h-9zM381 108h23v1h-23zM405 108h1v1h-1zM407 108h2v1h-2zM410 108h8v1h-8zM419 108h9v1h-9zM429 108h11v1h-11zM441 108h10v1h-10zM453 108h3v1h-3zM459 108h2v1h-2zM463 108h6v1h-6zM472 108h2v1h-2zM477 108h4v1h-4zM482 108h4v1h-4zM487 108h1v1h-1zM489 108h4v1h-4zM495 108h1v1h-1zM497 108h1v1h-1zM364 109h9v1h-9zM374 109h3v1h-3zM379 109h1v1h-1zM381 109h6v1h-6zM388 109h16v1h-16zM405 109h5v1h-5zM411 109h10v1h-10zM422 109h2v1h-2zM425 109h1v1h-1zM427 109h1v1h-1zM429 109h2v1h-2zM432 109h9v1h-9zM443 109h1v1h-1zM445 109h9v1h-9zM456 109h5v1h-5zM462 109h4v1h-4zM467 109h1v1h-1zM470 109h2v1h-2zM473 109h1v1h-1zM476 109h2v1h-2zM480 109h2v1h-2zM484 109h3v1h-3zM488 109h2v1h-2zM493 109h2v1h-2zM365 110h1v1h-1zM367 110h8v1h-8zM376 110h7v1h-7zM384 110h1v1h-1zM386 110h1v1h-1zM388 110h2v1h-2zM391 110h5v1h-5zM397 110h1v1h-1zM399 110h5v1h-5zM407 110h5v1h-5zM414 110h6v1h-6zM421 110h3v1h-3zM426 110h1v1h-1zM428 110h1v1h-1zM430 110h4v1h-4zM435 110h2v1h-2zM438 110h1v1h-1zM441 110h17v1h-17zM459 110h3v1h-3zM463 110h6v1h-6zM470 110h4v1h-4zM475 110h2v1h-2zM478 110h2v1h-2zM481 110h3v1h-3zM486 110h2v1h-2zM490 110h1v1h-1zM501 110h1v1h-1zM364 111h3v1h-3zM369 111h1v1h-1zM373 111h1v1h-1zM375 111h3v1h-3zM379 111h2v1h-2zM383 111h3v1h-3zM387 111h2v1h-2zM392 111h4v1h-4zM397 111h1v1h-1zM399 111h2v1h-2zM403 111h1v1h-1zM406 111h3v1h-3zM411 111h2v1h-2zM415 111h2v1h-2zM418 111h4v1h-4zM424 111h1v1h-1zM426 111h1v1h-1zM428 111h1v1h-1zM430 111h2v1h-2zM433 111h1v1h-1zM435 111h5v1h-5zM442 111h1v1h-1zM445 111h4v1h-4zM450 111h3v1h-3zM455 111h1v1h-1zM457 111h1v1h-1zM461 111h2v1h-2zM464 111h1v1h-1zM468 111h2v1h-2zM471 111h1v1h-1zM474 111h4v1h-4zM479 111h1v1h-1zM481 111h3v1h-3zM485 111h1v1h-1zM487 111h1v1h-1zM490 111h1v1h-1zM364 112h4v1h-4zM369 112h1v1h-1zM371 112h3v1h-3zM376 112h8v1h-8zM385 112h1v1h-1zM389 112h1v1h-1zM391 112h2v1h-2zM397 112h1v1h-1zM401 112h1v1h-1zM403 112h1v1h-1zM406 112h1v1h-1zM408 112h3v1h-3zM413 112h1v1h-1zM415 112h4v1h-4zM421 112h6v1h-6zM430 112h3v1h-3zM436 112h6v1h-6zM443 112h2v1h-2zM446 112h4v1h-4zM452 112h1v1h-1zM454 112h4v1h-4zM460 112h7v1h-7zM468 112h5v1h-5zM474 112h2v1h-2zM478 112h2v1h-2zM482 112h1v1h-1zM484 112h1v1h-1zM486 112h1v1h-1zM488 112h2v1h-2zM491 112h1v1h-1zM365 113h3v1h-3zM369 113h4v1h-4zM374 113h3v1h-3zM378 113h1v1h-1zM380 113h1v1h-1zM382 113h3v1h-3zM387 113h4v1h-4zM394 113h1v1h-1zM397 113h1v1h-1zM399 113h8v1h-8zM408 113h1v1h-1zM410 113h4v1h-4zM416 113h3v1h-3zM420 113h1v1h-1zM426 113h3v1h-3zM432 113h2v1h-2zM437 113h1v1h-1zM440 113h4v1h-4zM447 113h5v1h-5zM453 113h1v1h-1zM456 113h3v1h-3zM461 113h8v1h-8zM470 113h3v1h-3zM476 113h1v1h-1zM479 113h3v1h-3zM483 113h1v1h-1zM487 113h1v1h-1zM490 113h1v1h-1zM492 113h2v1h-2zM365 114h3v1h-3zM372 114h3v1h-3zM378 114h1v1h-1zM380 114h4v1h-4zM385 114h1v1h-1zM387 114h5v1h-5zM394 114h1v1h-1zM398 114h3v1h-3zM402 114h4v1h-4zM407 114h2v1h-2zM411 114h1v1h-1zM415 114h1v1h-1zM417 114h2v1h-2zM420 114h1v1h-1zM422 114h1v1h-1zM424 114h2v1h-2zM427 114h3v1h-3zM432 114h4v1h-4zM439 114h1v1h-1zM441 114h1v1h-1zM443 114h2v1h-2zM447 114h4v1h-4zM453 114h5v1h-5zM459 114h2v1h-2zM462 114h1v1h-1zM464 114h2v1h-2zM468 114h4v1h-4zM474 114h3v1h-3zM495 114h1v1h-1zM364 115h5v1h-5zM373 115h1v1h-1zM375 115h1v1h-1zM381 115h1v1h-1zM383 115h2v1h-2zM387 115h1v1h-1zM389 115h1v1h-1zM392 115h1v1h-1zM394 115h8v1h-8zM403 115h1v1h-1zM405 115h1v1h-1zM407 115h1v1h-1zM410 115h2v1h-2zM413 115h2v1h-2zM417 115h4v1h-4zM422 115h2v1h-2zM427 115h2v1h-2zM435 115h1v1h-1zM437 115h1v1h-1zM439 115h1v1h-1zM441 115h2v1h-2zM446 115h2v1h-2zM451 115h2v1h-2zM454 115h12v1h-12zM467 115h1v1h-1zM469 115h3v1h-3zM481 115h1v1h-1zM488 115h1v1h-1zM495 115h1v1h-1zM373 116h1v1h-1zM376 116h1v1h-1zM379 116h2v1h-2zM384 116h2v1h-2zM387 116h1v1h-1zM392 116h1v1h-1zM394 116h1v1h-1zM397 116h1v1h-1zM400 116h2v1h-2zM403 116h1v1h-1zM406 116h3v1h-3zM411 116h2v1h-2zM415 116h1v1h-1zM418 116h3v1h-3zM424 116h1v1h-1zM432 116h3v1h-3zM439 116h1v1h-1zM441 116h1v1h-1zM443 116h2v1h-2zM446 116h2v1h-2zM449 116h3v1h-3zM453 116h1v1h-1zM455 116h2v1h-2zM458 116h3v1h-3zM462 116h2v1h-2zM466 116h2v1h-2zM471 116h3v1h-3zM479 116h1v1h-1zM483 116h2v1h-2zM489 116h1v1h-1zM496 116h1v1h-1zM364 117h1v1h-1zM367 117h5v1h-5zM373 117h2v1h-2zM376 117h4v1h-4zM383 117h1v1h-1zM387 117h3v1h-3zM392 117h2v1h-2zM398 117h1v1h-1zM400 117h2v1h-2zM404 117h1v1h-1zM407 117h1v1h-1zM409 117h1v1h-1zM411 117h1v1h-1zM413 117h1v1h-1zM415 117h1v1h-1zM418 117h1v1h-1zM424 117h2v1h-2zM429 117h1v1h-1zM431 117h6v1h-6zM438 117h5v1h-5zM445 117h4v1h-4zM450 117h1v1h-1zM452 117h1v1h-1zM455 117h1v1h-1zM457 117h1v1h-1zM459 117h1v1h-1zM461 117h2v1h-2zM467 117h2v1h-2zM470 117h1v1h-1zM474 117h1v1h-1zM476 117h2v1h-2zM481 117h1v1h-1zM364 118h1v1h-1zM367 118h1v1h-1zM369 118h1v1h-1zM372 118h1v1h-1zM374 118h1v1h-1zM376 118h2v1h-2zM383 118h2v1h-2zM386 118h3v1h-3zM392 118h1v1h-1zM394 118h1v1h-1zM396 118h1v1h-1zM399 118h3v1h-3zM403 118h1v1h-1zM405 118h3v1h-3zM410 118h4v1h-4zM415 118h3v1h-3zM419 118h1v1h-1zM424 118h7v1h-7zM434 118h2v1h-2zM438 118h1v1h-1zM441 118h7v1h-7zM449 118h1v1h-1zM454 118h2v1h-2zM458 118h3v1h-3zM463 118h2v1h-2zM466 118h1v1h-1zM469 118h1v1h-1zM472 118h1v1h-1zM477 118h1v1h-1zM479 118h1v1h-1zM483 118h1v1h-1zM488 118h1v1h-1zM490 118h1v1h-1zM492 118h1v1h-1zM369 119h1v1h-1zM375 119h3v1h-3zM380 119h1v1h-1zM382 119h1v1h-1zM384 119h1v1h-1zM388 119h2v1h-2zM393 119h2v1h-2zM407 119h2v1h-2zM410 119h1v1h-1zM412 119h2v1h-2zM415 119h1v1h-1zM417 119h2v1h-2zM420 119h1v1h-1zM422 119h1v1h-1zM431 119h2v1h-2zM434 119h1v1h-1zM443 119h3v1h-3zM448 119h6v1h-6zM458 119h1v1h-1zM463 119h1v1h-1zM465 119h3v1h-3zM471 119h1v1h-1zM475 119h1v1h-1zM486 119h1v1h-1zM490 119h1v1h-1zM492 119h1v1h-1zM364 120h1v1h-1zM366 120h1v1h-1zM368 120h2v1h-2zM372 120h1v1h-1zM376 120h1v1h-1zM379 120h2v1h-2zM382 120h1v1h-1zM384 120h1v1h-1zM388 120h1v1h-1zM390 120h3v1h-3zM395 120h1v1h-1zM398 120h1v1h-1zM401 120h1v1h-1zM403 120h2v1h-2zM406 120h1v1h-1zM408 120h3v1h-3zM413 120h2v1h-2zM416 120h2v1h-2zM420 120h1v1h-1zM424 120h3v1h-3zM428 120h2v1h-2zM434 120h2v1h-2zM437 120h1v1h-1zM439 120h1v1h-1zM441 120h1v1h-1zM443 120h1v1h-1zM447 120h1v1h-1zM450 120h3v1h-3zM454 120h1v1h-1zM456 120h2v1h-2zM459 120h1v1h-1zM461 120h1v1h-1zM463 120h3v1h-3zM471 120h2v1h-2zM480 120h1v1h-1zM364 121h3v1h-3zM369 121h1v1h-1zM373 121h1v1h-1zM375 121h1v1h-1zM377 121h5v1h-5zM383 121h5v1h-5zM390 121h1v1h-1zM392 121h3v1h-3zM399 121h1v1h-1zM403 121h1v1h-1zM405 121h1v1h-1zM407 121h7v1h-7zM415 121h2v1h-2zM421 121h2v1h-2zM425 121h1v1h-1zM429 121h2v1h-2zM434 121h3v1h-3zM439 121h2v1h-2zM444 121h2v1h-2zM447 121h1v1h-1zM452 121h1v1h-1zM455 121h1v1h-1zM457 121h2v1h-2zM462 121h2v1h-2zM467 121h1v1h-1zM471 121h2v1h-2zM364 122h1v1h-1zM366 122h1v1h-1zM368 122h2v1h-2zM372 122h1v1h-1zM374 122h1v1h-1zM376 122h1v1h-1zM380 122h2v1h-2zM383 122h2v1h-2zM391 122h2v1h-2zM394 122h3v1h-3zM398 122h3v1h-3zM402 122h1v1h-1zM404 122h1v1h-1zM406 122h3v1h-3zM411 122h2v1h-2zM415 122h2v1h-2zM419 122h1v1h-1zM421 122h3v1h-3zM428 122h1v1h-1zM430 122h2v1h-2zM433 122h2v1h-2zM437 122h3v1h-3zM441 122h1v1h-1zM444 122h2v1h-2zM449 122h1v1h-1zM451 122h2v1h-2zM457 122h1v1h-1zM459 122h2v1h-2zM462 122h1v1h-1zM466 122h1v1h-1zM468 122h1v1h-1zM470 122h1v1h-1zM476 122h1v1h-1zM365 123h1v1h-1zM367 123h1v1h-1zM372 123h1v1h-1zM380 123h3v1h-3zM384 123h1v1h-1zM386 123h3v1h-3zM390 123h1v1h-1zM395 123h4v1h-4zM401 123h2v1h-2zM405 123h1v1h-1zM411 123h5v1h-5zM417 123h2v1h-2zM423 123h2v1h-2zM426 123h1v1h-1zM433 123h1v1h-1zM435 123h1v1h-1zM437 123h1v1h-1zM442 123h1v1h-1zM447 123h2v1h-2zM450 123h1v1h-1zM452 123h1v1h-1zM454 123h2v1h-2zM457 123h2v1h-2zM466 123h1v1h-1zM469 123h2v1h-2zM473 123h2v1h-2zM365 124h1v1h-1zM369 124h2v1h-2zM376 124h1v1h-1zM379 124h6v1h-6zM389 124h1v1h-1zM393 124h2v1h-2zM404 124h4v1h-4zM413 124h1v1h-1zM418 124h1v1h-1zM421 124h3v1h-3zM428 124h2v1h-2zM433 124h1v1h-1zM435 124h1v1h-1zM439 124h1v1h-1zM441 124h1v1h-1zM445 124h1v1h-1zM447 124h1v1h-1zM451 124h2v1h-2zM457 124h1v1h-1zM461 124h2v1h-2zM467 124h1v1h-1zM470 124h4v1h-4zM484 124h1v1h-1zM364 125h1v1h-1zM366 125h1v1h-1zM372 125h1v1h-1zM374 125h1v1h-1zM376 125h1v1h-1zM379 125h3v1h-3zM384 125h1v1h-1zM387 125h1v1h-1zM392 125h1v1h-1zM395 125h6v1h-6zM403 125h1v1h-1zM406 125h1v1h-1zM410 125h2v1h-2zM415 125h1v1h-1zM418 125h1v1h-1zM423 125h1v1h-1zM425 125h1v1h-1zM434 125h1v1h-1zM436 125h6v1h-6zM444 125h3v1h-3zM450 125h1v1h-1zM458 125h1v1h-1zM460 125h2v1h-2zM463 125h1v1h-1zM469 125h1v1h-1zM471 125h1v1h-1zM476 125h2v1h-2zM365 126h1v1h-1zM371 126h1v1h-1zM377 126h3v1h-3zM381 126h1v1h-1zM383 126h1v1h-1zM386 126h2v1h-2zM392 126h1v1h-1zM402 126h1v1h-1zM404 126h2v1h-2zM408 126h1v1h-1zM411 126h2v1h-2zM414 126h1v1h-1zM420 126h1v1h-1zM422 126h1v1h-1zM424 126h1v1h-1zM427 126h4v1h-4zM435 126h1v1h-1zM439 126h2v1h-2zM442 126h1v1h-1zM445 126h1v1h-1zM447 126h1v1h-1zM455 126h2v1h-2zM463 126h1v1h-1zM467 126h1v1h-1zM487 126h1v1h-1zM364 127h1v1h-1zM368 127h2v1h-2zM371 127h1v1h-1zM373 127h1v1h-1zM377 127h2v1h-2zM382 127h1v1h-1zM384 127h3v1h-3zM388 127h1v1h-1zM391 127h1v1h-1zM393 127h1v1h-1zM400 127h2v1h-2zM405 127h1v1h-1zM408 127h1v1h-1zM416 127h1v1h-1zM419 127h1v1h-1zM421 127h1v1h-1zM426 127h2v1h-2zM431 127h1v1h-1zM440 127h2v1h-2zM444 127h1v1h-1zM446 127h2v1h-2zM449 127h3v1h-3zM457 127h1v1h-1zM460 127h2v1h-2zM463 127h1v1h-1zM469 127h1v1h-1zM472 127h1v1h-1zM478 127h2v1h-2zM364 128h1v1h-1zM366 128h1v1h-1zM369 128h2v1h-2zM375 128h1v1h-1zM377 128h1v1h-1zM380 128h2v1h-2zM384 128h1v1h-1zM388 128h1v1h-1zM390 128h2v1h-2zM393 128h2v1h-2zM398 128h1v1h-1zM401 128h2v1h-2zM405 128h3v1h-3zM413 128h2v1h-2zM420 128h1v1h-1zM423 128h4v1h-4zM430 128h1v1h-1zM433 128h1v1h-1zM436 128h1v1h-1zM438 128h1v1h-1zM440 128h1v1h-1zM442 128h2v1h-2zM445 128h5v1h-5zM451 128h1v1h-1zM455 128h1v1h-1zM463 128h1v1h-1zM471 128h2v1h-2zM474 128h1v1h-1zM485 128h1v1h-1zM364 129h1v1h-1zM366 129h3v1h-3zM379 129h2v1h-2zM387 129h1v1h-1zM390 129h1v1h-1zM398 129h1v1h-1zM401 129h1v1h-1zM405 129h1v1h-1zM407 129h2v1h-2zM411 129h1v1h-1zM414 129h1v1h-1zM418 129h2v1h-2zM421 129h1v1h-1zM425 129h5v1h-5zM432 129h1v1h-1zM435 129h1v1h-1zM437 129h1v1h-1zM441 129h1v1h-1zM443 129h1v1h-1zM453 129h2v1h-2zM458 129h2v1h-2zM463 129h1v1h-1zM465 129h3v1h-3zM472 129h1v1h-1zM474 129h1v1h-1zM489 129h1v1h-1zM366 130h1v1h-1zM370 130h1v1h-1zM373 130h2v1h-2zM376 130h2v1h-2zM379 130h2v1h-2zM383 130h2v1h-2zM389 130h1v1h-1zM399 130h1v1h-1zM401 130h2v1h-2zM408 130h2v1h-2zM412 130h2v1h-2zM415 130h1v1h-1zM422 130h1v1h-1zM427 130h4v1h-4zM432 130h3v1h-3zM440 130h2v1h-2zM450 130h2v1h-2zM453 130h5v1h-5zM461 130h1v1h-1zM465 130h1v1h-1zM474 130h2v1h-2zM484 130h1v1h-1zM364 131h1v1h-1zM366 131h2v1h-2zM371 131h2v1h-2zM375 131h1v1h-1zM378 131h1v1h-1zM385 131h1v1h-1zM387 131h1v1h-1zM389 131h1v1h-1zM391 131h1v1h-1zM396 131h1v1h-1zM401 131h1v1h-1zM406 131h1v1h-1zM408 131h1v1h-1zM411 131h1v1h-1zM415 131h1v1h-1zM422 131h1v1h-1zM425 131h1v1h-1zM427 131h1v1h-1zM430 131h1v1h-1zM434 131h2v1h-2zM437 131h2v1h-2zM447 131h1v1h-1zM451 131h1v1h-1zM454 131h2v1h-2zM458 131h1v1h-1zM464 131h1v1h-1zM466 131h1v1h-1zM485 131h1v1h-1zM364 132h1v1h-1zM367 132h1v1h-1zM374 132h1v1h-1zM376 132h1v1h-1zM378 132h1v1h-1zM383 132h3v1h-3zM387 132h2v1h-2zM391 132h1v1h-1zM397 132h1v1h-1zM401 132h1v1h-1zM412 132h1v1h-1zM420 132h1v1h-1zM424 132h1v1h-1zM428 132h1v1h-1zM430 132h1v1h-1zM433 132h1v1h-1zM437 132h3v1h-3zM441 132h1v1h-1zM443 132h1v1h-1zM446 132h1v1h-1zM448 132h1v1h-1zM451 132h3v1h-3zM455 132h1v1h-1zM457 132h1v1h-1zM461 132h2v1h-2zM465 132h1v1h-1zM470 132h1v1h-1zM488 132h1v1h-1zM372 133h1v1h-1zM374 133h1v1h-1zM378 133h2v1h-2zM382 133h1v1h-1zM387 133h2v1h-2zM390 133h1v1h-1zM392 133h1v1h-1zM394 133h1v1h-1zM402 133h1v1h-1zM406 133h2v1h-2zM409 133h1v1h-1zM414 133h1v1h-1zM417 133h1v1h-1zM419 133h1v1h-1zM423 133h1v1h-1zM430 133h2v1h-2zM442 133h1v1h-1zM444 133h2v1h-2zM452 133h1v1h-1zM458 133h1v1h-1zM461 133h1v1h-1zM368 134h1v1h-1zM370 134h1v1h-1zM372 134h1v1h-1zM374 134h1v1h-1zM377 134h1v1h-1zM380 134h1v1h-1zM385 134h1v1h-1zM389 134h1v1h-1zM393 134h1v1h-1zM407 134h1v1h-1zM413 134h1v1h-1zM420 134h1v1h-1zM422 134h1v1h-1zM424 134h1v1h-1zM429 134h2v1h-2zM433 134h2v1h-2zM438 134h3v1h-3zM442 134h1v1h-1zM450 134h1v1h-1zM454 134h2v1h-2zM460 134h1v1h-1zM464 134h1v1h-1zM467 134h1v1h-1zM469 134h1v1h-1zM471 134h1v1h-1zM507 134h1v1h-1zM364 135h3v1h-3zM370 135h1v1h-1zM373 135h1v1h-1zM378 135h1v1h-1zM382 135h1v1h-1zM387 135h1v1h-1zM394 135h2v1h-2zM399 135h1v1h-1zM401 135h1v1h-1zM405 135h1v1h-1zM407 135h4v1h-4zM414 135h2v1h-2zM427 135h1v1h-1zM432 135h1v1h-1zM439 135h2v1h-2zM443 135h1v1h-1zM445 135h1v1h-1zM450 135h1v1h-1zM452 135h1v1h-1zM457 135h1v1h-1zM459 135h1v1h-1zM463 135h1v1h-1zM466 135h1v1h-1zM471 135h1v1h-1zM475 135h1v1h-1zM366 136h3v1h-3zM373 136h2v1h-2zM379 136h1v1h-1zM383 136h5v1h-5zM392 136h1v1h-1zM395 136h1v1h-1zM402 136h1v1h-1zM404 136h1v1h-1zM411 136h3v1h-3zM415 136h2v1h-2zM423 136h2v1h-2zM426 136h1v1h-1zM430 136h1v1h-1zM433 136h1v1h-1zM435 136h1v1h-1zM445 136h2v1h-2zM448 136h1v1h-1zM450 136h1v1h-1zM456 136h1v1h-1zM458 136h2v1h-2zM461 136h1v1h-1zM478 136h1v1h-1zM486 136h1v1h-1zM366 137h1v1h-1zM384 137h1v1h-1zM392 137h1v1h-1zM405 137h1v1h-1zM416 137h1v1h-1zM419 137h1v1h-1zM422 137h1v1h-1zM424 137h1v1h-1zM427 137h1v1h-1zM431 137h2v1h-2zM435 137h2v1h-2zM442 137h1v1h-1zM446 137h1v1h-1zM454 137h2v1h-2zM457 137h2v1h-2zM468 137h1v1h-1zM478 137h1v1h-1zM364 138h1v1h-1zM366 138h1v1h-1zM368 138h1v1h-1zM374 138h1v1h-1zM377 138h2v1h-2zM380 138h2v1h-2zM384 138h1v1h-1zM388 138h1v1h-1zM391 138h1v1h-1zM396 138h1v1h-1zM398 138h1v1h-1zM400 138h1v1h-1zM402 138h2v1h-2zM408 138h3v1h-3zM412 138h1v1h-1zM416 138h1v1h-1zM419 138h1v1h-1zM421 138h1v1h-1zM427 138h2v1h-2zM443 138h1v1h-1zM447 138h2v1h-2zM453 138h1v1h-1zM456 138h1v1h-1zM461 138h1v1h-1zM473 138h3v1h-3zM480 138h1v1h-1zM379 139h1v1h-1zM383 139h1v1h-1zM385 139h1v1h-1zM388 139h1v1h-1zM396 139h1v1h-1zM401 139h2v1h-2zM405 139h1v1h-1zM407 139h1v1h-1zM411 139h1v1h-1zM424 139h1v1h-1zM436 139h1v1h-1zM442 139h1v1h-1zM446 139h1v1h-1zM461 139h3v1h-3zM465 139h1v1h-1zM469 139h1v1h-1zM472 139h1v1h-1zM481 139h1v1h-1zM365 140h1v1h-1zM368 140h1v1h-1zM373 140h1v1h-1zM387 140h1v1h-1zM395 140h1v1h-1zM411 140h1v1h-1zM423 140h1v1h-1zM427 140h2v1h-2zM434 140h1v1h-1zM437 140h2v1h-2zM441 140h1v1h-1zM443 140h1v1h-1zM448 140h1v1h-1zM452 140h2v1h-2zM455 140h1v1h-1zM464 140h2v1h-2zM474 140h1v1h-1zM372 141h1v1h-1zM378 141h1v1h-1zM383 141h1v1h-1zM406 141h3v1h-3zM417 141h1v1h-1zM424 141h1v1h-1zM426 141h1v1h-1zM428 141h1v1h-1zM434 141h1v1h-1zM436 141h1v1h-1zM438 141h1v1h-1zM443 141h1v1h-1zM455 141h1v1h-1zM460 141h2v1h-2zM465 141h1v1h-1zM469 141h3v1h-3zM479 141h1v1h-1zM487 141h1v1h-1zM505 141h1v1h-1zM365 142h1v1h-1zM370 142h1v1h-1zM376 142h1v1h-1zM389 142h1v1h-1zM391 142h1v1h-1zM394 142h2v1h-2zM401 142h1v1h-1zM411 142h1v1h-1zM417 142h1v1h-1zM422 142h1v1h-1zM429 142h2v1h-2zM436 142h1v1h-1zM439 142h1v1h-1zM442 142h2v1h-2zM446 142h1v1h-1zM448 142h1v1h-1zM450 142h1v1h-1zM452 142h1v1h-1zM467 142h1v1h-1zM472 142h1v1h-1zM476 142h1v1h-1zM480 142h1v1h-1zM487 142h1v1h-1zM364 143h2v1h-2zM368 143h1v1h-1zM373 143h1v1h-1zM376 143h1v1h-1zM381 143h1v1h-1zM387 143h1v1h-1zM389 143h1v1h-1zM401 143h1v1h-1zM403 143h1v1h-1zM413 143h1v1h-1zM419 143h1v1h-1zM421 143h1v1h-1zM424 143h2v1h-2zM432 143h2v1h-2zM450 143h1v1h-1zM466 143h1v1h-1zM470 143h2v1h-2zM474 143h1v1h-1zM480 143h1v1h-1zM364 144h1v1h-1zM366 144h3v1h-3zM378 144h1v1h-1zM384 144h1v1h-1zM387 144h1v1h-1zM394 144h2v1h-2zM398 144h1v1h-1zM407 144h2v1h-2zM411 144h1v1h-1zM417 144h1v1h-1zM419 144h1v1h-1zM424 144h1v1h-1zM438 144h2v1h-2zM451 144h1v1h-1zM456 144h1v1h-1zM458 144h1v1h-1zM462 144h2v1h-2zM470 144h1v1h-1zM473 144h1v1h-1zM479 144h2v1h-2zM364 145h1v1h-1zM367 145h1v1h-1zM377 145h1v1h-1zM379 145h1v1h-1zM386 145h1v1h-1zM390 145h2v1h-2zM397 145h1v1h-1zM400 145h1v1h-1zM409 145h1v1h-1zM416 145h1v1h-1zM422 145h1v1h-1zM428 145h1v1h-1zM430 145h1v1h-1zM454 145h1v1h-1zM457 145h1v1h-1zM480 145h1v1h-1zM487 145h1v1h-1zM368 146h1v1h-1zM381 146h1v1h-1zM389 146h1v1h-1zM399 146h2v1h-2zM411 146h1v1h-1zM413 146h1v1h-1zM421 146h1v1h-1zM429 146h2v1h-2zM433 146h1v1h-1zM435 146h1v1h-1zM442 146h1v1h-1zM468 146h1v1h-1zM471 146h1v1h-1zM481 146h1v1h-1zM371 147h1v1h-1zM389 147h1v1h-1zM391 147h1v1h-1zM399 147h1v1h-1zM403 147h1v1h-1zM408 147h1v1h-1zM423 147h2v1h-2zM429 147h1v1h-1zM456 147h1v1h-1zM462 147h1v1h-1zM464 147h1v1h-1zM471 147h2v1h-2zM482 147h1v1h-1zM487 147h2v1h-2zM494 147h1v1h-1zM365 148h1v1h-1zM368 148h1v1h-1zM376 148h1v1h-1zM382 148h2v1h-2zM385 148h1v1h-1zM390 148h1v1h-1zM405 148h1v1h-1zM408 148h1v1h-1zM412 148h1v1h-1zM423 148h1v1h-1zM425 148h1v1h-1zM428 148h2v1h-2zM431 148h1v1h-1zM454 148h1v1h-1zM456 148h1v1h-1zM459 148h1v1h-1zM463 148h1v1h-1zM469 148h1v1h-1zM477 148h1v1h-1zM480 148h2v1h-2zM483 148h1v1h-1zM485 148h1v1h-1zM500 148h1v1h-1zM373 149h1v1h-1zM389 149h1v1h-1zM391 149h1v1h-1zM394 149h1v1h-1zM403 149h1v1h-1zM406 149h1v1h-1zM421 149h1v1h-1zM433 149h1v1h-1zM438 149h1v1h-1zM445 149h1v1h-1zM449 149h1v1h-1zM455 149h1v1h-1zM469 149h1v1h-1zM496 149h1v1h-1zM364 150h1v1h-1zM366 150h1v1h-1zM368 150h1v1h-1zM382 150h1v1h-1zM385 150h1v1h-1zM387 150h1v1h-1zM394 150h1v1h-1zM408 150h2v1h-2zM419 150h1v1h-1zM428 150h1v1h-1zM433 150h1v1h-1zM435 150h1v1h-1zM442 150h1v1h-1zM444 150h1v1h-1zM468 150h1v1h-1zM471 150h1v1h-1zM474 150h1v1h-1zM364 151h2v1h-2zM390 151h2v1h-2zM409 151h1v1h-1zM412 151h1v1h-1zM416 151h1v1h-1zM426 151h1v1h-1zM435 151h1v1h-1zM439 151h1v1h-1zM446 151h1v1h-1zM452 151h1v1h-1zM459 151h1v1h-1zM461 151h1v1h-1zM364 152h1v1h-1zM390 152h2v1h-2zM404 152h1v1h-1zM409 152h1v1h-1zM422 152h1v1h-1zM426 152h1v1h-1zM431 152h1v1h-1zM453 152h1v1h-1zM457 152h1v1h-1zM463 152h1v1h-1zM468 152h1v1h-1zM474 152h1v1h-1zM477 152h1v1h-1zM364 153h1v1h-1zM366 153h1v1h-1zM368 153h1v1h-1zM383 153h1v1h-1zM389 153h1v1h-1zM400 153h1v1h-1zM428 153h1v1h-1zM435 153h1v1h-1zM466 153h1v1h-1zM469 153h1v1h-1zM481 153h1v1h-1zM364 154h2v1h-2zM379 154h1v1h-1zM399 154h1v1h-1zM402 154h1v1h-1zM411 154h1v1h-1zM415 154h1v1h-1zM417 154h1v1h-1zM420 154h1v1h-1zM426 154h1v1h-1zM433 154h1v1h-1zM435 154h1v1h-1zM442 154h1v1h-1zM444 154h3v1h-3zM455 154h1v1h-1zM463 154h1v1h-1zM474 154h2v1h-2zM364 155h1v1h-1zM366 155h2v1h-2zM371 155h1v1h-1zM377 155h1v1h-1zM380 155h1v1h-1zM396 155h1v1h-1zM398 155h1v1h-1zM402 155h2v1h-2zM421 155h1v1h-1zM425 155h1v1h-1zM427 155h2v1h-2zM430 155h1v1h-1zM443 155h1v1h-1zM446 155h1v1h-1zM457 155h2v1h-2zM463 155h1v1h-1zM470 155h2v1h-2zM364 156h1v1h-1zM377 156h1v1h-1zM379 156h1v1h-1zM381 156h1v1h-1zM384 156h1v1h-1zM387 156h1v1h-1zM390 156h1v1h-1zM408 156h2v1h-2zM411 156h3v1h-3zM416 156h1v1h-1zM418 156h1v1h-1zM425 156h1v1h-1zM432 156h4v1h-4zM437 156h1v1h-1zM440 156h1v1h-1zM443 156h1v1h-1zM485 156h1v1h-1zM364 157h1v1h-1zM371 157h1v1h-1zM373 157h1v1h-1zM394 157h1v1h-1zM398 157h2v1h-2zM414 157h1v1h-1zM416 157h2v1h-2zM425 157h1v1h-1zM433 157h1v1h-1zM435 157h1v1h-1zM440 157h1v1h-1zM443 157h1v1h-1zM445 157h1v1h-1zM458 157h2v1h-2zM462 157h3v1h-3zM470 157h1v1h-1zM472 157h2v1h-2zM480 157h2v1h-2zM490 157h1v1h-1zM496 157h1v1h-1zM364 158h1v1h-1zM367 158h1v1h-1zM377 158h2v1h-2zM385 158h1v1h-1zM387 158h1v1h-1zM389 158h1v1h-1zM408 158h1v1h-1zM412 158h1v1h-1zM415 158h1v1h-1zM418 158h2v1h-2zM426 158h1v1h-1zM437 158h1v1h-1zM441 158h1v1h-1zM463 158h1v1h-1zM471 158h1v1h-1zM479 158h1v1h-1zM364 159h3v1h-3zM372 159h1v1h-1zM383 159h1v1h-1zM396 159h2v1h-2zM404 159h1v1h-1zM432 159h1v1h-1zM436 159h1v1h-1zM439 159h2v1h-2zM442 159h1v1h-1zM446 159h1v1h-1zM449 159h1v1h-1zM458 159h1v1h-1zM463 159h1v1h-1zM480 159h2v1h-2zM489 159h1v1h-1zM381 160h1v1h-1zM384 160h1v1h-1zM392 160h1v1h-1zM402 160h1v1h-1zM411 160h1v1h-1zM413 160h1v1h-1zM423 160h1v1h-1zM447 160h1v1h-1zM454 160h1v1h-1zM459 160h1v1h-1zM461 160h1v1h-1zM466 160h2v1h-2zM365 161h3v1h-3zM382 161h2v1h-2zM396 161h1v1h-1zM398 161h1v1h-1zM413 161h1v1h-1zM417 161h1v1h-1zM458 161h2v1h-2zM464 161h1v1h-1zM473 161h1v1h-1zM482 161h1v1h-1zM365 162h1v1h-1zM368 162h1v1h-1zM382 162h1v1h-1zM387 162h1v1h-1zM392 162h1v1h-1zM394 162h2v1h-2zM405 162h1v1h-1zM413 162h1v1h-1zM427 162h1v1h-1zM441 162h1v1h-1zM473 162h1v1h-1zM478 162h1v1h-1zM486 162h1v1h-1zM493 162h1v1h-1zM364 163h2v1h-2zM373 163h1v1h-1zM379 163h1v1h-1zM389 163h1v1h-1zM405 163h1v1h-1zM434 163h1v1h-1zM440 163h1v1h-1zM461 163h1v1h-1zM365 164h1v1h-1zM369 164h2v1h-2zM380 164h1v1h-1zM408 164h1v1h-1zM416 164h1v1h-1zM469 164h1v1h-1zM483 164h1v1h-1zM486 164h1v1h-1zM364 165h3v1h-3zM394 165h1v1h-1zM399 165h1v1h-1zM406 165h1v1h-1zM425 165h1v1h-1zM427 165h1v1h-1zM433 165h1v1h-1zM438 165h1v1h-1zM455 165h1v1h-1zM459 165h1v1h-1zM463 165h1v1h-1zM472 165h1v1h-1zM477 165h2v1h-2z"/>
<rect x="33.0" y="21.5" width="147.8" height="145.5" fill="none" stroke="#111" stroke-width="1.5"/>
<path d="M79.0 21.5V167.0M33.0 131.5H180.8" stroke="#111" stroke-width="1.4" fill="none"/>
<path d="M33.0 167.0v2.3M33.0 167.0h-2.3M70.0 167.0v2.3M33.0 130.6h-2.3M106.9 167.0v2.3M33.0 94.2h-2.3M143.9 167.0v2.3M33.0 57.9h-2.3M180.8 167.0v2.3M33.0 21.5h-2.3" stroke="#111" stroke-width="1.2" fill="none"/>
<text transform="translate(33.0 181.8) scale(0.91 1)" font-size="9.5" text-anchor="middle">10<tspan font-size="7.7" dy="-4.3">0</tspan></text>
<text transform="translate(70.8 181.8) scale(0.91 1)" font-size="9.5" text-anchor="middle">10<tspan font-size="7.7" dy="-4.3">1</tspan></text>
<text transform="translate(108.2 181.8) scale(0.91 1)" font-size="9.5" text-anchor="middle">10<tspan font-size="7.7" dy="-4.3">2</tspan></text>
<text transform="translate(145.0 181.8) scale(0.91 1)" font-size="9.5" text-anchor="middle">10<tspan font-size="7.7" dy="-4.3">3</tspan></text>
<text transform="translate(181.4 181.8) scale(0.91 1)" font-size="9.5" text-anchor="middle">10<tspan font-size="7.7" dy="-4.3">4</tspan></text>
<rect x="199.0" y="21.5" width="146.4" height="145.5" fill="none" stroke="#111" stroke-width="1.5"/>
<path d="M244.8 21.5V167.0M199.0 131.5H345.4" stroke="#111" stroke-width="1.4" fill="none"/>
<path d="M199.0 167.0v2.3M199.0 167.0h-2.3M235.6 167.0v2.3M199.0 130.6h-2.3M272.2 167.0v2.3M199.0 94.2h-2.3M308.8 167.0v2.3M199.0 57.9h-2.3M345.4 167.0v2.3M199.0 21.5h-2.3" stroke="#111" stroke-width="1.2" fill="none"/>
<text transform="translate(199.0 181.8) scale(0.91 1)" font-size="9.5" text-anchor="middle">10<tspan font-size="7.7" dy="-4.3">0</tspan></text>
<text transform="translate(236.0 181.8) scale(0.91 1)" font-size="9.5" text-anchor="middle">10<tspan font-size="7.7" dy="-4.3">1</tspan></text>
<text transform="translate(272.2 181.8) scale(0.91 1)" font-size="9.5" text-anchor="middle">10<tspan font-size="7.7" dy="-4.3">2</tspan></text>
<text transform="translate(308.7 181.8) scale(0.91 1)" font-size="9.5" text-anchor="middle">10<tspan font-size="7.7" dy="-4.3">3</tspan></text>
<text transform="translate(344.5 181.8) scale(0.91 1)" font-size="9.5" text-anchor="middle">10<tspan font-size="7.7" dy="-4.3">4</tspan></text>
<rect x="363.5" y="21.5" width="147.7" height="145.5" fill="none" stroke="#111" stroke-width="1.5"/>
<path d="M409.5 21.5V167.0M363.5 131.5H511.2" stroke="#111" stroke-width="1.4" fill="none"/>
<path d="M363.5 167.0v2.3M363.5 167.0h-2.3M400.4 167.0v2.3M363.5 130.6h-2.3M437.4 167.0v2.3M363.5 94.2h-2.3M474.3 167.0v2.3M363.5 57.9h-2.3M511.2 167.0v2.3M363.5 21.5h-2.3" stroke="#111" stroke-width="1.2" fill="none"/>
<text transform="translate(363.9 181.8) scale(0.91 1)" font-size="9.5" text-anchor="middle">10<tspan font-size="7.7" dy="-4.3">0</tspan></text>
<text transform="translate(400.9 181.8) scale(0.91 1)" font-size="9.5" text-anchor="middle">10<tspan font-size="7.7" dy="-4.3">1</tspan></text>
<text transform="translate(437.1 181.8) scale(0.91 1)" font-size="9.5" text-anchor="middle">10<tspan font-size="7.7" dy="-4.3">2</tspan></text>
<text transform="translate(474.0 181.8) scale(0.91 1)" font-size="9.5" text-anchor="middle">10<tspan font-size="7.7" dy="-4.3">3</tspan></text>
<text transform="translate(510.6 181.8) scale(0.91 1)" font-size="9.5" text-anchor="middle">10<tspan font-size="7.7" dy="-4.3">4</tspan></text>
<text transform="translate(28.4 166.7) rotate(-90) scale(1.0 1)" font-size="9" text-anchor="middle">10<tspan font-size="7" dy="-4.0">0</tspan></text>
<text transform="translate(28.4 130.3) rotate(-90) scale(1.0 1)" font-size="9" text-anchor="middle">10<tspan font-size="7" dy="-4.0">1</tspan></text>
<text transform="translate(28.4 94.0) rotate(-90) scale(1.0 1)" font-size="9" text-anchor="middle">10<tspan font-size="7" dy="-4.0">2</tspan></text>
<text transform="translate(28.4 57.6) rotate(-90) scale(1.0 1)" font-size="9" text-anchor="middle">10<tspan font-size="7" dy="-4.0">3</tspan></text>
<text transform="translate(28.4 21.2) rotate(-90) scale(1.0 1)" font-size="9" text-anchor="middle">10<tspan font-size="7" dy="-4.0">4</tspan></text>
<text x="107.5" y="13" font-size="15" text-anchor="middle">irGFP 1</text>
<text x="273" y="13" font-size="15" text-anchor="middle">GATA-2irGFP 1</text>
<text x="437.5" y="13" font-size="15" text-anchor="middle">GATA-2irGFP 6</text>
<text x="272" y="195.9" font-size="12" text-anchor="middle">Sca-1-PE Fluorescence</text>
<text x="272" y="304.8" font-size="12" text-anchor="middle">GFP Fluorescence</text>
<text transform="translate(10.6 94.4) rotate(-90)" font-size="12" text-anchor="middle">Lin-RED670 Fluorescence</text>
<text transform="translate(10.7 240) rotate(-90)" font-size="12" text-anchor="middle">Number of Cells</text>
<path d="M33.2 263.5 33.9 268.1 34.7 268.1 35.5 268.0 36.0 269.2 36.5 268.5 37.0 270.5 37.4 271.0 37.9 271.6 38.4 267.0 39.3 267.0 40.3 263.2 40.8 269.3 41.3 267.0 42.0 269.2 42.8 271.0 43.5 271.2 44.2 260.8 44.7 264.4 45.2 262.7 45.7 266.7 46.2 264.7 46.7 268.6 47.2 269.0 47.7 272.0 48.2 273.5 48.7 269.9 49.1 265.7 49.9 272.3 50.6 274.0 51.1 272.8 51.6 271.6 52.1 274.3 52.6 275.0 53.3 274.5 54.0 269.1 54.5 272.7 55.0 274.5 55.9 275.9 56.7 272.0 57.4 275.4 58.0 275.5 59.2 276.7 60.4 276.0 61.4 275.2 62.4 274.0 63.3 276.0 64.3 276.0 65.0 275.4 65.8 274.3 66.5 275.4 67.3 276.3 68.5 276.1 69.7 275.7 71.1 277.0 72.4 273.5 73.2 275.4 73.9 276.3 74.8 276.0 75.8 275.7 76.8 276.1 77.8 276.3 79.0 276.2 80.3 273.5 81.0 275.2 81.7 276.0 82.7 276.3 83.7 275.5 84.9 275.3 86.1 273.5 86.8 275.6 87.6 275.7 88.3 275.4 89.1 273.5 89.8 274.0 90.5 274.5 91.5 274.5 92.5 272.0 93.2 273.5 94.0 273.0 94.8 272.2 95.5 271.0 96.2 270.6 96.9 269.6 97.4 270.7 97.9 271.6 98.4 272.5 98.9 266.2 99.4 267.7 99.9 268.6 100.4 264.2 100.8 271.7 101.3 269.1 102.0 272.5 102.8 264.7 103.5 270.7 104.3 271.0 104.8 263.7 105.5 265.7 106.2 266.7 106.7 268.5 107.2 265.2 108.0 270.8 108.5 274.3 109.0 264.0 109.5 269.0 110.0 268.0 110.5 270.2 111.0 262.0 111.5 264.3 112.0 266.0 112.5 265.5 113.0 259.0 113.5 261.6 114.0 262.0 114.5 263.9 115.0 257.3 115.5 256.6 116.0 255.0 116.5 259.1 117.0 252.0 117.5 265.7 118.0 256.0 118.8 262.6 119.5 260.0 120.5 251.9 121.5 240.0 122.2 252.2 123.0 254.6 123.5 252.9 124.0 249.0 124.5 261.3 125.0 251.0 125.5 253.9 126.0 245.0 126.5 242.5 127.0 234.9 127.5 254.7 128.0 253.7 128.5 261.2 129.0 247.0 129.5 260.0 130.0 243.0 130.8 255.1 131.5 250.0 132.2 253.8 133.0 243.9 133.5 268.0 134.0 249.0 134.5 257.4 135.0 258.0 136.0 252.2 137.0 244.7 137.5 260.5 138.0 250.0 138.5 259.0 139.0 256.4 139.5 254.6 140.0 247.0 140.5 246.0 141.0 235.8 141.5 237.0 142.0 230.4 142.8 260.0 143.5 250.0 144.0 252.4 144.5 246.0 145.0 247.5 145.5 242.0 146.2 249.1 147.0 248.3 147.5 248.4 148.0 246.0 148.5 250.0 149.0 250.0 149.5 261.4 150.0 252.4 150.6 253.4 151.1 254.2 151.7 259.9 152.3 259.3 152.9 267.1 153.4 261.0 153.9 266.9 154.3 266.7 155.1 263.3 155.5 260.3 155.9 257.0 156.6 265.0 157.0 268.5 157.4 266.7 158.2 265.6 158.9 275.9 159.7 270.2 160.3 269.5 160.9 266.7 161.4 271.2 162.0 268.5 162.6 267.4 163.2 266.2 164.1 268.2 164.9 265.6 165.4 271.4 166.0 267.3 166.6 268.8 167.2 267.9 167.8 274.3 168.3 271.9 168.9 276.2 169.5 275.3 170.1 275.0 170.6 274.2 171.1 274.6 171.7 272.5 172.3 273.0 172.9 273.0 173.4 276.1 174.0 270.7 174.6 274.5 175.2 275.9 175.6 274.9 176.1 272.5 176.6 271.5 177.2 269.6 177.6 271.9 178.0 271.9 178.6 270.1 179.2 267.3 179.6 266.7 180.0 264.5 180.7 277.3" stroke="#111" stroke-width="1.3" fill="none" stroke-linejoin="round"/>
<path d="M33.0 204.0V277.5H180.8" stroke="#111" stroke-width="1.4" fill="none"/>
<path d="M33.0 277.5v2.3M70.0 277.5v2.3M106.9 277.5v2.3M143.9 277.5v2.3M180.8 277.5v2.3M33.0 204.00h-2.3M33.0 240.75h-2.3M33.0 277.50h-2.3" stroke="#111" stroke-width="1.2" fill="none"/>
<text transform="translate(33.0 291.9) scale(0.91 1)" font-size="9.5" text-anchor="middle">10<tspan font-size="7.7" dy="-4.3">0</tspan></text>
<text transform="translate(70.0 291.9) scale(0.91 1)" font-size="9.5" text-anchor="middle">10<tspan font-size="7.7" dy="-4.3">1</tspan></text>
<text transform="translate(106.9 291.9) scale(0.91 1)" font-size="9.5" text-anchor="middle">10<tspan font-size="7.7" dy="-4.3">2</tspan></text>
<text transform="translate(143.9 291.9) scale(0.91 1)" font-size="9.5" text-anchor="middle">10<tspan font-size="7.7" dy="-4.3">3</tspan></text>
<text transform="translate(180.8 291.9) scale(0.91 1)" font-size="9.5" text-anchor="middle">10<tspan font-size="7.7" dy="-4.3">4</tspan></text>
<path d="M79.0 222.2H180.8M79.0 218.7v7M180.8 218.7v7" stroke="#111" stroke-width="1.4" fill="none"/>
<path d="M199.2 269.9 199.7 271.8 200.2 256.4 200.6 268.1 201.0 263.6 201.5 268.0 202.0 255.5 202.7 261.0 203.2 257.4 203.8 248.3 204.5 243.0 205.1 271.6 205.6 252.0 206.3 235.8 206.9 233.1 207.4 244.8 207.8 252.0 208.2 259.2 208.7 248.3 209.1 260.8 209.6 258.2 210.1 260.1 210.5 244.7 210.9 259.7 211.4 241.2 211.9 248.6 212.3 234.9 212.9 233.5 213.5 230.4 214.1 247.7 214.6 239.4 215.3 247.4 215.9 262.1 216.4 243.0 217.1 256.4 217.6 258.8 218.2 250.1 218.9 267.2 219.4 263.7 220.0 252.8 220.6 254.9 221.2 256.4 221.6 269.6 222.1 267.2 222.8 267.0 223.6 258.2 224.2 263.8 224.8 266.3 225.2 264.9 225.7 260.0 226.4 265.7 227.2 269.0 227.8 273.0 228.4 265.4 229.1 269.3 229.7 270.8 230.4 269.8 231.1 268.1 231.8 271.2 232.5 273.1 233.2 272.2 233.8 270.8 234.4 273.0 235.1 274.4 235.8 275.9 236.5 272.6 237.2 271.8 237.9 275.6 238.7 275.4 239.4 275.3 240.1 273.5 240.8 276.7 241.6 275.4 242.3 276.2 243.1 276.9 243.8 276.9 244.6 276.2 245.3 275.5 246.0 274.0 246.8 276.1 247.5 275.4 248.2 275.8 249.0 272.5 249.7 274.3 250.4 273.5 251.2 276.5 251.9 269.6 252.4 273.3 252.9 271.0 253.5 272.6 254.1 267.4 254.5 264.9 254.9 252.6 255.4 268.8 255.9 265.9 256.5 270.1 257.1 261.5 257.6 257.1 258.2 252.6 258.8 242.4 259.2 252.9 259.7 262.9 260.2 270.9 260.7 273.2 261.2 273.0 261.8 268.1 262.4 266.9 262.9 255.6 263.4 262.0 263.8 266.6 264.2 272.8 264.7 273.2 265.3 269.0 265.9 264.4 266.4 267.0 266.8 255.6 267.2 269.0 267.6 270.3 268.2 276.0 268.8 274.0 269.4 273.3 270.0 272.5 270.6 274.2 271.1 274.2 271.7 277.0 272.3 275.3 272.9 274.8 273.4 272.5 274.0 264.5 274.4 270.5 274.8 275.9 275.6 274.8 276.3 273.6 276.9 275.4 277.4 275.9 278.0 275.0 278.6 271.3 279.1 273.3 279.7 274.2 280.3 276.4 280.9 275.9 281.4 274.8 282.0 273.0 282.4 271.6 282.8 268.5 283.5 275.9 284.2 275.8 284.9 275.3 285.4 274.8 286.0 273.0 286.6 274.6 287.2 275.9 287.8 276.1 288.3 274.2 289.0 275.7 289.7 276.5 290.4 275.5 291.2 274.2 291.7 268.5 292.3 276.5 293.1 277.0 294.0 276.1 294.9 275.6 295.7 274.7 296.3 275.9 296.9 276.5 297.8 276.6 298.6 275.0 299.3 276.2 300.0 276.8 345.5 277.3" stroke="#111" stroke-width="1.3" fill="none" stroke-linejoin="round"/>
<path d="M199.0 204.0V277.5H345.4" stroke="#111" stroke-width="1.4" fill="none"/>
<path d="M199.0 277.5v2.3M235.6 277.5v2.3M272.2 277.5v2.3M308.8 277.5v2.3M345.4 277.5v2.3M199.0 204.00h-2.3M199.0 240.75h-2.3M199.0 277.50h-2.3" stroke="#111" stroke-width="1.2" fill="none"/>
<text transform="translate(199.0 291.9) scale(0.91 1)" font-size="9.5" text-anchor="middle">10<tspan font-size="7.7" dy="-4.3">0</tspan></text>
<text transform="translate(235.6 291.9) scale(0.91 1)" font-size="9.5" text-anchor="middle">10<tspan font-size="7.7" dy="-4.3">1</tspan></text>
<text transform="translate(272.2 291.9) scale(0.91 1)" font-size="9.5" text-anchor="middle">10<tspan font-size="7.7" dy="-4.3">2</tspan></text>
<text transform="translate(308.8 291.9) scale(0.91 1)" font-size="9.5" text-anchor="middle">10<tspan font-size="7.7" dy="-4.3">3</tspan></text>
<text transform="translate(345.4 291.9) scale(0.91 1)" font-size="9.5" text-anchor="middle">10<tspan font-size="7.7" dy="-4.3">4</tspan></text>
<path d="M244.8 222.2H345.4M244.8 218.7v7M345.4 218.7v7" stroke="#111" stroke-width="1.4" fill="none"/>
<path d="M363.7 245.6 364.1 252.9 364.6 241.2 365.1 247.9 365.5 249.2 365.9 262.3 366.4 234.0 366.9 246.0 367.3 239.4 367.8 262.1 368.2 264.5 368.6 258.2 369.1 244.7 369.6 246.6 370.0 237.6 370.4 239.4 370.9 234.0 371.4 238.4 371.8 230.4 372.2 248.3 372.7 241.2 373.1 266.1 373.6 235.8 374.1 258.1 374.5 243.0 375.1 250.2 375.7 256.4 376.2 274.3 376.8 246.5 377.5 258.2 378.1 258.3 378.6 243.0 379.3 232.2 379.9 235.8 380.4 230.4 381.1 246.5 381.6 259.5 382.2 261.8 382.8 265.4 383.4 246.5 384.0 250.1 384.7 242.0 385.2 262.8 385.8 248.3 386.4 258.9 387.0 263.6 387.4 259.0 387.9 251.9 388.4 266.9 388.8 258.2 389.5 274.9 390.1 269.9 390.6 263.6 391.2 256.4 391.8 261.9 392.4 262.7 393.0 268.8 393.7 268.1 394.2 269.4 394.8 263.6 395.4 270.2 396.0 271.7 396.4 275.1 396.9 275.3 397.6 274.6 398.3 272.6 399.0 273.2 399.6 269.0 400.2 275.1 400.9 273.5 401.4 275.1 402.0 275.5 403.0 275.9 404.0 273.5 405.0 275.2 406.0 276.0 407.0 275.0 408.0 274.0 409.0 275.4 410.0 276.0 411.0 274.8 412.0 273.5 413.0 275.1 414.0 276.0 415.0 275.0 416.0 274.0 417.0 275.9 418.0 276.2 419.0 275.2 420.0 274.0 421.0 275.6 422.0 276.0 423.0 275.7 424.0 273.8 425.0 275.1 426.0 276.0 426.8 275.6 427.5 274.0 427.9 275.2 428.4 268.1 428.9 273.5 429.4 273.5 430.2 275.7 431.0 276.0 432.0 275.2 433.0 274.0 434.0 274.2 435.0 272.5 435.8 274.5 436.5 276.0 437.3 272.8 438.1 265.2 438.9 276.0 439.6 275.8 440.4 274.5 441.1 275.5 441.9 276.0 442.9 275.8 443.8 274.0 444.8 275.9 445.8 276.3 447.0 275.5 448.2 274.5 448.9 274.5 449.7 273.0 450.7 272.6 451.7 271.1 452.4 273.4 453.1 274.5 453.9 275.3 454.6 272.0 455.4 276.3 456.1 270.6 456.8 272.4 457.4 273.5 458.2 272.4 459.0 269.1 459.8 272.7 460.5 272.0 461.2 269.6 462.0 265.7 462.4 267.8 462.9 269.6 463.5 268.5 464.2 262.7 464.9 262.3 465.6 272.5 466.1 271.1 466.6 269.6 467.1 269.1 467.5 265.2 468.0 273.9 468.5 274.0 469.1 273.6 469.8 270.6 470.5 273.4 471.1 272.0 471.7 274.0 472.3 275.5 473.0 273.9 473.7 271.1 474.4 277.0 511.5 277.3" stroke="#111" stroke-width="1.3" fill="none" stroke-linejoin="round"/>
<path d="M363.5 204.0V277.5H511.2" stroke="#111" stroke-width="1.4" fill="none"/>
<path d="M363.5 277.5v2.3M400.4 277.5v2.3M437.4 277.5v2.3M474.3 277.5v2.3M511.2 277.5v2.3M363.5 204.00h-2.3M363.5 240.75h-2.3M363.5 277.50h-2.3" stroke="#111" stroke-width="1.2" fill="none"/>
<text transform="translate(363.5 291.9) scale(0.91 1)" font-size="9.5" text-anchor="middle">10<tspan font-size="7.7" dy="-4.3">0</tspan></text>
<text transform="translate(400.4 291.9) scale(0.91 1)" font-size="9.5" text-anchor="middle">10<tspan font-size="7.7" dy="-4.3">1</tspan></text>
<text transform="translate(437.4 291.9) scale(0.91 1)" font-size="9.5" text-anchor="middle">10<tspan font-size="7.7" dy="-4.3">2</tspan></text>
<text transform="translate(474.3 291.9) scale(0.91 1)" font-size="9.5" text-anchor="middle">10<tspan font-size="7.7" dy="-4.3">3</tspan></text>
<text transform="translate(511.2 291.9) scale(0.91 1)" font-size="9.5" text-anchor="middle">10<tspan font-size="7.7" dy="-4.3">4</tspan></text>
<path d="M409.5 222.2H511.2M409.5 218.7v7M511.2 218.7v7" stroke="#111" stroke-width="1.4" fill="none"/>
<text x="132.3" y="218.6" font-size="12.2" text-anchor="middle">82%</text>
<text x="297.1" y="218.6" font-size="12.2" text-anchor="middle">24%</text>
<text x="463.3" y="218.6" font-size="12.2" text-anchor="middle">14%</text>
</svg>
</body></html>
